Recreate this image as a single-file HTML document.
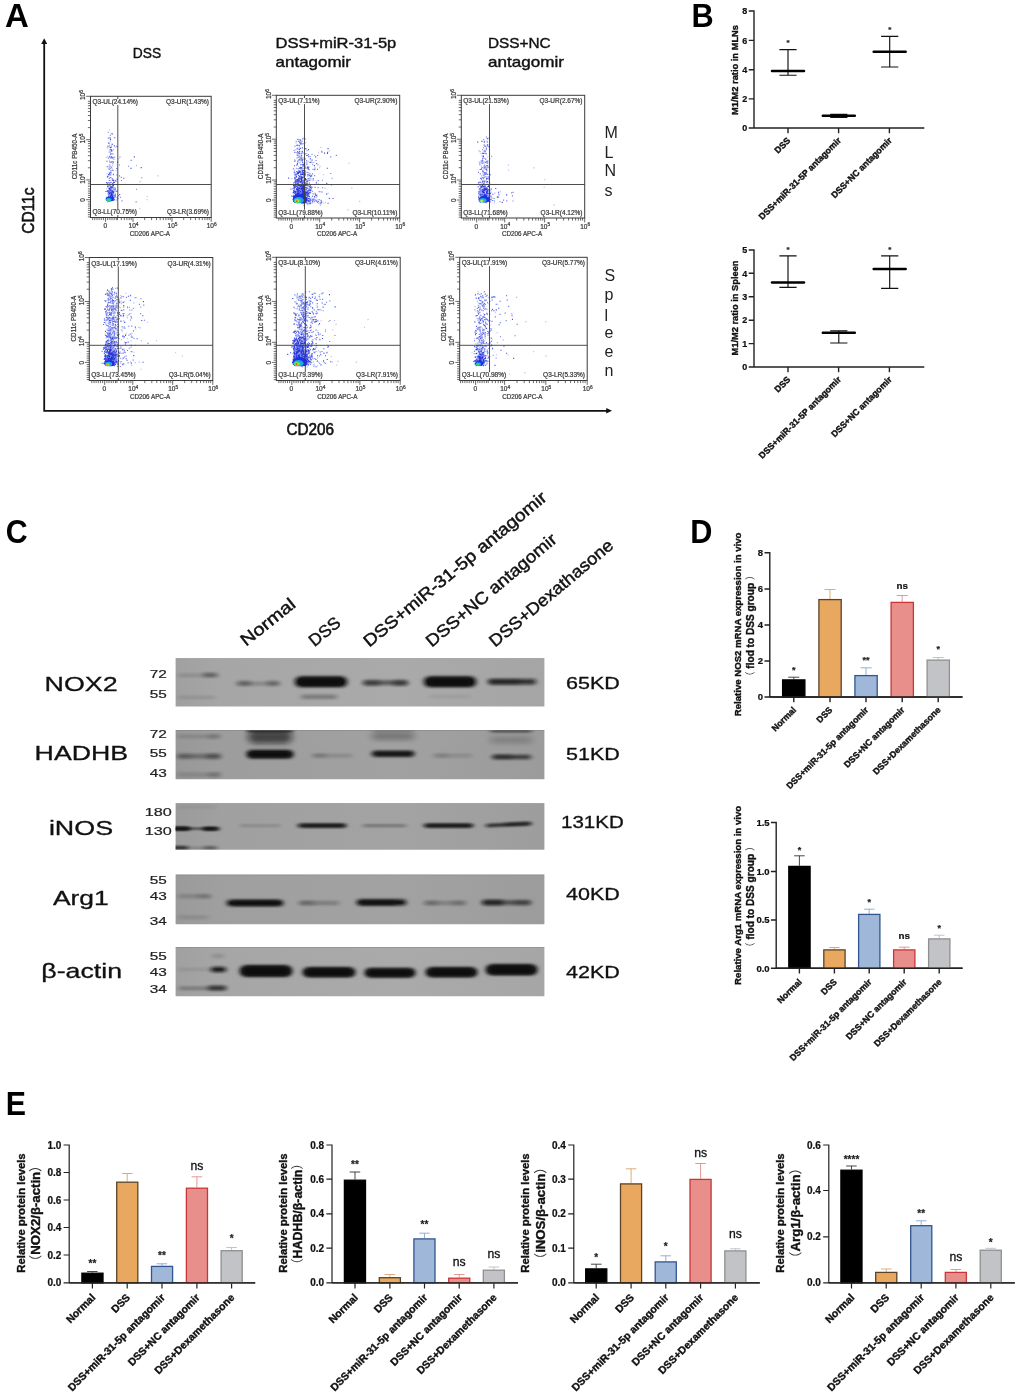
<!DOCTYPE html>
<html lang="en">
<head>
<meta charset="utf-8">
<title>Figure</title>
<style>
html,body{margin:0;padding:0;background:#fff;}
body{width:1020px;height:1399px;overflow:hidden;font-family:'Liberation Sans','Noto Sans CJK SC',sans-serif;}
svg{display:block;font-family:'Liberation Sans','Noto Sans CJK SC',sans-serif;}
</style>
</head>
<body>
<svg width="1020" height="1399" viewBox="0 0 1020 1399">
<g id="panel-letters">
<text transform="translate(4.88,27.00) scale(1.0995,1.1143)" font-size="30" font-weight="bold" fill="#000">A</text>
<text transform="translate(691.44,26.80) scale(1.0235,1.0950)" font-size="30" font-weight="bold" fill="#000">B</text>
<text transform="translate(5.76,542.70) scale(1.0107,1.1080)" font-size="30" font-weight="bold" fill="#000">C</text>
<text transform="translate(690.14,542.80) scale(1.0240,1.0901)" font-size="30" font-weight="bold" fill="#000">D</text>
<text transform="translate(5.77,1115.00) scale(1.0119,1.1047)" font-size="30" font-weight="bold" fill="#000">E</text>
</g>
<defs>
<filter id="soft" x="-5%" y="-5%" width="110%" height="110%"><feGaussianBlur stdDeviation="0.35"/></filter>
<filter id="b1" x="-50%" y="-50%" width="200%" height="200%"><feGaussianBlur stdDeviation="1.1"/></filter>
<filter id="dotb" x="-2%" y="-2%" width="104%" height="104%"><feGaussianBlur stdDeviation="0.45"/></filter>
<filter id="b06" x="-50%" y="-50%" width="200%" height="200%"><feGaussianBlur stdDeviation="0.6"/></filter>
</defs>
<g id="panel-a">
<path d="M44.2 42V410.8H607" fill="none" stroke="#111" stroke-width="1.8"/>
<path d="M44.2 38.3l3 5.6h-6z" fill="#111"/>
<path d="M612 410.8l-5.8 -2.8v5.6z" fill="#111"/>
<text x="132.8" y="57.5" font-size="14.6" fill="#111" stroke="#111" stroke-width="0.4" textLength="28.4" lengthAdjust="spacingAndGlyphs">DSS</text>
<text x="275.6" y="47.5" font-size="14.6" fill="#111" stroke="#111" stroke-width="0.4" textLength="120.7" lengthAdjust="spacingAndGlyphs">DSS+miR-31-5p</text>
<text x="275.6" y="66.7" font-size="14.6" fill="#111" stroke="#111" stroke-width="0.4" textLength="75.3" lengthAdjust="spacingAndGlyphs">antagomir</text>
<text x="488" y="47.7" font-size="14.6" fill="#111" stroke="#111" stroke-width="0.4" textLength="62.7" lengthAdjust="spacingAndGlyphs">DSS+NC</text>
<text x="488" y="66.8" font-size="14.6" fill="#111" stroke="#111" stroke-width="0.4" textLength="75.9" lengthAdjust="spacingAndGlyphs">antagomir</text>
<text transform="translate(34.4,233.8) rotate(-90)" font-size="16.5" fill="#111" stroke="#111" stroke-width="0.6" textLength="46.3" lengthAdjust="spacingAndGlyphs">CD11c</text>
<text x="286.5" y="435" font-size="16.5" fill="#111" stroke="#111" stroke-width="0.6" textLength="47.5" lengthAdjust="spacingAndGlyphs">CD206</text>
<text x="604.5" y="137.7" font-size="16" fill="#222">M</text>
<text x="604.5" y="157.8" font-size="16" fill="#222">L</text>
<text x="604.5" y="176.2" font-size="16" fill="#222">N</text>
<text x="604.5" y="195.6" font-size="16" fill="#222">s</text>
<text x="604.5" y="280.8" font-size="16" fill="#222">S</text>
<text x="604.5" y="299.5" font-size="16" fill="#222">p</text>
<text x="604.5" y="320.5" font-size="16" fill="#222">l</text>
<text x="604.5" y="337.6" font-size="16" fill="#222">e</text>
<text x="604.5" y="356.8" font-size="16" fill="#222">e</text>
<text x="604.5" y="376" font-size="16" fill="#222">n</text>
<g filter="url(#soft)">
<path d="M111.1 167.2h1.1M108.7 194.9h1.1M107.4 176.3h1.1M116.5 146.4h1.1M112.1 198.5h1.1M111.7 133.9h1.1M110.5 153.9h1.1M112.3 170.4h1.1M111.7 144.5h1.1M108.9 194.9h1.1M106.7 166.7h1.1M110.2 189.5h1.1M109 188.3h1.1M112.3 198.5h1.1M109.5 187.7h1.1M109.8 147.6h1.1M107.7 182.8h1.1M107 176.9h1.1M110.5 186.9h1.1M109 173.5h1.1M108.5 194.8h1.1M110.2 194.4h1.1M111 192.2h1.1M111.5 161.6h1.1M106.9 176.2h1.1M110.6 172.7h1.1M110.7 147.1h1.1M111.1 157.3h1.1M108.4 191.8h1.1M110.1 200.1h1.1M113.9 182.5h1.1M109.4 166.3h1.1M109.2 180.5h1.1M110.8 191.1h1.1M111 149.8h1.1M111.6 158.1h1.1M114.2 137.7h1.1M109.2 156.4h1.1M110.7 190.9h1.1M106.5 198.2h1.1M110.5 170.7h1.1M107.9 190.6h1.1M113.8 145.9h1.1M111.2 150.9h1.1M111.5 198.3h1.1M108.2 199.2h1.1M109 184.4h1.1M107.9 192.6h1.1M112.5 157.3h1.1M111.5 197h1.1M110.6 182.5h1.1M112.9 174.8h1.1M109.2 194.5h1.1M109.1 174.7h1.1M108.2 199h1.1M110.2 192.3h1.1M113 182.5h1.1M108.9 189.8h1.1M111 196h1.1M109.9 139.4h1.1M108.7 178.2h1.1M108.2 143h1.1M108 174.6h1.1M110.2 200.1h1.1M109.7 196.1h1.1M107 184.8h1.1M106.4 161.3h1.1M110.5 195.7h1.1M112.5 195.9h1.1M112 198.7h1.1M110.6 192.4h1.1M109.9 190.1h1.1M110.8 192.6h1.1M111.4 195h1.1M111.4 194h1.1M114.3 190h1.1M113.7 199.8h1.1M108.6 195.6h1.1M106.1 182.6h1.1M108.5 197.1h1.1M112.3 186.6h1.1M112.5 197.7h1.1M110.2 187.6h1.1M114.4 195.4h1.1M111.6 199.3h1.1M107.5 194h1.1M114.4 197h1.1M113 198.5h1.1M109.8 194.3h1.1M110.3 198h1.1M109.9 190.4h1.1M107 186.6h1.1M110.7 192.4h1.1M116.4 191.2h1.1M111.4 192.7h1.1M108 196.4h1.1M111.7 191.6h1.1M109.3 201h1.1M109.3 197.1h1.1M109.2 199.9h1.1M111.6 193h1.1M108.7 189.3h1.1M115.5 191.2h1.1M111 196.1h1.1M112.7 184.7h1.1M109.7 195.6h1.1M111.5 186.9h1.1M112.8 197.6h1.1M108.7 195.3h1.1M109.9 172.2h1.1M111.2 190.4h1.1M110.4 195.2h1.1M109.8 189.1h1.1M113.2 198.1h1.1M109.4 192.8h1.1M109.1 192h1.1M106.8 191.4h1.1M108.3 191.5h1.1M105.4 191.5h1.1M113.6 189.4h1.1M112.2 183.5h1.1M108.9 195.2h1.1M114.7 189h1.1M112.6 200.1h1.1M110.9 192.5h1.1M113.4 189.6h1.1M112.9 191.8h1.1M116.7 179h1.1M111.9 199.2h1.1M116.6 197.3h1.1M111.7 178.9h1.1M117.2 198.6h1.1M112.8 162.2h1.1M116.4 168.5h1.1M118.1 195.7h1.1M123.2 178.2h1.1M140.7 167.6h1.1M133.8 156.9h1.1M130.4 168.4h1.1M119.1 194.5h1.1M114.9 194.8h1.1" stroke="#2534e0" stroke-width="1.1" fill="none" opacity="0.85" filter="url(#dotb)"/>
<path d="M107.8 138.1h1.1M110 154.1h1.1M113.8 199.2h1.1M110.7 151h1.1M111.3 198.5h1.1M112.3 193.1h1.1M111.7 180.5h1.1M109.3 185.6h1.1M109.9 149.6h1.1M113.3 181.1h1.1M108.8 169.4h1.1M114.1 157.3h1.1M106.7 199.1h1.1M112.5 179.8h1.1M110.8 150.9h1.1M109.7 177.7h1.1M109.9 190.3h1.1M108.4 143.4h1.1M108.4 146.9h1.1M107.1 146.3h1.1M108.7 145.2h1.1M112.5 192.2h1.1M112.5 183.2h1.1M108.5 198.9h1.1M110.2 174.9h1.1M109.1 194h1.1M111.2 150.6h1.1M114.6 180.2h1.1M110 158h1.1M113.3 159.2h1.1M110 186.7h1.1M108.8 172.9h1.1M110.2 174.8h1.1M114.5 196.6h1.1M109.7 135.2h1.1M110 196.8h1.1M109.2 161.9h1.1M109.5 198.2h1.1M109.1 156.8h1.1M113.4 199.7h1.1M109.5 152.1h1.1M108.2 186.8h1.1M109.4 137.5h1.1M109 184.5h1.1M111.3 199h1.1M110.9 156.7h1.1M106.9 183.6h1.1M107.8 158.1h1.1M112.8 174.3h1.1M112.3 153.8h1.1M111.7 190.3h1.1M108.8 199.2h1.1M112.4 185.3h1.1M110.8 188.7h1.1M110 177.5h1.1M110.7 162.3h1.1M109.5 138.3h1.1M107.7 132.3h1.1M111.9 187.1h1.1M109.3 197.9h1.1M109.3 161.8h1.1M110.3 194.2h1.1M109.8 162.3h1.1M109.9 157.9h1.1M110.2 168.3h1.1M106.4 197.1h1.1M107.6 185.5h1.1M111 191h1.1M110.6 200.1h1.1M109.9 200.4h1.1M110 196.3h1.1M111 194.4h1.1M109.3 197.9h1.1M108.5 194.6h1.1M109.7 194.4h1.1M109.5 189.9h1.1M113.2 197.3h1.1M111.3 184.6h1.1M109.9 198.6h1.1M112.9 200.4h1.1M111.6 192.3h1.1M110.8 194.7h1.1M111.2 197h1.1M106.9 190.6h1.1M111.7 197.1h1.1M110.9 196.2h1.1M107.6 191.6h1.1M112.1 191.3h1.1M110 186.1h1.1M109.8 198.5h1.1M128.1 166.3h1.1M135.9 189.2h1.1M114.5 187.9h1.1M112.1 163.7h1.1M120.7 177.4h1.1M117 162.1h1.1M121.5 200.9h1.1M119.4 157h1.1M135.6 201.9h1.1M141.3 177.7h1.1M119 165h1.1M116.2 175h1.1M115.7 200h1.1M119.9 197.2h1.1M120.9 180.5h1.1M119 175.9h1.1M130.6 160.4h1.1" stroke="#5565e6" stroke-width="1.1" fill="none" opacity="0.85" filter="url(#dotb)"/>
<path d="M113.1 161.5h1.1M110.7 200.1h1.1M110.5 133.4h1.1M110.6 146h1.1M113.2 191.1h1.1M115 193.2h1.1M109.3 195.4h1.1M108.7 197.1h1.1M107.1 202h1.1M108.8 160.2h1.1M108.7 196.4h1.1M110.6 167.5h1.1M108.7 165.3h1.1M113 196.3h1.1M109.4 157.4h1.1M111.1 133.7h1.1M111 193.3h1.1M109.9 173.2h1.1M109.9 198.2h1.1M111.8 143.7h1.1M111.6 188.1h1.1M108.1 168.5h1.1M109.8 141h1.1M108.8 167.9h1.1M109.2 130h1.1M112.9 149.5h1.1M109.1 164.6h1.1M110.1 192.4h1.1M107 156.8h1.1M105.7 157.5h1.1M108.4 152.1h1.1M110.2 191.4h1.1M108.6 194.7h1.1M108.8 149.9h1.1M110.9 145.7h1.1M112.9 149.8h1.1M112.2 165.8h1.1M111.5 143.8h1.1M109.9 140.9h1.1M106.2 188.8h1.1M110.8 172.6h1.1M109.5 199.3h1.1M108.3 198.9h1.1M106.8 147.9h1.1M112.2 185.7h1.1M112.5 158.5h1.1M108.1 187.9h1.1M115.2 147.1h1.1M109.4 199.3h1.1M108.2 166.8h1.1M106.3 173.7h1.1M109.5 193.7h1.1M108.2 180.3h1.1M114.2 189.4h1.1M111.1 177.7h1.1M109.9 194.5h1.1M112.7 190h1.1M110.4 167.4h1.1M109.7 168.9h1.1M108.5 190.5h1.1M110.9 196.6h1.1M118.3 158.8h1.1M125 184.2h1.1M112.5 154.1h1.1M111.7 168.8h1.1M116.4 179.3h1.1M115.5 170.3h1.1M135.9 165.6h1.1M146.4 199.8h1.1M139.4 181.6h1.1M146.8 196.7h1.1M178 184.5h1.1M157.5 175.9h1.1M139.3 208.7h1.1" stroke="#a3acf0" stroke-width="1.1" fill="none" opacity="0.85" filter="url(#dotb)"/>
<path d="M111.6 194.4h1.1M109.7 197.8h1.1M113.2 191.7h1.1M112.9 192.8h1.1M110 192.7h1.1M109.5 190.8h1.1M110.1 196.7h1.1M112.2 197.3h1.1M111.2 196h1.1M110.5 195.3h1.1M111.3 199.9h1.1M112.7 180.4h1.1M111.9 191.2h1.1M108.9 193.4h1.1M112.7 185.4h1.1M108.6 188.5h1.1M111.2 187.6h1.1M110.8 197.9h1.1M112 196.4h1.1M109.1 193.8h1.1M110.6 194h1.1M115.4 181.1h1.1M111.2 193.1h1.1M110.3 198.5h1.1M107.6 201.1h1.1M113.1 192.9h1.1M113.2 195h1.1M111.5 195.8h1.1M109.4 182.9h1.1M112.1 198h1.1M112.7 188h1.1" stroke="#1420d0" stroke-width="1.1" fill="none" opacity="0.85" filter="url(#dotb)"/>
<clipPath id="cc11"><rect x="90.5" y="96.3" width="120.7" height="105.3"/></clipPath>
<g clip-path="url(#cc11)"><g filter="url(#b06)">
<ellipse cx="109.6" cy="199.1" rx="4" ry="2.7" fill="#1a2fe6"/>
<ellipse cx="108.9" cy="199.6" rx="2.7" ry="1.9" fill="#1fa2ee"/>
<ellipse cx="108.2" cy="199.9" rx="1.8" ry="1.2" fill="#30dc6c"/>
</g></g>
</g>
<rect x="90.5" y="96.3" width="120.7" height="121.2" fill="none" stroke="#3a3a3a" stroke-width="1"/>
<path d="M117.8 96.3V217.5M90.5 184.5H211.2" stroke="#3a3a3a" stroke-width="0.9" fill="none"/>
<path d="M105.6 217.5v4.4M133 217.5v4.4M172 217.5v4.4M211.2 217.5v4.4M103.4 217.5v2.6M101.3 217.5v2.6M99.1 217.5v2.6M97 217.5v2.6M94.8 217.5v2.6M92.7 217.5v2.6M107.7 217.5v2.6M109.9 217.5v2.6M112 217.5v2.6M114.2 217.5v2.6M116.3 217.5v2.6M117.5 217.5v2.6M121.3 217.5v2.6M124.3 217.5v2.6M126.9 217.5v2.6M129.2 217.5v2.6M131.2 217.5v2.6M144.7 217.5v2.6M151.6 217.5v2.6M156.5 217.5v2.6M160.2 217.5v2.6M163.3 217.5v2.6M165.9 217.5v2.6M168.2 217.5v2.6M170.2 217.5v2.6M183.7 217.5v2.6M190.6 217.5v2.6M195.4 217.5v2.6M199.2 217.5v2.6M202.3 217.5v2.6M204.9 217.5v2.6M207.2 217.5v2.6M209.2 217.5v2.6M90.5 199.7h-4.4M90.5 179.9h-4.4M90.5 139.7h-4.4M90.5 96.3h-4.4M90.5 201.8h-2.6M90.5 204h-2.6M90.5 206.1h-2.6M90.5 208.3h-2.6M90.5 210.4h-2.6M90.5 212.6h-2.6M90.5 214.7h-2.6M90.5 216.9h-2.6M90.5 197.5h-2.6M90.5 195.4h-2.6M90.5 193.2h-2.6M90.5 191.1h-2.6M90.5 188.9h-2.6M90.5 186.2h-2.6M90.5 183.8h-2.6M90.5 181.8h-2.6M90.5 167.8h-2.6M90.5 160.7h-2.6M90.5 155.7h-2.6M90.5 151.8h-2.6M90.5 148.6h-2.6M90.5 145.9h-2.6M90.5 143.6h-2.6M90.5 141.5h-2.6M90.5 127.6h-2.6M90.5 120.5h-2.6M90.5 115.5h-2.6M90.5 111.6h-2.6M90.5 108.4h-2.6M90.5 105.7h-2.6M90.5 103.4h-2.6M90.5 101.3h-2.6" stroke="#3a3a3a" stroke-width="0.75" fill="none"/>
<rect x="92.2" y="99.1" width="46.1" height="6" fill="#fff"/>
<rect x="165.7" y="99.1" width="43.6" height="6" fill="#fff"/>
<rect x="92.2" y="209.1" width="45" height="6" fill="#fff"/>
<rect x="166.8" y="209.1" width="42.5" height="6" fill="#fff"/>
<g filter="url(#soft)">
<text x="105.2" y="228.2" font-size="6.5" text-anchor="middle" fill="#3a3a3a" stroke="#3a3a3a" stroke-width="0.22">0</text>
<text x="133.5" y="228.2" font-size="6.5" text-anchor="middle" fill="#3a3a3a" stroke="#3a3a3a" stroke-width="0.22">10<tspan dy="-2.3" font-size="4.8">4</tspan></text>
<text x="172.5" y="228.2" font-size="6.5" text-anchor="middle" fill="#3a3a3a" stroke="#3a3a3a" stroke-width="0.22">10<tspan dy="-2.3" font-size="4.8">5</tspan></text>
<text x="211.7" y="228.2" font-size="6.5" text-anchor="middle" fill="#3a3a3a" stroke="#3a3a3a" stroke-width="0.22">10<tspan dy="-2.3" font-size="4.8">6</tspan></text>
<text x="149.9" y="235.9" font-size="6.3" text-anchor="middle" fill="#3a3a3a" stroke="#3a3a3a" stroke-width="0.22">CD206 APC-A</text>
<text transform="translate(85.1,199.9) rotate(-90)" font-size="6.5" text-anchor="middle" fill="#3a3a3a" stroke="#3a3a3a" stroke-width="0.22">0</text>
<text transform="translate(85.1,178.7) rotate(-90)" font-size="6.5" text-anchor="middle" fill="#3a3a3a" stroke="#3a3a3a" stroke-width="0.22">10<tspan dy="-2.3" font-size="4.8">4</tspan></text>
<text transform="translate(85.1,138.5) rotate(-90)" font-size="6.5" text-anchor="middle" fill="#3a3a3a" stroke="#3a3a3a" stroke-width="0.22">10<tspan dy="-2.3" font-size="4.8">5</tspan></text>
<text transform="translate(85.1,95.1) rotate(-90)" font-size="6.5" text-anchor="middle" fill="#3a3a3a" stroke="#3a3a3a" stroke-width="0.22">10<tspan dy="-2.3" font-size="4.8">6</tspan></text>
<text transform="translate(76.9,156.5) rotate(-90)" font-size="6.3" text-anchor="middle" fill="#3a3a3a" stroke="#3a3a3a" stroke-width="0.22">CD11c PB450-A</text>
<text x="92.5" y="104.4" font-size="6.5" fill="#3a3a3a" stroke="#3a3a3a" stroke-width="0.22">Q3-UL(24.14%)</text>
<text x="209" y="104.4" font-size="6.5" text-anchor="end" fill="#3a3a3a" stroke="#3a3a3a" stroke-width="0.22">Q3-UR(1.43%)</text>
<text x="92.5" y="214.4" font-size="6.5" fill="#3a3a3a" stroke="#3a3a3a" stroke-width="0.22">Q3-LL(70.75%)</text>
<text x="209" y="214.4" font-size="6.5" text-anchor="end" fill="#3a3a3a" stroke="#3a3a3a" stroke-width="0.22">Q3-LR(3.69%)</text>
</g>
<g filter="url(#soft)">
<path d="M304.3 194h1.1M302.2 200.1h1.1M302.2 162.7h1.1M304.2 139.2h1.1M294.1 196.4h1.1M305.8 181h1.1M297.1 172.4h1.1M303.9 170.8h1.1M302 160.2h1.1M296.2 191.7h1.1M304.1 191h1.1M303.9 196.3h1.1M301.5 198.9h1.1M300.3 199.9h1.1M296.8 164.1h1.1M297.3 154h1.1M296.1 194h1.1M295.1 198.6h1.1M295.7 174.5h1.1M301 155.6h1.1M298.2 200.6h1.1M298.9 149.4h1.1M296 171.8h1.1M300 140.1h1.1M301.8 151.6h1.1M295.7 174.8h1.1M305.7 188.4h1.1M306.6 172.2h1.1M297.1 197.6h1.1M303.8 172.9h1.1M297.3 139.4h1.1M298.5 197.9h1.1M299.8 148.4h1.1M301.2 195.3h1.1M299 187.8h1.1M297.5 168.7h1.1M293.9 165.7h1.1M299.1 151.6h1.1M299.7 186.9h1.1M297.2 155.5h1.1M301.4 141.2h1.1M297.1 199.4h1.1M301.2 190.5h1.1M306.6 200.4h1.1M293 191.7h1.1M296.7 194.3h1.1M301.5 177h1.1M300.7 179.4h1.1M293.8 172h1.1M301.1 193.9h1.1M304.4 201.2h1.1M299 153.6h1.1M304.1 164.7h1.1M297.8 141.2h1.1M303.2 190.5h1.1M295.4 174.6h1.1M302.4 192.5h1.1M301.6 172.1h1.1M301.8 147.9h1.1M301.7 201h1.1M299.3 170.7h1.1M306.4 200.2h1.1M304.2 197.6h1.1M301.4 190.8h1.1M297.4 200.5h1.1M297.4 161.1h1.1M302.1 184.2h1.1M299.6 158.7h1.1M298.1 187.4h1.1M304.4 192.2h1.1M298.8 201.8h1.1M303.6 185.1h1.1M296.6 148.8h1.1M302.4 201.6h1.1M305.1 148.6h1.1M301.1 155.5h1.1M298.6 159.7h1.1M298.8 197.1h1.1M300.4 143.2h1.1M298.5 197.4h1.1M299.4 191.1h1.1M303.6 190.2h1.1M297.6 157.3h1.1M302.8 181.7h1.1M298.6 179.7h1.1M297.6 152.6h1.1M304.7 193.1h1.1M294.8 198h1.1M302.2 139h1.1M297.2 151.6h1.1M299 142.1h1.1M300.6 159.9h1.1M302.3 199.5h1.1M303.2 193.8h1.1M294.3 178.9h1.1M302.1 198.2h1.1M297.7 191.8h1.1M300.3 200.7h1.1M303.2 180.2h1.1M301.6 168.8h1.1M298.1 173h1.1M299.1 171.6h1.1M301.6 196.4h1.1M294.9 182.1h1.1M296.2 199.3h1.1M297.4 195h1.1M301.8 187.2h1.1M302.7 199.7h1.1M298.1 179.1h1.1M297.4 192.6h1.1M305.3 199.1h1.1M301.5 191h1.1M302.8 193.1h1.1M300.2 182.2h1.1M298.9 194.6h1.1M299.6 189.7h1.1M297.5 180.8h1.1M301.9 190.7h1.1M302.5 192.7h1.1M301 188.1h1.1M299.8 189.2h1.1M296.1 176.9h1.1M296.6 199.3h1.1M303.4 191.4h1.1M304.3 170.6h1.1M299.4 199.4h1.1M298.3 193.7h1.1M298.5 193.6h1.1M305.2 199h1.1M296.4 193h1.1M303 197.4h1.1M297.4 191.9h1.1M297.4 188.2h1.1M301.4 201.5h1.1M288.1 178.1h1.1M297.6 196.3h1.1M295.7 193.8h1.1M296.9 163.4h1.1M301.8 199.3h1.1M301.6 198h1.1M296.8 190.7h1.1M293.4 199.7h1.1M303.1 188.4h1.1M298.9 180.7h1.1M297.1 172h1.1M297.2 194.7h1.1M298.8 171h1.1M300.7 167.6h1.1M300 197.2h1.1M303 189.4h1.1M302 177.7h1.1M307.3 185.5h1.1M302.5 199.1h1.1M305.9 200.2h1.1M303.2 193.4h1.1M300.9 202h1.1M305.1 189.9h1.1M309 192.5h1.1M299.3 196.5h1.1M297.7 191.4h1.1M304.9 200.1h1.1M294.4 174.9h1.1M305.7 198.7h1.1M299 194.5h1.1M299.2 176.5h1.1M299 178.8h1.1M307.6 198.7h1.1M295.2 197.9h1.1M312.1 199.2h1.1M297.2 185h1.1M298.8 187.9h1.1M304 183h1.1M302.6 194.1h1.1M293.3 192.1h1.1M296.5 195.2h1.1M302.1 199.7h1.1M306.3 188.3h1.1M303.1 198.9h1.1M303.5 198.6h1.1M294.3 193.4h1.1M303.4 180h1.1M299.6 199.5h1.1M302.8 195.4h1.1M297.7 185.4h1.1M303.5 184.2h1.1M309.7 185.5h1.1M295.6 182.9h1.1M299.7 190.6h1.1M296.9 197.6h1.1M300.5 200h1.1M295.1 185.4h1.1M292.5 188.6h1.1M296.7 191.8h1.1M305.3 195.1h1.1M296.2 165.3h1.1M296 188.8h1.1M302.2 170.5h1.1M295.2 199.3h1.1M295.1 197.5h1.1M309.6 200.4h1.1M304.3 198.6h1.1M294.3 197.2h1.1M299 168.1h1.1M309.6 176h1.1M303.6 185.3h1.1M296.2 188.9h1.1M299.6 177.6h1.1M310.4 200h1.1M299.5 185.8h1.1M297 182.7h1.1M294.9 175h1.1M301.6 195.5h1.1M294 187h1.1M301.2 188.6h1.1M306.8 188.5h1.1M297 193.8h1.1M296.4 193.5h1.1M296.2 188.5h1.1M303.1 190.8h1.1M295.2 180.3h1.1M304.6 190.1h1.1M307.1 183.9h1.1M298.5 178h1.1M301.6 197.5h1.1M300.5 195.6h1.1M300.6 194.6h1.1M297.5 188.4h1.1M300.4 178.1h1.1M305.4 185.1h1.1M304.9 196.7h1.1M300.3 194.7h1.1M309.6 199.4h1.1M304 198.3h1.1M302.7 195.8h1.1M298.3 185.6h1.1M297.6 173.2h1.1M297.7 184.5h1.1M294.6 182h1.1M300.3 174.7h1.1M301.7 184.1h1.1M308.1 193.9h1.1M299.4 192.3h1.1M305.1 199.8h1.1M298.1 200.4h1.1M298.7 189.5h1.1M301.2 176.3h1.1M300.7 196.6h1.1M301.3 196.3h1.1M298.4 190.5h1.1M297.3 183.1h1.1M301.2 191.7h1.1M305.8 197.5h1.1M307.5 191.8h1.1M303.4 195h1.1M300.4 196h1.1M297.9 183.2h1.1M305.8 189.1h1.1M296.3 194.1h1.1M301.7 189.3h1.1M302.2 178h1.1M296 194.5h1.1M301.1 196.6h1.1M305.6 183.2h1.1M300.9 189h1.1M302 198h1.1M298.2 170.9h1.1M303.2 186.9h1.1M304.3 201.5h1.1M307.2 168.3h1.1M306.9 195.8h1.1M296.3 186.3h1.1M297.4 193.9h1.1M303.5 196.8h1.1M304 180.3h1.1M301.6 195.8h1.1M302.5 191.4h1.1M300.2 194.6h1.1M302.7 181.3h1.1M304 199.7h1.1M308.8 190.6h1.1M298.6 192.2h1.1M299.3 190.3h1.1M297.9 194.8h1.1M294.7 186.5h1.1M294.6 191.6h1.1M297.9 184.6h1.1M303.4 175.8h1.1M300.9 179.9h1.1M297.9 189.8h1.1M295 195.5h1.1M303.9 194.5h1.1M294.3 152.4h1.1M302.2 174.2h1.1M302.7 199.8h1.1M296.1 201.2h1.1M304.5 178.8h1.1M302 182.8h1.1M308.3 178.5h1.1M298.1 185.3h1.1M299.2 177.5h1.1M304.1 180.7h1.1M307.6 196.6h1.1M303.2 194.6h1.1M304.2 184.3h1.1M306.8 191.3h1.1M306.2 192.6h1.1M307 192.6h1.1M295.7 179.7h1.1M299.1 189.9h1.1M300.1 186.4h1.1M306.7 193.6h1.1M307.3 193.5h1.1M299.6 200h1.1M297.2 200.8h1.1M309 192.7h1.1M296.9 196.6h1.1M307.6 201.5h1.1M305.4 179.5h1.1M298.5 194.8h1.1M297.8 199h1.1M297.4 190.1h1.1M298.9 193.1h1.1M296.7 199.5h1.1M297 184.1h1.1M300.6 194h1.1M297.6 197.4h1.1M300.9 180.6h1.1M298.5 184.3h1.1M296.1 196.6h1.1M294.9 185.2h1.1M295.9 189.9h1.1M297.9 195.1h1.1M298.3 192.9h1.1M301.6 181.5h1.1M299.3 181.6h1.1M296.5 197.5h1.1M304.7 198.5h1.1M306.8 185.6h1.1M304.2 174.1h1.1M294.4 161.1h1.1M293.6 185.1h1.1M301.8 183.1h1.1M309.3 198.4h1.1M302.8 193.8h1.1M308.2 167.1h1.1M310.1 190.1h1.1M297.5 191.1h1.1M299.9 181.6h1.1M300.8 185.3h1.1M306.8 194.4h1.1M310.4 176.4h1.1M303.6 193.1h1.1M302.9 197h1.1M307.9 190.7h1.1M300.1 189.4h1.1M299.2 194.6h1.1M300.9 195.7h1.1M303.2 172.5h1.1M299 197h1.1M297.8 197.1h1.1M298.7 194.5h1.1M300.7 195.6h1.1M299.4 182.3h1.1M301.6 192.9h1.1M303.3 191.4h1.1M306.9 190.7h1.1M298.9 186.3h1.1M302.9 195.7h1.1M298.1 175.6h1.1M297.9 198.4h1.1M298.2 194.9h1.1M299.3 197.9h1.1M301.1 197.1h1.1M306.6 187.9h1.1M308.7 189.1h1.1M305.2 191.4h1.1M307.4 174.4h1.1M302.3 159.1h1.1M316 195.5h1.1M301.3 192.9h1.1M302.4 198.4h1.1M326.2 183.4h1.1M304 197.8h1.1M308.9 190.8h1.1M326.9 153.4h1.1M309.3 180.4h1.1M309.7 203.5h1.1M314.5 187.2h1.1M308.2 156.8h1.1M312.7 178.9h1.1M310.1 202.8h1.1M302.3 166.3h1.1M320.7 203h1.1M306.3 164.3h1.1M304.8 185.4h1.1M321.1 202.1h1.1M314.1 175.8h1.1M303.9 168.5h1.1M304.3 170.2h1.1M301.1 185.8h1.1M320.5 200.8h1.1M309.3 199.8h1.1M308 149.6h1.1M313.9 165.6h1.1M301.3 197.7h1.1M314 196.6h1.1M305.5 187.6h1.1M307.8 169.1h1.1M308.5 198.8h1.1M311.3 187.1h1.1M304.6 188.3h1.1M315.1 195h1.1M303.1 164.2h1.1M307 167.1h1.1M316.9 202.1h1.1M305.1 198.4h1.1M328.8 198.4h1.1M301.9 177.5h1.1M304.5 202.5h1.1M303.8 201.9h1.1M301.9 173h1.1M326.8 168.3h1.1M304.6 197.4h1.1M309.9 158.7h1.1M310.6 189h1.1M310.1 192.7h1.1M311.9 196.2h1.1M308.6 175.2h1.1M302.6 191h1.1M301.6 198.1h1.1M303.1 164.7h1.1M305.6 192.4h1.1M304.4 201.5h1.1M301.2 201.4h1.1M301.9 162h1.1M327.1 152.3h1.1M308.9 183h1.1M316.2 163.6h1.1M303.6 176.1h1.1M302 164.8h1.1M308.2 200.6h1.1M306.2 199.9h1.1M302.3 199.7h1.1M313.3 199.6h1.1M302.5 196h1.1M301.2 203.4h1.1M305.4 168.1h1.1M306.1 160.8h1.1M320.6 200.7h1.1M312.4 200.8h1.1M303.4 177.3h1.1M304.1 200.8h1.1M327.5 203.3h1.1M304.5 189.4h1.1M304.4 201.7h1.1M302.7 196.5h1.1M304 163.8h1.1M326.1 194.1h1.1M315.1 156.9h1.1M302.3 159.8h1.1M332.5 198.5h1.1M301.3 164.8h1.1M309.4 162.5h1.1M324 153.1h1.1M306.7 181.6h1.1M301.3 167.8h1.1M301.9 171.6h1.1M312.1 201.9h1.1M327.5 148.6h1.1M307.6 193.6h1.1M311.5 160.1h1.1M301.6 160.5h1.1M305.3 179.5h1.1M314.2 169.6h1.1M306.6 203.8h1.1M316.1 200.9h1.1M301.3 195.9h1.1M318.5 199.8h1.1M304.4 203.2h1.1M308.5 201.5h1.1M304.5 187.4h1.1M321.4 192h1.1M310.3 187.3h1.1" stroke="#2534e0" stroke-width="1.1" fill="none" opacity="0.85" filter="url(#dotb)"/>
<path d="M293.9 172.5h1.1M298.2 172h1.1M298.9 198.4h1.1M304.7 192.3h1.1M301.3 192.6h1.1M306 189.1h1.1M294.4 201h1.1M302.2 193.2h1.1M296.4 158h1.1M297.3 197.6h1.1M298.5 194.7h1.1M294.4 146.1h1.1M297.3 145.6h1.1M302.5 170.1h1.1M296.7 200.7h1.1M299.6 143.4h1.1M299.7 192.3h1.1M300.8 186.8h1.1M299.9 164.8h1.1M295.7 194.6h1.1M299.2 159.7h1.1M293.5 150.5h1.1M300.5 153.9h1.1M295.3 182.6h1.1M296.5 174.1h1.1M298.6 145.2h1.1M302.5 194.5h1.1M296 191.4h1.1M302.5 143.6h1.1M304.1 176.1h1.1M296.9 145.1h1.1M299.2 139.9h1.1M297.8 199h1.1M295.7 141.3h1.1M295.8 168.2h1.1M298.6 171.4h1.1M300.9 153.9h1.1M303 172.5h1.1M296.9 201h1.1M303.6 179.5h1.1M299.3 162.7h1.1M299.6 176h1.1M300.6 198.5h1.1M300.8 186.1h1.1M297 199.9h1.1M300.9 199.7h1.1M300.8 143.9h1.1M298.5 188.9h1.1M298.8 201.3h1.1M300.4 173.4h1.1M298.7 198.8h1.1M304.8 167.1h1.1M299.3 185.1h1.1M300.1 172.5h1.1M301.1 198.7h1.1M302.1 196.7h1.1M301.7 194.3h1.1M299.9 167.2h1.1M303.2 174.2h1.1M293.8 200.4h1.1M305.8 195.2h1.1M294.2 198.9h1.1M298.3 160h1.1M304.3 196.8h1.1M295.4 182.2h1.1M296.9 148.8h1.1M299.2 156.1h1.1M297.3 199.4h1.1M296.3 145.4h1.1M300.8 183.7h1.1M296.7 199h1.1M295.2 192.7h1.1M302.6 173.7h1.1M303.3 166h1.1M295.3 199.9h1.1M300.1 200.3h1.1M306.4 202.7h1.1M294.6 198.2h1.1M294.2 160h1.1M305.1 182.5h1.1M305.2 196.7h1.1M298.6 149.5h1.1M297.4 198.6h1.1M293.3 201.5h1.1M299.1 145.7h1.1M301.5 192.5h1.1M293.6 198.6h1.1M302.2 190.5h1.1M302.9 186.6h1.1M299.6 199.1h1.1M299.9 143.1h1.1M304.2 172.9h1.1M302.6 200.5h1.1M295.3 201.9h1.1M296.2 200h1.1M302.3 196.7h1.1M298.6 200.7h1.1M296.3 152.8h1.1M301 189.8h1.1M302.6 180.5h1.1M296.6 180.7h1.1M302 192.8h1.1M300.3 142.8h1.1M300 182.5h1.1M301.4 187.3h1.1M300.7 157.3h1.1M299.5 157.2h1.1M300.7 185.2h1.1M303.3 193h1.1M300.5 169.2h1.1M292.8 168.9h1.1M308 154.6h1.1M298.8 153.1h1.1M300 187.1h1.1M298.8 181.8h1.1M301.7 196.9h1.1M302 200.5h1.1M300.1 144.1h1.1M299.5 192.3h1.1M298.6 156.2h1.1M303.8 183.7h1.1M300.3 167.8h1.1M300 200.6h1.1M296 198h1.1M303.5 196.5h1.1M294.7 195.6h1.1M300.5 194.3h1.1M295.1 180.5h1.1M305.1 192h1.1M306.3 194.1h1.1M304.9 194.7h1.1M290.4 189.1h1.1M294.5 173.1h1.1M306 197.7h1.1M301.6 192.3h1.1M296.9 193.1h1.1M300.5 182.6h1.1M293.8 191.5h1.1M303.9 194.3h1.1M293.9 188.2h1.1M294.6 202.3h1.1M296.6 185.4h1.1M295.8 186.6h1.1M310.4 188.3h1.1M301.9 193h1.1M302.4 174.5h1.1M301.4 199.4h1.1M297.5 192.7h1.1M299.4 176.7h1.1M298.6 190.3h1.1M294.1 195.9h1.1M301.9 190.6h1.1M307.2 175.9h1.1M299.5 196.8h1.1M301.7 196.8h1.1M303.6 176.6h1.1M300.6 195.2h1.1M299.5 197.9h1.1M304.6 190.4h1.1M308.4 189.1h1.1M302.8 177.5h1.1M300 193.1h1.1M295.7 177h1.1M306.1 188.5h1.1M295.5 199.6h1.1M299.5 196.8h1.1M293.9 193.5h1.1M307.6 195.8h1.1M298.7 188.8h1.1M300.8 183.3h1.1M294.4 195.7h1.1M298.4 197.1h1.1M297.1 187.1h1.1M304.4 195.7h1.1M302.5 181.4h1.1M301.5 186h1.1M299.5 197.5h1.1M302.2 181h1.1M296.8 189.1h1.1M303.8 197.8h1.1M295.1 195.7h1.1M300.8 188.9h1.1M297.3 198.8h1.1M295.5 199.3h1.1M298.4 193.1h1.1M303.4 182.7h1.1M306.4 193.6h1.1M302.6 188.1h1.1M296.3 197.3h1.1M305.2 201.5h1.1M297.1 185.5h1.1M303.1 202h1.1M298.2 182.5h1.1M293.1 195.3h1.1M294.6 182h1.1M296.7 198.2h1.1M296.3 184.7h1.1M299.6 194h1.1M303.5 194.6h1.1M297.6 189.7h1.1M298.9 199.3h1.1M301.5 196.2h1.1M295.1 192.6h1.1M303.8 195h1.1M295.2 192.9h1.1M297.1 188.8h1.1M304 187.1h1.1M305.1 194.1h1.1M297.4 185.1h1.1M294.2 189.2h1.1M296 181.2h1.1M299.2 201.4h1.1M299.5 179.2h1.1M304.4 194.9h1.1M301 199h1.1M305.2 196.2h1.1M303.8 191.5h1.1M300.5 196h1.1M293.8 189.9h1.1M313.3 198.9h1.1M300.5 188.1h1.1M298.2 194.6h1.1M304.4 195.9h1.1M302 196.1h1.1M307 196.6h1.1M302 199.4h1.1M303.4 185.1h1.1M299.1 180.7h1.1M302.8 175h1.1M302.2 191h1.1M305.6 192.1h1.1M298.6 186.2h1.1M295.2 197h1.1M302.3 183.9h1.1M293.8 193.2h1.1M295.6 184.8h1.1M308.3 190.1h1.1M299.2 192.4h1.1M292.8 196.6h1.1M293.1 195.7h1.1M306.8 194.7h1.1M315 195.1h1.1M318.6 191.8h1.1M321.5 152.1h1.1M303.2 200.9h1.1M312.5 193.7h1.1M302.7 195h1.1M301.8 151.3h1.1M302.8 202h1.1M317 155.5h1.1M301.9 179h1.1M321.9 180.3h1.1M308.7 169.8h1.1M302.7 203.6h1.1M300.8 183.5h1.1M312 199.9h1.1M304.7 175.2h1.1M303.4 168.2h1.1M309.7 187.1h1.1M301.2 160h1.1M303.4 198.3h1.1M304.4 180.8h1.1M318.1 201.6h1.1M306.5 155.3h1.1M306.3 162.7h1.1M306.4 195.5h1.1M306 155.5h1.1M321.1 151.2h1.1M317.7 180.6h1.1M301.5 174.5h1.1M309.6 190.6h1.1M314.2 197.4h1.1M309.7 201.2h1.1M314.8 200.7h1.1M316.4 196.3h1.1M301.3 194.3h1.1M304.7 197.7h1.1M306.5 197.8h1.1M330.2 156.9h1.1M318.9 191.7h1.1M314.7 193.7h1.1M322 187.8h1.1M308.6 203h1.1M304.4 194.3h1.1M311.1 176h1.1M302.8 165.1h1.1M303.5 205.6h1.1M302.1 193.5h1.1M302.6 186h1.1M302.3 202.7h1.1M304.8 153.9h1.1M307.8 168.8h1.1M330.2 173.5h1.1M301.2 177.2h1.1M312.6 180.2h1.1M307 155.5h1.1M306.5 183.1h1.1M301.5 199.5h1.1M312 173.9h1.1M317.5 187.6h1.1M302.9 187h1.1M314.5 193.3h1.1M301.5 202.1h1.1M305 171.8h1.1M311 175.2h1.1M301.5 152.3h1.1M304 176.9h1.1M300.9 158.4h1.1M305.2 179.4h1.1M306 185.4h1.1M311.5 154.3h1.1M304.7 158.9h1.1M306.8 195.7h1.1M309.5 178.1h1.1M301.6 184.9h1.1M301.1 157.1h1.1M301.9 178.7h1.1M315.5 160.5h1.1M309.6 203.7h1.1M308.5 194.1h1.1M314.4 168.1h1.1M308.2 186.2h1.1M302 178.8h1.1M316.9 169.4h1.1M309.5 156.5h1.1M335.8 155.4h1.1M303.1 188.2h1.1M301.6 203h1.1M309.4 174h1.1M303.9 159.2h1.1M317.5 165h1.1M319.8 203h1.1M306.6 203h1.1M304.4 173.6h1.1M306.4 192.6h1.1M312 191.2h1.1M305.9 202.5h1.1M310.8 175.2h1.1M319.8 205h1.1M331.6 178.3h1.1M312.1 164.8h1.1M319.6 203.1h1.1M314 201.7h1.1M308.4 204h1.1M309.1 175.5h1.1M312.5 169.4h1.1" stroke="#5565e6" stroke-width="1.1" fill="none" opacity="0.85" filter="url(#dotb)"/>
<path d="M301.7 199.7h1.1M306.9 184.9h1.1M295.8 190.5h1.1M300 186.9h1.1M303.4 194.1h1.1M304.5 190.8h1.1M298.8 199.3h1.1M293.7 195.4h1.1M300 141.2h1.1M304.6 188.5h1.1M302.1 199.8h1.1M305.2 142.6h1.1M299.3 177.5h1.1M301.9 185.8h1.1M299 150.2h1.1M304.3 192.7h1.1M297.6 148.1h1.1M299.9 160h1.1M300 160.8h1.1M303.7 198.3h1.1M299.9 173.7h1.1M296.4 180.6h1.1M297.3 161.1h1.1M300.4 199.6h1.1M297.5 187.5h1.1M306 200.1h1.1M294.5 201.3h1.1M298.9 186.4h1.1M310.8 198h1.1M302.3 196.7h1.1M298.1 166.2h1.1M304.8 138.5h1.1M295.6 175.1h1.1M296.4 198.5h1.1M308.7 199.2h1.1M294 170.1h1.1M302.3 181h1.1M299.5 200.1h1.1M293.6 192.2h1.1M297.3 198.5h1.1M294.5 186.5h1.1M296.2 155.1h1.1M293.7 174.1h1.1M298.8 170.5h1.1M293 192.2h1.1M299 156.9h1.1M295.1 194.5h1.1M296 184.1h1.1M301.5 181.1h1.1M301.4 160.3h1.1M306.1 153.5h1.1M301.2 157.1h1.1M305.7 190.8h1.1M303.3 192.8h1.1M304 172.1h1.1M303 138.1h1.1M301.4 196.4h1.1M297.3 162.5h1.1M297.1 201.1h1.1M295.9 191.8h1.1M298.9 157.3h1.1M299 147h1.1M295.3 198.6h1.1M299.9 195.3h1.1M299.2 195.2h1.1M295.5 200.8h1.1M300.4 172.4h1.1M300.6 157.8h1.1M299.3 198.5h1.1M301.6 144.1h1.1M298.8 189.3h1.1M298 200.9h1.1M297.5 153.6h1.1M302.7 198.2h1.1M299.4 189.6h1.1M294.5 199.7h1.1M300.9 184.1h1.1M295.8 184.4h1.1M304.1 197.4h1.1M299.5 192.8h1.1M299.6 191.5h1.1M301.5 197.8h1.1M295.5 142.9h1.1M295.7 198.2h1.1M298.5 193.2h1.1M295.3 149.6h1.1M304 199.6h1.1M299.2 199.1h1.1M300.2 176.3h1.1M296.7 186.6h1.1M299.8 199.1h1.1M295.2 187.3h1.1M302.5 193.7h1.1M300.5 185h1.1M300.9 194.6h1.1M304 175.2h1.1M298.1 195.4h1.1M302.2 195.3h1.1M291.4 178.6h1.1M297.9 190h1.1M327.5 193.2h1.1M309.4 159.7h1.1M305 166.1h1.1M320 191.8h1.1M313.4 162.4h1.1M306.5 150.6h1.1M311.6 202.9h1.1M312.1 162.8h1.1M313.4 194.9h1.1M310.7 179.1h1.1M307.2 201.9h1.1M315.5 181h1.1M315.9 197.7h1.1M306.8 188h1.1M302.6 193.5h1.1M302.7 157.8h1.1M317.9 152.3h1.1M304.2 200.9h1.1M301 170.5h1.1M305.6 189.1h1.1M317.7 183.7h1.1M302.8 182.8h1.1M318 203.2h1.1M303.1 200.4h1.1M303.7 184.5h1.1M302.2 153.4h1.1M323.1 174.8h1.1M309.3 173.2h1.1M305.9 149.1h1.1M305 180.6h1.1M313.9 197.2h1.1M314.1 155.4h1.1M304.4 173h1.1M308.6 174.5h1.1M300.8 155.9h1.1M319 167.8h1.1M328.6 150.9h1.1M320.6 200h1.1M307.1 150.6h1.1M305.4 183h1.1M307.3 204.8h1.1M301.4 196.5h1.1M301.9 161.8h1.1M308.8 197.8h1.1M306.2 193.3h1.1M301.6 192.7h1.1M312.2 187.7h1.1M319.5 166.3h1.1M303.9 156.1h1.1M304.8 188.6h1.1M324.9 202.3h1.1M302.3 180.9h1.1M320.1 202.3h1.1M312.6 199.4h1.1M314.3 199.9h1.1M307.6 161.5h1.1M311.3 200.6h1.1M302 152.5h1.1M306.9 178.8h1.1M301.1 203.2h1.1M323.2 203.3h1.1M324.5 188.1h1.1M301.4 160.9h1.1M309.5 184.4h1.1M308.6 202h1.1M307.9 200.6h1.1M304 196.3h1.1M301.4 192.4h1.1M306.9 199.6h1.1M303.8 148.8h1.1M315.1 199.6h1.1M316.5 194.6h1.1M304.8 200.8h1.1M301.7 198.2h1.1M301.8 203.5h1.1M301.9 168.2h1.1M308.1 172.6h1.1M304.8 186.8h1.1M302.3 179.6h1.1M303.2 153h1.1M308.7 200.4h1.1M320.3 147.5h1.1M300.9 173h1.1M307.6 179.4h1.1M359.1 201.4h1.1M351.3 188.1h1.1M317.6 199.5h1.1M348.4 163.3h1.1M347.5 209.9h1.1M330.9 185.5h1.1" stroke="#a3acf0" stroke-width="1.1" fill="none" opacity="0.85" filter="url(#dotb)"/>
<path d="M310.4 162.1h1.1M295.1 192.2h1.1M305.5 184h1.1M295 187.3h1.1M307.4 180.6h1.1M298.9 197.1h1.1M302.5 185.5h1.1M293.2 196.3h1.1M301.8 194.4h1.1M294.6 199.6h1.1M293.6 187.7h1.1M297.7 173.8h1.1M295.2 183.8h1.1M294.5 198.2h1.1M294.7 196.8h1.1M296.3 181.1h1.1M297.7 178.3h1.1M297.1 187.8h1.1M294.3 177.4h1.1M296.1 200.6h1.1M307.5 195.1h1.1M299.6 196.1h1.1M295.1 185h1.1M298.3 199.3h1.1M301.3 180.8h1.1M299.9 196.8h1.1M307.9 193.1h1.1M300.4 188.4h1.1M308.5 201.1h1.1M301.1 177.1h1.1M296 197.4h1.1M303.4 189.1h1.1M301.7 187.5h1.1M304.3 194.1h1.1M294.7 181.3h1.1M297.4 180.3h1.1M302.2 194.3h1.1M293.2 198.7h1.1M298.1 172.8h1.1M304.9 193.3h1.1M293.3 182.9h1.1M298.8 199.2h1.1M296.4 186.5h1.1M305.2 193.3h1.1M302.6 185.3h1.1M295.2 191.7h1.1M303.1 193.6h1.1M302.7 173.9h1.1M299.5 192.2h1.1M296.7 173.6h1.1M303.2 192.1h1.1M297.2 181.2h1.1M305.1 184.6h1.1M301.4 199.9h1.1M300.5 181.6h1.1M297.3 179.5h1.1M305.5 192.3h1.1M296.5 189.8h1.1M296.1 198h1.1M304.4 201.8h1.1M301.6 174.5h1.1M296.6 202h1.1M308.8 196.4h1.1M298 181.2h1.1M298.1 196.1h1.1M298.4 199.6h1.1M296.6 179.5h1.1M301.7 189.1h1.1M297.3 179.6h1.1M302.4 188.9h1.1M300.8 178.6h1.1M303.5 194h1.1M297.6 199.5h1.1M301.8 193.8h1.1M301.5 177.5h1.1M300.2 200.3h1.1M300.1 171.9h1.1M302.3 182.8h1.1M302.5 194.4h1.1M294.6 191.4h1.1M296.9 195.1h1.1M295.2 194.4h1.1M296.8 194.8h1.1M300.8 188.6h1.1M303.1 192.6h1.1M299 188.8h1.1M293 185.6h1.1M301.9 191h1.1M295.8 197.1h1.1M294.6 178.2h1.1M309.7 187.2h1.1M301.5 201h1.1M299.9 199.9h1.1M307.5 198.5h1.1M299.9 186.4h1.1M301.5 197.1h1.1M295.7 176.2h1.1M303.2 185.2h1.1M301.8 200.4h1.1M300.3 174.4h1.1M300.6 180h1.1M299.6 196.3h1.1M302.3 191.3h1.1M303.9 198.6h1.1M310.2 190.8h1.1M294.2 199.8h1.1M303.6 172h1.1M293.7 186.8h1.1M305 179.7h1.1M300.1 198.5h1.1M299.7 196.5h1.1M297.4 201.1h1.1M302.5 188.2h1.1M293.5 185.8h1.1M302.3 185.7h1.1M293.3 190.5h1.1M299.9 191.5h1.1M303.1 194.7h1.1M300.8 185.6h1.1M304.7 193h1.1M305.6 198.2h1.1M315.8 182.9h1.1M298.3 196.9h1.1M297.9 193.4h1.1M298.8 172.4h1.1M296.4 197.2h1.1M298.5 194h1.1M299.2 195.6h1.1M301.4 197.1h1.1M297.3 189.7h1.1M300.7 180h1.1M304.3 197.4h1.1M293.6 186.7h1.1M306.4 192.9h1.1M300.1 186.4h1.1M303.8 194.2h1.1M304 189.3h1.1M300.7 181.8h1.1M304.9 194.8h1.1M297.6 191.8h1.1M298.2 190.7h1.1M299.3 185.4h1.1M304.1 173.4h1.1M296.1 198.4h1.1M294.8 194.8h1.1M293.6 192h1.1M297.4 196.1h1.1M302 191.8h1.1M303 186.6h1.1M302.8 191.3h1.1M300.6 178.9h1.1M296.8 189.5h1.1M301.6 189h1.1M304.9 178.5h1.1M297 197.2h1.1M303 187.2h1.1M294.7 195.6h1.1M307.9 200.8h1.1M303.6 196.8h1.1M297.1 198.9h1.1M308.9 186.7h1.1M292.7 192.6h1.1M296.7 194.1h1.1M296.8 194h1.1M303.9 199.3h1.1M295.7 195.9h1.1M297.8 184.6h1.1M302.2 195.6h1.1M302 186.4h1.1M291.4 196.1h1.1M298.7 196.9h1.1M305.2 200.3h1.1M298.4 188.5h1.1M303.5 170.6h1.1M295.6 198.2h1.1M301.8 192.9h1.1M302.3 170.8h1.1M302.1 190.2h1.1M301.3 188.3h1.1M306.4 200.1h1.1M298.5 193.5h1.1M304.1 162.8h1.1M304.4 174.5h1.1M297.7 189.7h1.1M300.6 194.4h1.1M301.8 193.4h1.1M301.1 198h1.1M299.4 176.2h1.1M297.9 197.4h1.1M293 196.6h1.1M303.4 199.9h1.1M304.1 184.5h1.1M300.2 168.1h1.1M301.8 188.5h1.1M298.9 199.5h1.1" stroke="#1420d0" stroke-width="1.1" fill="none" opacity="0.85" filter="url(#dotb)"/>
<clipPath id="cc12"><rect x="276.3" y="95.3" width="123.4" height="108"/></clipPath>
<g clip-path="url(#cc12)"><g filter="url(#b06)">
<ellipse cx="300" cy="199.4" rx="7.4" ry="5.1" fill="#1a2fe6"/>
<ellipse cx="298.6" cy="200.3" rx="5.1" ry="3.4" fill="#1fa2ee"/>
<ellipse cx="297.5" cy="200.8" rx="3.3" ry="2.3" fill="#30dc6c"/>
<ellipse cx="297" cy="201" rx="2.1" ry="1.4" fill="#e8dc30"/>
<ellipse cx="296.8" cy="201.1" rx="1.2" ry="0.9" fill="#f0501e"/>
</g></g>
</g>
<rect x="276.3" y="95.3" width="123.4" height="122.7" fill="none" stroke="#3a3a3a" stroke-width="1"/>
<path d="M304.5 95.3V218M276.3 184.5H399.7" stroke="#3a3a3a" stroke-width="0.9" fill="none"/>
<path d="M291.7 218v4.4M319.7 218v4.4M359.6 218v4.4M399.7 218v4.4M289.6 218v2.6M287.4 218v2.6M285.3 218v2.6M283.1 218v2.6M281 218v2.6M278.8 218v2.6M293.9 218v2.6M296 218v2.6M298.2 218v2.6M300.3 218v2.6M302.5 218v2.6M303.9 218v2.6M307.7 218v2.6M310.9 218v2.6M313.6 218v2.6M315.9 218v2.6M317.9 218v2.6M331.7 218v2.6M338.8 218v2.6M343.7 218v2.6M347.6 218v2.6M350.8 218v2.6M353.4 218v2.6M355.7 218v2.6M357.8 218v2.6M371.6 218v2.6M378.6 218v2.6M383.6 218v2.6M387.5 218v2.6M390.6 218v2.6M393.3 218v2.6M395.6 218v2.6M397.6 218v2.6M276.3 200h-4.4M276.3 180h-4.4M276.3 139.2h-4.4M276.3 95.3h-4.4M276.3 202.1h-2.6M276.3 204.3h-2.6M276.3 206.4h-2.6M276.3 208.6h-2.6M276.3 210.7h-2.6M276.3 212.9h-2.6M276.3 215h-2.6M276.3 217.2h-2.6M276.3 197.8h-2.6M276.3 195.7h-2.6M276.3 193.5h-2.6M276.3 191.4h-2.6M276.3 189h-2.6M276.3 186.3h-2.6M276.3 183.9h-2.6M276.3 181.8h-2.6M276.3 167.7h-2.6M276.3 160.5h-2.6M276.3 155.4h-2.6M276.3 151.5h-2.6M276.3 148.3h-2.6M276.3 145.5h-2.6M276.3 143.2h-2.6M276.3 141.1h-2.6M276.3 127h-2.6M276.3 119.8h-2.6M276.3 114.7h-2.6M276.3 110.8h-2.6M276.3 107.5h-2.6M276.3 104.8h-2.6M276.3 102.4h-2.6M276.3 100.4h-2.6" stroke="#3a3a3a" stroke-width="0.75" fill="none"/>
<rect x="278" y="98.1" width="42.5" height="6" fill="#fff"/>
<rect x="354.2" y="98.1" width="43.6" height="6" fill="#fff"/>
<rect x="278" y="209.6" width="45" height="6" fill="#fff"/>
<rect x="351.7" y="209.6" width="46.1" height="6" fill="#fff"/>
<g filter="url(#soft)">
<text x="291.3" y="228.7" font-size="6.5" text-anchor="middle" fill="#3a3a3a" stroke="#3a3a3a" stroke-width="0.22">0</text>
<text x="320.2" y="228.7" font-size="6.5" text-anchor="middle" fill="#3a3a3a" stroke="#3a3a3a" stroke-width="0.22">10<tspan dy="-2.3" font-size="4.8">4</tspan></text>
<text x="360.1" y="228.7" font-size="6.5" text-anchor="middle" fill="#3a3a3a" stroke="#3a3a3a" stroke-width="0.22">10<tspan dy="-2.3" font-size="4.8">5</tspan></text>
<text x="400.2" y="228.7" font-size="6.5" text-anchor="middle" fill="#3a3a3a" stroke="#3a3a3a" stroke-width="0.22">10<tspan dy="-2.3" font-size="4.8">6</tspan></text>
<text x="337" y="236.4" font-size="6.3" text-anchor="middle" fill="#3a3a3a" stroke="#3a3a3a" stroke-width="0.22">CD206 APC-A</text>
<text transform="translate(270.9,200.2) rotate(-90)" font-size="6.5" text-anchor="middle" fill="#3a3a3a" stroke="#3a3a3a" stroke-width="0.22">0</text>
<text transform="translate(270.9,178.8) rotate(-90)" font-size="6.5" text-anchor="middle" fill="#3a3a3a" stroke="#3a3a3a" stroke-width="0.22">10<tspan dy="-2.3" font-size="4.8">4</tspan></text>
<text transform="translate(270.9,138) rotate(-90)" font-size="6.5" text-anchor="middle" fill="#3a3a3a" stroke="#3a3a3a" stroke-width="0.22">10<tspan dy="-2.3" font-size="4.8">5</tspan></text>
<text transform="translate(270.9,94.1) rotate(-90)" font-size="6.5" text-anchor="middle" fill="#3a3a3a" stroke="#3a3a3a" stroke-width="0.22">10<tspan dy="-2.3" font-size="4.8">6</tspan></text>
<text transform="translate(262.7,156.3) rotate(-90)" font-size="6.3" text-anchor="middle" fill="#3a3a3a" stroke="#3a3a3a" stroke-width="0.22">CD11c PB450-A</text>
<text x="278.3" y="103.4" font-size="6.5" fill="#3a3a3a" stroke="#3a3a3a" stroke-width="0.22">Q3-UL(7.11%)</text>
<text x="397.5" y="103.4" font-size="6.5" text-anchor="end" fill="#3a3a3a" stroke="#3a3a3a" stroke-width="0.22">Q3-UR(2.90%)</text>
<text x="278.3" y="214.9" font-size="6.5" fill="#3a3a3a" stroke="#3a3a3a" stroke-width="0.22">Q3-LL(79.88%)</text>
<text x="397.5" y="214.9" font-size="6.5" text-anchor="end" fill="#3a3a3a" stroke="#3a3a3a" stroke-width="0.22">Q3-LR(10.11%)</text>
</g>
<g filter="url(#soft)">
<path d="M483.6 167.3h1.1M485 162.2h1.1M483.1 153.5h1.1M481.2 187.5h1.1M486.5 162.7h1.1M480.7 187.5h1.1M480.7 199.8h1.1M486.6 188.3h1.1M485.1 172.7h1.1M482.8 184.5h1.1M484.7 190.5h1.1M487.2 191.4h1.1M481.8 193.8h1.1M481.8 182.2h1.1M484.4 150.2h1.1M484 201.8h1.1M485.5 193.8h1.1M485 200.1h1.1M481.6 163.1h1.1M487.4 178.7h1.1M486.7 142h1.1M480.1 195.1h1.1M482.6 200.8h1.1M484.3 187.9h1.1M486.3 161.4h1.1M482.9 156.1h1.1M482.3 171.1h1.1M483.7 177.3h1.1M486.3 170.7h1.1M483.7 142.1h1.1M485.2 159.3h1.1M488 200.3h1.1M487.2 186.7h1.1M482.4 191.8h1.1M481.7 186h1.1M485.2 146.2h1.1M484.7 153.3h1.1M481.1 194.8h1.1M485.1 169h1.1M483.4 193.3h1.1M490.7 189.1h1.1M480.6 186.6h1.1M485.8 148.1h1.1M483.7 145h1.1M484.8 201.7h1.1M488.4 146.6h1.1M484.7 167.2h1.1M486 169.5h1.1M485.7 173.1h1.1M487.1 165.6h1.1M481.3 141.4h1.1M481.8 177.8h1.1M482.7 156.6h1.1M479.7 194.3h1.1M481.8 167.5h1.1M487.4 167.3h1.1M486.2 189.4h1.1M488.1 177h1.1M477.2 142.1h1.1M485.6 188h1.1M481.9 197.3h1.1M486.8 174.4h1.1M483.8 181.9h1.1M482.1 160.7h1.1M484.4 200.1h1.1M483.1 178.8h1.1M483.5 192.8h1.1M484.7 174h1.1M486.9 189h1.1M488.9 200.6h1.1M480.3 187.5h1.1M483.7 172.6h1.1M482.4 156.7h1.1M484.4 146.3h1.1M486.8 138.6h1.1M483.4 189.6h1.1M479.7 169.5h1.1M482.6 197.2h1.1M480.5 187.9h1.1M487.9 197.2h1.1M488.6 198h1.1M482.2 153.4h1.1M486.4 178.1h1.1M482.1 158.9h1.1M484.5 194.3h1.1M477.6 186.9h1.1M481.4 199.2h1.1M485 195.6h1.1M486.8 197.7h1.1M482.1 197.3h1.1M481.3 194.6h1.1M482.7 192.9h1.1M478.9 188.7h1.1M486 192.2h1.1M480.4 196.8h1.1M481.2 190h1.1M490.7 199.5h1.1M487.4 194.1h1.1M482.1 197.5h1.1M478.6 191.8h1.1M482.9 195.5h1.1M485.7 201.3h1.1M484.7 194.9h1.1M490.6 197h1.1M483.8 201h1.1M483.8 195.4h1.1M485 198.7h1.1M482.8 195.7h1.1M479.6 190.2h1.1M481.6 195.3h1.1M480.1 201.7h1.1M482.8 202h1.1M482.2 201.4h1.1M483.4 195.1h1.1M486.7 199.6h1.1M484.6 197.3h1.1M485.7 196.6h1.1M486.3 191.7h1.1M486.5 190.7h1.1M479.6 182.5h1.1M483.1 191h1.1M487.8 189.9h1.1M486.3 197.7h1.1M481.1 197.5h1.1M478.5 192.9h1.1M488.8 191.5h1.1M478.3 196.8h1.1M483.1 196.4h1.1M484.3 199.5h1.1M489.1 199.6h1.1M489.6 193.4h1.1M486.5 197.9h1.1M482 197.8h1.1M485.4 188.4h1.1M481.6 189.8h1.1M481.2 196.5h1.1M486.3 193.9h1.1M486.7 195.8h1.1M481.4 197.3h1.1M484.9 199.5h1.1M485.2 189.3h1.1M486.4 190.9h1.1M485.7 194.7h1.1M479.8 189h1.1M480.3 191.2h1.1M485 195.9h1.1M486.1 198h1.1M484 188.6h1.1M482 195.1h1.1M487.2 197.3h1.1M480.5 196.2h1.1M488.3 198.1h1.1M484.8 198h1.1M485.3 196.7h1.1M487.4 195.7h1.1M487.1 199.5h1.1M482.2 194.2h1.1M480.3 194.8h1.1M482.3 198.8h1.1M497.9 192.6h1.1M489.4 201.1h1.1M487.3 197.9h1.1M496.8 197.1h1.1M488.2 201.5h1.1M485.8 199.4h1.1M485.5 202.6h1.1M498.4 194.8h1.1M489.3 190.3h1.1M495.2 188.5h1.1M501.7 202.4h1.1M506 194.9h1.1M487.2 199.6h1.1" stroke="#2534e0" stroke-width="1.1" fill="none" opacity="0.85" filter="url(#dotb)"/>
<path d="M486.6 184.3h1.1M483.8 173.1h1.1M484.1 196.7h1.1M488.6 174.2h1.1M486 200h1.1M493.4 198.5h1.1M487 145.9h1.1M483.7 158.2h1.1M482 149.7h1.1M485.9 149.7h1.1M485 197.6h1.1M484.4 173.7h1.1M478.8 194.9h1.1M486.9 144.6h1.1M488.7 144.9h1.1M485.8 153.9h1.1M483.1 183.5h1.1M478.3 191.5h1.1M483.5 183.8h1.1M484.8 198.7h1.1M483.7 168.8h1.1M484.3 174.8h1.1M488.6 189.4h1.1M479.7 173.9h1.1M479.5 162.3h1.1M483.6 183.2h1.1M490 174.7h1.1M482.2 171h1.1M483.5 183.5h1.1M485.2 199.3h1.1M482.9 147.7h1.1M480.9 194.8h1.1M480.7 160.8h1.1M485.4 174.2h1.1M482.8 186.6h1.1M483.3 191.2h1.1M482.9 171.7h1.1M484.7 197.3h1.1M487.9 194.7h1.1M481 179.4h1.1M487.1 190h1.1M483.6 151.1h1.1M484.8 151.5h1.1M483.3 199.1h1.1M486.7 192.6h1.1M479.5 151.7h1.1M486.4 168.3h1.1M483.5 181.7h1.1M488.2 179h1.1M481.3 195.3h1.1M483.2 200.5h1.1M483.4 184.8h1.1M480.9 168.4h1.1M484 141.2h1.1M480.2 195.8h1.1M487.8 186.5h1.1M481 192h1.1M485.9 165.9h1.1M483.6 196.7h1.1M491 156.2h1.1M485.2 195.1h1.1M484.7 200.8h1.1M482.6 163.2h1.1M483.8 165.6h1.1M481 169.1h1.1M483.3 187.1h1.1M485.7 182.2h1.1M483.6 197.6h1.1M485.7 193.8h1.1M477.9 172.4h1.1M484.7 185.7h1.1M481.3 161.6h1.1M479.2 164.8h1.1M482.8 175.1h1.1M487.3 161.1h1.1M483.2 195.3h1.1M485.2 195.5h1.1M484.6 166.3h1.1M482 181.6h1.1M486.6 200.4h1.1M481.5 161.4h1.1M486.7 163.2h1.1M480.7 197.3h1.1M481.1 196.9h1.1M485.2 176.8h1.1M487.5 138.4h1.1M483 139.7h1.1M481.9 196.2h1.1M481.9 193.4h1.1M484.8 196.6h1.1M483.4 201.4h1.1M478.2 193.6h1.1M482.3 195.3h1.1M490.3 192.1h1.1M483.3 196.3h1.1M482.2 197.2h1.1M480.8 197.3h1.1M478.7 189.7h1.1M483.7 188.4h1.1M479.9 192.3h1.1M482.3 195.5h1.1M485.1 200.6h1.1M489.1 183.1h1.1M484.8 196.4h1.1M481.6 194.7h1.1M479.5 181.8h1.1M479.4 185.8h1.1M484 192.9h1.1M483.9 197.4h1.1M482.4 191.3h1.1M479.8 202h1.1M483.4 197.5h1.1M482.8 181h1.1M479.5 194.6h1.1M484.4 189.7h1.1M484.7 195.9h1.1M488 197.7h1.1M485.3 196.8h1.1M483.9 198.9h1.1M484 200.7h1.1M511.1 192.9h1.1M512.6 192.4h1.1M498 197.1h1.1M492.3 194.4h1.1M512.5 201h1.1M497 196.8h1.1M503 200.1h1.1M511.9 195.9h1.1M506.2 200.9h1.1M487.6 196.3h1.1M489.6 201.6h1.1M488.6 198.4h1.1M487.9 201.2h1.1M487.7 197.9h1.1M485.9 196h1.1M488.6 193.6h1.1M499.5 201.7h1.1M486.9 198h1.1M492 200.5h1.1" stroke="#5565e6" stroke-width="1.1" fill="none" opacity="0.85" filter="url(#dotb)"/>
<path d="M487.2 156.7h1.1M488.5 192.8h1.1M485.9 136.6h1.1M485.7 167.6h1.1M487.6 194.4h1.1M484.6 201.1h1.1M481.1 196.7h1.1M477.8 183.1h1.1M483.7 162.7h1.1M480.5 153.6h1.1M485.7 137.7h1.1M483.7 200.4h1.1M484 153h1.1M481.7 196.9h1.1M484 164.8h1.1M483.1 171.6h1.1M483.1 169h1.1M486.6 141.1h1.1M482.8 198.6h1.1M485.6 180.1h1.1M485.5 198h1.1M488.1 200.2h1.1M482.2 193.8h1.1M484.3 173.7h1.1M483.3 184.4h1.1M478.3 150.6h1.1M485.2 181.1h1.1M483.8 174.8h1.1M487.6 163.1h1.1M479.2 163.4h1.1M483.9 182.8h1.1M484 166.2h1.1M483.2 162.1h1.1M483.9 180.5h1.1M485.7 188.6h1.1M483.6 161.2h1.1M482.9 201h1.1M484.1 184.8h1.1M478.6 162.3h1.1M489.7 158.7h1.1M486.4 176.5h1.1M481.6 199.2h1.1M481.2 195.2h1.1M484.8 169.3h1.1M483.2 175.6h1.1M482.3 152.3h1.1M481.4 183.4h1.1M482.3 172.9h1.1M490.9 199.9h1.1M483.8 175.8h1.1M482.7 199.7h1.1M483.9 200.1h1.1M489.1 198.2h1.1M485.3 186.8h1.1M478.4 195.4h1.1M481.7 180.4h1.1M485.2 172.6h1.1M485.2 186.2h1.1M479.7 164.3h1.1M485.1 190.4h1.1M481 175.9h1.1M487.8 167.6h1.1M482.6 175.1h1.1M483.4 145.3h1.1M480 196.8h1.1M486.2 174.5h1.1M484.5 186.1h1.1M482 167.6h1.1M484.6 145.8h1.1M482.7 166.8h1.1M480.9 161.7h1.1M485.7 167.9h1.1M480.9 166.1h1.1M489 153.3h1.1M485 158.8h1.1M481.6 155.6h1.1M487.6 166.5h1.1M482.5 157.7h1.1M483.8 183.9h1.1M488.5 194.2h1.1M482.9 177.4h1.1M485.1 198.6h1.1M479 185.8h1.1M482.6 189.2h1.1M493.5 200.5h1.1M494.3 193.1h1.1M485.6 200.6h1.1M493.8 203h1.1M485.4 201.4h1.1M485.9 194.8h1.1M499.9 191.8h1.1M491.1 198.2h1.1M494 201.4h1.1M489.9 201.5h1.1M485.9 192.4h1.1M492.5 198.1h1.1M485.6 201.1h1.1M498.2 191.9h1.1M490.1 202.3h1.1M507.9 165h1.1M508.1 170.3h1.1M544.1 179.8h1.1M543.6 187.3h1.1M533.4 167.9h1.1M553.4 205.1h1.1" stroke="#a3acf0" stroke-width="1.1" fill="none" opacity="0.85" filter="url(#dotb)"/>
<path d="M482.7 189.1h1.1M487.2 181.9h1.1M488.4 185.3h1.1M485.3 196.4h1.1M478.2 182.7h1.1M481.8 189.9h1.1M482.2 191.2h1.1M488.8 190.4h1.1M486.4 193.2h1.1M487.4 193.2h1.1M486.1 189.8h1.1M480.3 178.4h1.1M484.1 200.4h1.1M478 197.7h1.1M480.1 198h1.1M484.8 199.8h1.1M483.2 192h1.1M485.4 191.8h1.1M489.5 199.3h1.1M483.8 198.8h1.1M484.3 189h1.1M480.4 186h1.1M484.7 189.7h1.1M483.2 186.5h1.1M489 199.3h1.1M481.7 198.2h1.1M483.5 190.4h1.1M486.7 190.9h1.1M485.9 195.8h1.1M487.4 193h1.1M484.1 194.5h1.1M483.9 192.3h1.1M480.9 197.1h1.1M485.3 197.3h1.1M481.9 197.4h1.1M490.2 196h1.1M486.3 199.6h1.1M483.3 190.2h1.1M482.1 185.6h1.1M488.1 186.4h1.1M480.4 193.9h1.1M488.4 197.4h1.1M489.8 193.8h1.1M483.4 196.6h1.1M486 178.9h1.1M484.3 186.2h1.1M481.5 187h1.1M486.6 181.6h1.1M487.7 193.3h1.1M483.8 201.2h1.1M483.7 195.4h1.1M484.1 190.3h1.1M488.7 186.9h1.1M484.4 195.5h1.1M482.1 197.4h1.1M484.4 188.6h1.1M484.7 201.1h1.1M486.1 192.6h1.1M482.5 192.5h1.1M485.8 195.2h1.1M481.8 200h1.1M481.9 191.6h1.1M485.2 189.2h1.1M485.8 188h1.1M481.9 197.2h1.1" stroke="#1420d0" stroke-width="1.1" fill="none" opacity="0.85" filter="url(#dotb)"/>
<clipPath id="cc13"><rect x="461.3" y="95.3" width="123.4" height="107.3"/></clipPath>
<g clip-path="url(#cc13)"><g filter="url(#b06)">
<ellipse cx="483.9" cy="199.7" rx="5.4" ry="3.7" fill="#1a2fe6"/>
<ellipse cx="482.9" cy="200.4" rx="3.7" ry="2.5" fill="#1fa2ee"/>
<ellipse cx="482" cy="200.8" rx="2.5" ry="1.7" fill="#30dc6c"/>
<ellipse cx="481.7" cy="201" rx="1.5" ry="1.1" fill="#e8dc30"/>
</g></g>
</g>
<rect x="461.3" y="95.3" width="123.4" height="122.7" fill="none" stroke="#3a3a3a" stroke-width="1"/>
<path d="M489.5 95.3V218M461.3 184.5H584.7" stroke="#3a3a3a" stroke-width="0.9" fill="none"/>
<path d="M476.7 218v4.4M504.7 218v4.4M544.6 218v4.4M584.7 218v4.4M474.6 218v2.6M472.4 218v2.6M470.3 218v2.6M468.1 218v2.6M466 218v2.6M463.8 218v2.6M478.9 218v2.6M481 218v2.6M483.2 218v2.6M485.3 218v2.6M487.5 218v2.6M488.9 218v2.6M492.7 218v2.6M495.9 218v2.6M498.6 218v2.6M500.9 218v2.6M502.9 218v2.6M516.7 218v2.6M523.8 218v2.6M528.7 218v2.6M532.6 218v2.6M535.8 218v2.6M538.4 218v2.6M540.7 218v2.6M542.8 218v2.6M556.6 218v2.6M563.6 218v2.6M568.6 218v2.6M572.5 218v2.6M575.6 218v2.6M578.3 218v2.6M580.6 218v2.6M582.6 218v2.6M461.3 200h-4.4M461.3 180h-4.4M461.3 139.2h-4.4M461.3 95.3h-4.4M461.3 202.1h-2.6M461.3 204.3h-2.6M461.3 206.4h-2.6M461.3 208.6h-2.6M461.3 210.7h-2.6M461.3 212.9h-2.6M461.3 215h-2.6M461.3 217.2h-2.6M461.3 197.8h-2.6M461.3 195.7h-2.6M461.3 193.5h-2.6M461.3 191.4h-2.6M461.3 189h-2.6M461.3 186.3h-2.6M461.3 183.9h-2.6M461.3 181.8h-2.6M461.3 167.7h-2.6M461.3 160.5h-2.6M461.3 155.4h-2.6M461.3 151.5h-2.6M461.3 148.3h-2.6M461.3 145.5h-2.6M461.3 143.2h-2.6M461.3 141.1h-2.6M461.3 127h-2.6M461.3 119.8h-2.6M461.3 114.7h-2.6M461.3 110.8h-2.6M461.3 107.5h-2.6M461.3 104.8h-2.6M461.3 102.4h-2.6M461.3 100.4h-2.6" stroke="#3a3a3a" stroke-width="0.75" fill="none"/>
<rect x="463" y="98.1" width="46.1" height="6" fill="#fff"/>
<rect x="539.2" y="98.1" width="43.6" height="6" fill="#fff"/>
<rect x="463" y="209.6" width="45" height="6" fill="#fff"/>
<rect x="540.3" y="209.6" width="42.5" height="6" fill="#fff"/>
<g filter="url(#soft)">
<text x="476.3" y="228.7" font-size="6.5" text-anchor="middle" fill="#3a3a3a" stroke="#3a3a3a" stroke-width="0.22">0</text>
<text x="505.2" y="228.7" font-size="6.5" text-anchor="middle" fill="#3a3a3a" stroke="#3a3a3a" stroke-width="0.22">10<tspan dy="-2.3" font-size="4.8">4</tspan></text>
<text x="545.1" y="228.7" font-size="6.5" text-anchor="middle" fill="#3a3a3a" stroke="#3a3a3a" stroke-width="0.22">10<tspan dy="-2.3" font-size="4.8">5</tspan></text>
<text x="585.2" y="228.7" font-size="6.5" text-anchor="middle" fill="#3a3a3a" stroke="#3a3a3a" stroke-width="0.22">10<tspan dy="-2.3" font-size="4.8">6</tspan></text>
<text x="522" y="236.4" font-size="6.3" text-anchor="middle" fill="#3a3a3a" stroke="#3a3a3a" stroke-width="0.22">CD206 APC-A</text>
<text transform="translate(455.9,200.2) rotate(-90)" font-size="6.5" text-anchor="middle" fill="#3a3a3a" stroke="#3a3a3a" stroke-width="0.22">0</text>
<text transform="translate(455.9,178.8) rotate(-90)" font-size="6.5" text-anchor="middle" fill="#3a3a3a" stroke="#3a3a3a" stroke-width="0.22">10<tspan dy="-2.3" font-size="4.8">4</tspan></text>
<text transform="translate(455.9,138) rotate(-90)" font-size="6.5" text-anchor="middle" fill="#3a3a3a" stroke="#3a3a3a" stroke-width="0.22">10<tspan dy="-2.3" font-size="4.8">5</tspan></text>
<text transform="translate(455.9,94.1) rotate(-90)" font-size="6.5" text-anchor="middle" fill="#3a3a3a" stroke="#3a3a3a" stroke-width="0.22">10<tspan dy="-2.3" font-size="4.8">6</tspan></text>
<text transform="translate(447.7,156.3) rotate(-90)" font-size="6.3" text-anchor="middle" fill="#3a3a3a" stroke="#3a3a3a" stroke-width="0.22">CD11c PB450-A</text>
<text x="463.3" y="103.4" font-size="6.5" fill="#3a3a3a" stroke="#3a3a3a" stroke-width="0.22">Q3-UL(21.53%)</text>
<text x="582.5" y="103.4" font-size="6.5" text-anchor="end" fill="#3a3a3a" stroke="#3a3a3a" stroke-width="0.22">Q3-UR(2.67%)</text>
<text x="463.3" y="214.9" font-size="6.5" fill="#3a3a3a" stroke="#3a3a3a" stroke-width="0.22">Q3-LL(71.68%)</text>
<text x="582.5" y="214.9" font-size="6.5" text-anchor="end" fill="#3a3a3a" stroke="#3a3a3a" stroke-width="0.22">Q3-LR(4.12%)</text>
</g>
<g filter="url(#soft)">
<path d="M113.3 321.5h1.1M112.9 324.3h1.1M110.8 354.8h1.1M110.2 349.2h1.1M106.5 325.5h1.1M108.3 346.5h1.1M109.8 338.1h1.1M105.9 352.4h1.1M110 314.6h1.1M110.4 357.8h1.1M109.7 322.6h1.1M106.9 360.2h1.1M111.1 360.3h1.1M107.6 319.4h1.1M114 354.5h1.1M114.8 321.9h1.1M113.7 331.9h1.1M103.2 347.8h1.1M114.8 324.6h1.1M107.7 365.3h1.1M110.6 360.8h1.1M109.9 329.8h1.1M112.3 323.8h1.1M109.3 314.1h1.1M107.4 330.7h1.1M112.5 289.2h1.1M107.4 341.9h1.1M114.5 344h1.1M107.9 354.9h1.1M108.2 348.7h1.1M113.4 307h1.1M112.9 307h1.1M114.4 327.1h1.1M106.5 320h1.1M114.7 309h1.1M107.1 304.2h1.1M112.7 363.5h1.1M118.1 351.7h1.1M115.2 354.4h1.1M111.6 355.6h1.1M107 290.1h1.1M104.6 358.7h1.1M112.6 305.9h1.1M109.6 326.5h1.1M105.8 341.9h1.1M112.6 347.6h1.1M107.5 334h1.1M115.4 310.1h1.1M111.9 361.2h1.1M104.2 320.1h1.1M110.6 327.9h1.1M110 350.2h1.1M113.4 332h1.1M108.3 302.8h1.1M112.6 313.2h1.1M108.9 345.5h1.1M110.9 354.5h1.1M106.5 361.8h1.1M112.6 363.8h1.1M103.8 322.5h1.1M106.9 305.4h1.1M112.5 317.6h1.1M104.9 331.4h1.1M105.8 317.4h1.1M117.1 321.9h1.1M109 314.5h1.1M118.2 356.3h1.1M110.6 315.1h1.1M110.5 306.1h1.1M111.8 327.8h1.1M112.3 358.3h1.1M109.1 358.3h1.1M107.9 361.2h1.1M113.3 308.9h1.1M111.6 318.5h1.1M105.8 306.9h1.1M106.5 349.3h1.1M105.3 313h1.1M107.6 299.2h1.1M113.6 362h1.1M113.6 357.3h1.1M114.4 358.3h1.1M109.9 332.9h1.1M110.6 298.5h1.1M109 308.9h1.1M109.2 312.7h1.1M109.9 353.4h1.1M113.6 342.5h1.1M114.3 320.1h1.1M109 320.5h1.1M117.1 288.1h1.1M107.8 310h1.1M114.1 344.1h1.1M106.9 346.5h1.1M109.4 329.7h1.1M110.4 360.6h1.1M110.7 330h1.1M111.1 362h1.1M109.4 360.2h1.1M104.3 309.4h1.1M105.2 301.1h1.1M110.8 312.2h1.1M110 348.9h1.1M111.8 292.7h1.1M106.7 293.4h1.1M113.6 335.1h1.1M111.3 362.3h1.1M109.3 364.7h1.1M106.8 363.8h1.1M113.7 345.6h1.1M115.2 355.8h1.1M113.4 345.3h1.1M110.7 339.3h1.1M111.2 357.8h1.1M111.1 289.3h1.1M103.1 324.5h1.1M109.9 359.7h1.1M109.8 340.3h1.1M111 313.2h1.1M112.7 339h1.1M108.5 337.2h1.1M109.6 334.6h1.1M107.1 317.7h1.1M112.8 305.9h1.1M111.8 341.7h1.1M108.9 317.7h1.1M110.8 359.3h1.1M107.2 306.2h1.1M106.9 362.6h1.1M112 359.9h1.1M104.7 356.4h1.1M113.8 321.7h1.1M103.6 363h1.1M108.1 298.8h1.1M110.7 360.1h1.1M112.3 303.8h1.1M109.1 333.5h1.1M107.1 340.4h1.1M108.2 349.4h1.1M110.2 354.6h1.1M114.6 348.6h1.1M109.8 335.7h1.1M111.8 301h1.1M112.1 321.9h1.1M112.6 328.3h1.1M108 348.1h1.1M107.8 340.1h1.1M111.8 319h1.1M114 341.5h1.1M108 336.7h1.1M114.7 298.1h1.1M109.9 337h1.1M105 294.4h1.1M111.9 287.8h1.1M114.3 312.1h1.1M106.1 345.4h1.1M106.1 362.6h1.1M106.8 350.1h1.1M106.3 332.7h1.1M111.5 294.7h1.1M112.4 355.8h1.1M115.5 307.6h1.1M108.9 352.8h1.1M107.2 312.8h1.1M111.7 306.3h1.1M111.9 299.7h1.1M110.9 310.3h1.1M109.6 363.8h1.1M112.1 348.8h1.1M111.8 343.7h1.1M106.8 344.2h1.1M106.9 358.8h1.1M108.3 318.2h1.1M109.8 345.3h1.1M113.6 302h1.1M107.2 351.6h1.1M115.8 361.8h1.1M110.5 313.3h1.1M108.9 360.7h1.1M107.8 345h1.1M111.1 309.7h1.1M108.1 335.2h1.1M111.4 355.1h1.1M112.2 360.4h1.1M109.5 354.8h1.1M110.3 354.6h1.1M110.1 354h1.1M109.2 359.5h1.1M109.7 314.7h1.1M108.7 310.3h1.1M114 292.3h1.1M108.7 343.7h1.1M110.1 320.7h1.1M106.3 341.1h1.1M112.5 352.5h1.1M118.6 301.1h1.1M111.6 291.5h1.1M109.6 302.5h1.1M115.2 348.9h1.1M112.9 365.2h1.1M104.9 358.7h1.1M108.4 364.1h1.1M109.2 356.2h1.1M114.3 342.8h1.1M106.6 344.3h1.1M111.5 341.6h1.1M108.7 363h1.1M103.9 358.5h1.1M108.7 353.9h1.1M115.8 356.9h1.1M115.5 360.3h1.1M113.8 360.4h1.1M116.2 361.3h1.1M106.2 347.2h1.1M113.2 363.6h1.1M107.5 351.2h1.1M114.8 345h1.1M106.3 363.7h1.1M111.9 358.3h1.1M114.4 356.4h1.1M116.6 362.1h1.1M112.1 362.4h1.1M105.3 358.6h1.1M107.7 360.2h1.1M113.8 352.4h1.1M111.2 360.8h1.1M108.4 358.7h1.1M114.6 341.7h1.1M114.1 358.6h1.1M111.1 361.9h1.1M113.2 356.2h1.1M110.3 355.1h1.1M116.2 361.5h1.1M112.2 362.6h1.1M113.3 341.7h1.1M111.8 358.4h1.1M107.8 359.8h1.1M105.7 359.7h1.1M112.5 347.8h1.1M113.5 351.9h1.1M109.1 352h1.1M112.8 359.7h1.1M107.8 359.4h1.1M113.9 353.3h1.1M114.7 361.9h1.1M106.3 356.9h1.1M106.9 363.6h1.1M111 350.1h1.1M114.1 357.2h1.1M113.5 363.1h1.1M109.9 361.9h1.1M107.9 354h1.1M109.5 357.2h1.1M111.4 360.9h1.1M112.7 355.4h1.1M114.2 351.6h1.1M110.7 358.9h1.1M110.9 343.9h1.1M111.2 357h1.1M111.4 353.4h1.1M111.3 365.3h1.1M107.9 355h1.1M108.5 357h1.1M106.4 361.7h1.1M109.9 364.1h1.1M108.5 362h1.1M111.8 361.7h1.1M107.5 364.7h1.1M108.5 353.1h1.1M107.9 361.5h1.1M105 347.2h1.1M104.7 348.3h1.1M108.1 348h1.1M107 360.6h1.1M106.8 362.5h1.1M110.4 347.1h1.1M112.8 351.2h1.1M104.8 352.3h1.1M107.8 362.4h1.1M110.9 344.5h1.1M113.7 350.4h1.1M111.9 357.9h1.1M108.4 358.5h1.1M107.6 353.6h1.1M101.5 363.2h1.1M111 360.3h1.1M109.4 349.6h1.1M112.9 358h1.1M107.6 362.2h1.1M115.6 358.3h1.1M109.8 345.9h1.1M108.4 362.9h1.1M116.3 346.8h1.1M109.5 352.1h1.1M111.4 347.9h1.1M111.7 351.1h1.1M103.7 348.4h1.1M114.4 357h1.1M115.1 362.4h1.1M115.9 338h1.1M111 360.5h1.1M110.1 359.9h1.1M111.7 346.9h1.1M111.1 356.9h1.1M112.6 352.7h1.1M113.4 364.3h1.1M105.6 360.9h1.1M116 350.8h1.1M108 349.1h1.1M111.1 353h1.1M110.1 355.3h1.1M109.7 349.7h1.1M113.9 352.8h1.1M112.8 360h1.1M112.7 353.7h1.1M109.8 353.6h1.1M114 356h1.1M111.5 355.7h1.1M106.2 360.7h1.1M107.3 363.7h1.1M110.6 350.3h1.1M114.8 352.5h1.1M107.5 357h1.1M110.3 348.9h1.1M112.1 358.9h1.1M114.9 355.5h1.1M104.8 356.7h1.1M112.8 358.5h1.1M105.2 361.4h1.1M109.9 352.8h1.1M111.5 343.2h1.1M105.2 360.2h1.1M118.3 338.5h1.1M110.2 357.5h1.1M111.8 361.7h1.1M110.8 355.8h1.1M112.8 351.4h1.1M108.1 356.2h1.1M108.8 356.5h1.1M113 364.1h1.1M115.6 359.9h1.1M104.9 349.8h1.1M104.4 361.4h1.1M110.1 362.5h1.1M108.9 365.2h1.1M109.4 358.4h1.1M106.1 347.9h1.1M113 361.2h1.1M110.2 353.5h1.1M113.4 362.2h1.1M106 363.6h1.1M106.6 352.5h1.1M105.3 356h1.1M106 359.9h1.1M110.9 358h1.1M111.6 355.8h1.1M109 350.6h1.1M108.8 360.8h1.1M111.2 359.5h1.1M112.2 357.8h1.1M111 362.8h1.1M105.6 364.1h1.1M114 365.6h1.1M115.1 358.3h1.1M109.2 351.2h1.1M112.8 337.3h1.1M102.9 349.2h1.1M103.7 359.4h1.1M118.7 353.1h1.1M111.8 357.9h1.1M114.2 360.6h1.1M108.3 359.2h1.1M103.8 353.4h1.1M106.3 360.7h1.1M110.5 346.4h1.1M114.2 333.5h1.1M108 358.5h1.1M120.4 348.1h1.1M104.9 357.8h1.1M107.7 360.4h1.1M134.8 327.1h1.1M122.7 302.4h1.1M124.2 322.4h1.1M111.8 347.3h1.1M115.3 317.6h1.1M115.9 341.8h1.1M130.6 316.9h1.1M113.1 355.3h1.1M117.4 335.4h1.1M122.6 316.2h1.1M116.3 305.1h1.1M142.9 301.6h1.1M126.5 360.3h1.1M122.2 349.6h1.1M147.4 343.3h1.1M112.9 362.9h1.1M133 331h1.1M117.8 345.7h1.1M124.4 352.4h1.1M111.8 333.1h1.1M113 300.5h1.1M111.8 295.8h1.1M118.1 316.5h1.1M115.9 293.8h1.1M112.1 301.5h1.1M142.5 362.2h1.1M115.9 354.9h1.1M111.4 318.5h1.1M118.3 352.4h1.1M125.6 358.8h1.1M118.8 312.6h1.1M116.3 355.3h1.1M111.2 308.7h1.1M122.4 335.7h1.1M114.6 328.8h1.1M111.3 355.4h1.1M116.5 299.6h1.1M123.3 363.7h1.1M113.1 362.3h1.1M141.2 320.5h1.1M122.6 353.1h1.1M112.1 302.9h1.1M130.8 363.1h1.1M112.2 347.5h1.1M113.3 363.4h1.1M124.9 344h1.1M120.5 361.8h1.1M123.7 327h1.1M116.4 329h1.1M122.4 349.3h1.1M133.2 355.6h1.1M114.5 345.9h1.1M122.4 336.2h1.1M112.1 338.7h1.1M136.6 338.8h1.1M112.9 303h1.1M112.1 300.9h1.1M130.8 337h1.1M142.3 315.8h1.1M113.1 318h1.1M127.9 296.2h1.1M113.1 319.1h1.1M113.4 308.6h1.1M117.1 344.7h1.1M118.2 299.5h1.1M112.1 352.3h1.1M123.2 305.5h1.1M117.5 326.9h1.1M122.7 358.1h1.1M111.9 362.1h1.1M120.1 321.2h1.1M117.2 330.5h1.1M117.4 318.9h1.1M114.3 358.4h1.1M119.1 314.4h1.1M128.5 314.8h1.1M116.2 359.8h1.1M129.8 300.2h1.1M112 339h1.1M112.8 332h1.1M123 315.4h1.1M113.9 333h1.1M125 335.4h1.1M112.6 346.4h1.1M120.8 310.4h1.1M127.6 342.1h1.1M120.3 315.6h1.1M120.4 298h1.1M119.1 302.6h1.1M116.6 296.9h1.1M121.9 364.3h1.1M117.6 319.7h1.1M113.7 327.3h1.1M123.8 336.9h1.1M115.4 325.7h1.1M130.5 345.3h1.1M117.4 324.5h1.1M117 313.7h1.1M115.2 328.4h1.1M113.2 337.8h1.1M115.4 350.1h1.1" stroke="#2534e0" stroke-width="1.1" fill="none" opacity="0.85" filter="url(#dotb)"/>
<path d="M108.5 328.7h1.1M111.6 361.9h1.1M106.1 355.2h1.1M108.4 334.8h1.1M114.3 360.2h1.1M114.3 293.7h1.1M111.8 347.9h1.1M109.6 364.3h1.1M110.4 301h1.1M111.8 310.3h1.1M114.3 332h1.1M113.3 309.3h1.1M111.1 359.8h1.1M107.1 343.4h1.1M116.5 297.5h1.1M112.6 327.4h1.1M112.7 354.7h1.1M109.5 314.6h1.1M106.7 336.4h1.1M108.7 332.7h1.1M108.6 336.2h1.1M112 343.6h1.1M112.3 336.3h1.1M112.4 297.7h1.1M115.6 338.1h1.1M109.2 292.5h1.1M110.4 307.5h1.1M112.3 339.1h1.1M109.8 345.1h1.1M105.9 336.9h1.1M113.8 352.3h1.1M104.6 346.9h1.1M107.1 295.4h1.1M108.4 300.1h1.1M104.9 350.1h1.1M112.2 306.3h1.1M109.2 318.8h1.1M106.4 359.6h1.1M110.5 314.1h1.1M111.1 359.2h1.1M108.9 334.6h1.1M110.7 346.5h1.1M114.2 337.6h1.1M110.2 329h1.1M108.9 358.3h1.1M112.7 347.8h1.1M110.9 288.5h1.1M113 354.3h1.1M110 301.7h1.1M111.3 319.1h1.1M110.8 289.9h1.1M107.2 332.8h1.1M116.7 315.5h1.1M109 312.2h1.1M111.1 288.5h1.1M114.3 354.4h1.1M113.2 336.2h1.1M110.1 342h1.1M111.3 349.8h1.1M101.6 351.4h1.1M106.3 315.6h1.1M108.7 322.9h1.1M115.2 317h1.1M108.8 348.8h1.1M104.4 300.6h1.1M110.8 290.2h1.1M113.1 343.2h1.1M107.9 330.6h1.1M113.1 310.8h1.1M110.2 322.4h1.1M107.9 315.7h1.1M105.1 311.6h1.1M108.4 346.8h1.1M109.7 337.3h1.1M106.2 310.7h1.1M111 293.2h1.1M108.8 351.7h1.1M108.8 332.8h1.1M108.5 320.8h1.1M109.3 356.7h1.1M107.7 364h1.1M105.5 360.8h1.1M113.7 337h1.1M104 355.2h1.1M111.3 356.8h1.1M108.5 335.6h1.1M109.7 297.2h1.1M106.3 356.1h1.1M112.6 323.8h1.1M108.8 321.7h1.1M109.3 313.2h1.1M106.5 294h1.1M109.3 305.5h1.1M108.2 357.2h1.1M109.4 296.6h1.1M105.7 357.3h1.1M106.5 352.1h1.1M105.5 335.5h1.1M110 360.8h1.1M107.7 326.5h1.1M110.6 339.8h1.1M113.2 363.3h1.1M109.8 342.8h1.1M108.5 295.1h1.1M112.6 338.2h1.1M110.5 314.6h1.1M109.6 313.5h1.1M116.4 303.4h1.1M107.1 305.7h1.1M110.1 344h1.1M110.7 343h1.1M110.9 338.6h1.1M113.3 316.9h1.1M109.5 351.5h1.1M107.7 358.1h1.1M107.3 345.4h1.1M106.6 335.8h1.1M109.1 351.5h1.1M111.2 296.3h1.1M109.1 363.3h1.1M111.3 352.4h1.1M107.1 352.5h1.1M109.4 330h1.1M109.3 306.9h1.1M108.4 340.7h1.1M111 343.7h1.1M108.4 343.6h1.1M107 334h1.1M112 357.5h1.1M109.5 293.7h1.1M111.7 342h1.1M107.5 349.1h1.1M112.8 364.8h1.1M107.8 306.4h1.1M116.7 334.4h1.1M109.4 295.8h1.1M111.2 337.4h1.1M107.7 294.6h1.1M108.2 291.4h1.1M112.5 321h1.1M107.2 363.6h1.1M115.2 288.3h1.1M105.6 314.7h1.1M106.1 357.8h1.1M108.2 361.8h1.1M107.8 343.6h1.1M106.5 349.4h1.1M110.8 350.9h1.1M107.8 323.2h1.1M107.5 333.6h1.1M105.6 311.4h1.1M106.2 313.3h1.1M109.4 358.5h1.1M112.4 337.1h1.1M106.9 336.6h1.1M110 352.5h1.1M105 346.7h1.1M114.9 357.3h1.1M108.6 330.7h1.1M106.9 290.3h1.1M106.7 318.9h1.1M108.6 317.2h1.1M110 298.1h1.1M106.4 314.2h1.1M106 361h1.1M109.7 330.2h1.1M115.2 301h1.1M111.9 309.4h1.1M103.8 318.6h1.1M103.5 363.6h1.1M113.3 342.9h1.1M105.6 320.3h1.1M104.5 308.5h1.1M108.8 313h1.1M111.1 294.1h1.1M107.5 364.2h1.1M105.1 309.5h1.1M109.3 354.4h1.1M115.4 322.6h1.1M107.1 346.6h1.1M118.1 358.3h1.1M108.4 340.9h1.1M107.8 295.7h1.1M109.3 361h1.1M109.9 333.3h1.1M110.3 346.2h1.1M113.4 317.6h1.1M107.7 302.4h1.1M111.3 320.5h1.1M112.8 363.1h1.1M111.2 334.4h1.1M104.9 335.4h1.1M105 361h1.1M109.8 318.1h1.1M110 356.8h1.1M109.1 356.2h1.1M115.2 296.5h1.1M109.4 299.5h1.1M110.9 357.5h1.1M110.3 293.6h1.1M111.5 356.5h1.1M113.3 355.5h1.1M110.2 331.2h1.1M109 293.7h1.1M111.5 364.3h1.1M106.9 363.1h1.1M107 309.2h1.1M103.6 347.2h1.1M113.1 349.9h1.1M107.8 325.2h1.1M107 307.8h1.1M113.2 340.2h1.1M112.5 359.6h1.1M114.3 356.9h1.1M110.6 298.5h1.1M114.7 309.3h1.1M114.1 334.6h1.1M111.8 306.4h1.1M110.8 334.9h1.1M107.3 345.8h1.1M108.7 355.3h1.1M109.6 357.9h1.1M110 362h1.1M118.5 348.5h1.1M115.4 359.2h1.1M109.3 356.2h1.1M115.3 337.3h1.1M105.4 357h1.1M106 349.7h1.1M106 346.8h1.1M108.4 357.9h1.1M113.9 363.7h1.1M114.1 362.9h1.1M111.5 337.8h1.1M115.2 355.9h1.1M110.2 346.6h1.1M108.8 363h1.1M108.9 361.5h1.1M107.8 353.2h1.1M112.8 359.7h1.1M113.3 346.2h1.1M105.2 357.3h1.1M109.6 358.5h1.1M109.3 357.9h1.1M106.9 344.7h1.1M110.3 354.2h1.1M106.4 343.3h1.1M112.2 361.2h1.1M110.3 348.8h1.1M114.3 364.2h1.1M111.1 346.3h1.1M109.6 347.9h1.1M116.7 356.4h1.1M106.1 353h1.1M112.4 357.2h1.1M111.9 363.3h1.1M104.2 362.8h1.1M113.9 338.7h1.1M107.2 345.9h1.1M113.4 363.7h1.1M113.8 364.1h1.1M114.4 356.5h1.1M107.3 361.5h1.1M109.4 336.4h1.1M112.8 360.5h1.1M107.3 336.9h1.1M105.9 361.4h1.1M112.1 358.8h1.1M116.9 354.8h1.1M116.9 366.4h1.1M109.1 352h1.1M105.9 362.6h1.1M106.6 360.7h1.1M103.8 363.3h1.1M109.7 344.5h1.1M110.3 346.1h1.1M108.1 348h1.1M106.5 348.8h1.1M110.1 350.8h1.1M108.6 347.6h1.1M112.3 362.7h1.1M114.7 360.6h1.1M109.3 358h1.1M108.7 356.5h1.1M113.5 362.8h1.1M115.8 352.3h1.1M110.7 362.5h1.1M108.2 364.5h1.1M111.3 355.5h1.1M104.6 345.4h1.1M111.4 362.5h1.1M110.9 350.6h1.1M112.5 363.9h1.1M110.6 354h1.1M121.5 326.8h1.1M121.4 296.5h1.1M123.1 306.9h1.1M140.1 313.6h1.1M128.8 307.3h1.1M111.4 340.9h1.1M131.1 318.2h1.1M127 350.5h1.1M111.8 307.7h1.1M130.1 295.3h1.1M116.3 306.7h1.1M129.2 310h1.1M122.5 364.7h1.1M138.9 304.4h1.1M114.7 300.7h1.1M125.8 342.6h1.1M113.9 363.1h1.1M129.9 295.7h1.1M119.8 366.5h1.1M117.7 301.7h1.1M118.8 318.8h1.1M132.1 337.1h1.1M123.5 313.8h1.1M113.3 330.9h1.1M113.6 346.1h1.1M116 360.7h1.1M132.6 360.1h1.1M112.1 311.7h1.1M129.9 320h1.1M115.5 306.7h1.1M117.3 337.6h1.1M130.7 351.6h1.1M116.5 319h1.1M135.3 297.6h1.1M118.5 334.2h1.1M122.2 336.7h1.1M111.4 328.6h1.1M118.9 356.3h1.1M143.9 320.2h1.1M112.1 318.7h1.1M128.7 348.3h1.1M117.5 326.4h1.1M131.4 310h1.1M123.7 350.9h1.1M118 334.5h1.1M143.2 305.1h1.1M111.2 359.2h1.1M123.9 357h1.1M117.2 346.7h1.1M140.3 298.7h1.1M127.6 362.9h1.1M125.1 335h1.1M125.5 356.1h1.1M120.1 315.7h1.1M126 297.4h1.1M116.9 312.5h1.1M124.3 328.3h1.1M118 360.5h1.1M114.8 338.8h1.1M117.8 306.1h1.1M140.2 307h1.1M111.2 306.3h1.1M120.5 353.2h1.1M116.8 335.3h1.1M114.4 313.2h1.1M115 353.4h1.1M128.2 326.2h1.1M117.2 332.4h1.1M112.2 337.9h1.1M116 295.7h1.1M133.5 338.5h1.1M112.3 325.4h1.1M123.3 321h1.1M111.3 341.1h1.1M132.9 308.3h1.1M123 296.8h1.1M131.2 326.1h1.1M123.2 309.9h1.1M113.6 355.1h1.1M129.7 334.1h1.1M122.5 313.6h1.1M111.8 317.1h1.1M115.9 341.9h1.1M116 320h1.1M113.6 315h1.1M116 303.4h1.1M126.9 307.8h1.1M116.4 342.9h1.1M128.3 335.3h1.1M124.7 342.6h1.1M120.1 358.3h1.1M114.6 305.3h1.1" stroke="#5565e6" stroke-width="1.1" fill="none" opacity="0.85" filter="url(#dotb)"/>
<path d="M109.2 346.7h1.1M111.2 298.1h1.1M112.6 350.9h1.1M113.8 295h1.1M104.7 334.2h1.1M105.7 365.4h1.1M107.6 328.9h1.1M110.9 355.5h1.1M105.5 343.5h1.1M113.2 362.2h1.1M112.2 298h1.1M110.2 308.9h1.1M110.6 325.1h1.1M107.1 359.7h1.1M114 361.7h1.1M112.3 352.4h1.1M106.6 330.1h1.1M110.3 352.2h1.1M108.3 297.1h1.1M105.2 321.9h1.1M109 331.7h1.1M114.4 349.2h1.1M109.7 308.2h1.1M108.8 318.7h1.1M110.7 361.7h1.1M111 341.6h1.1M108.8 324.1h1.1M112.5 311.5h1.1M107.2 319.9h1.1M112.9 359.2h1.1M108.7 358.6h1.1M109.6 350.3h1.1M110.1 324.1h1.1M113.3 312.5h1.1M110.6 312.9h1.1M107.9 355.2h1.1M106.3 341.9h1.1M107.9 365h1.1M114 347.2h1.1M110.5 300.4h1.1M106 352.2h1.1M113.5 354.2h1.1M105.1 358.1h1.1M106.5 332.5h1.1M111.7 331.1h1.1M104 319h1.1M110.5 363.2h1.1M106.6 362.8h1.1M105.2 342.8h1.1M109.6 332.3h1.1M110.7 296.6h1.1M110.1 309h1.1M110.2 334.4h1.1M105.4 362.1h1.1M108.8 321.9h1.1M107.4 341.9h1.1M114.3 360.7h1.1M113 357.9h1.1M105.4 323.3h1.1M109.7 296.9h1.1M115.7 341.2h1.1M113.2 338.5h1.1M107.5 356.6h1.1M107.2 304h1.1M110.2 319.4h1.1M106.7 352.9h1.1M111.5 303.2h1.1M107 358.4h1.1M112.8 315.9h1.1M109 313h1.1M113.6 349.7h1.1M106.5 363.7h1.1M113 346.3h1.1M112.1 346.4h1.1M111.9 336.5h1.1M117.5 363.3h1.1M107.2 348.7h1.1M105.1 306.5h1.1M107.7 348h1.1M109.9 358h1.1M106.4 300.7h1.1M114.5 341.2h1.1M108 327.1h1.1M117.6 321.5h1.1M108.1 361.6h1.1M107.5 345.1h1.1M107.3 306.5h1.1M116.3 311h1.1M110.8 356.1h1.1M114 357.4h1.1M105.9 357h1.1M109.5 355.9h1.1M112.1 351.2h1.1M113.5 333.1h1.1M105.4 338.2h1.1M107.6 355.1h1.1M110.1 324.6h1.1M115.7 355.9h1.1M111.7 303.1h1.1M112 292.2h1.1M107.5 361.7h1.1M109 324.8h1.1M107.4 298.5h1.1M110.6 351h1.1M107.9 300.9h1.1M112.3 343.3h1.1M108 354.9h1.1M112.1 359.9h1.1M111.5 329.5h1.1M108.2 360.3h1.1M105.8 324.6h1.1M112.6 348.9h1.1M108.9 291.2h1.1M109.4 329.1h1.1M110.8 345h1.1M113.5 344h1.1M105.4 324.1h1.1M111.2 330.6h1.1M107 356.7h1.1M108 293.3h1.1M114.7 342.6h1.1M107.2 359.4h1.1M117.3 359.2h1.1M107.7 336.8h1.1M110.4 336.3h1.1M106.6 349.2h1.1M109.6 334.7h1.1M111 344h1.1M110.7 318.2h1.1M115.4 359.7h1.1M115.2 364.1h1.1M114.8 329.1h1.1M111.5 353.1h1.1M108.9 346.8h1.1M108.1 338.9h1.1M110.4 301.7h1.1M106.1 346.7h1.1M111.7 346.8h1.1M109.9 292.5h1.1M105.2 358.2h1.1M109.1 327.6h1.1M112.6 340.6h1.1M113.1 297.2h1.1M110.5 303.4h1.1M112.3 329.5h1.1M106.1 293.1h1.1M110.7 303.3h1.1M115.6 292.2h1.1M109.7 360.8h1.1M109.6 292.1h1.1M113 356.6h1.1M110.5 356.2h1.1M106 357.8h1.1M114.3 355.9h1.1M112.3 306.5h1.1M112 347.8h1.1M110 313.2h1.1M112.4 333.1h1.1M115.8 330.2h1.1M115.1 336.7h1.1M107.4 335.8h1.1M108.8 347.9h1.1M110.7 328.5h1.1M106.4 329.3h1.1M110.3 351.5h1.1M110.8 348.1h1.1M109.9 335.9h1.1M107.9 357.7h1.1M111.3 329.5h1.1M112 302.8h1.1M111.5 307.4h1.1M113.7 315.6h1.1M134.1 297.7h1.1M114.4 357.3h1.1M121.7 330h1.1M121.3 303h1.1M134.5 345.4h1.1M120 346.9h1.1M135.2 329.1h1.1M124.3 328h1.1M119.8 352.1h1.1M112.9 302.6h1.1M113.2 364.2h1.1M111.9 351.8h1.1M120.8 339.6h1.1M112.4 330h1.1M126.9 306.6h1.1M113 336.5h1.1M130.6 340.9h1.1M113.5 318.3h1.1M126.6 315.9h1.1M133.5 352.2h1.1M126.8 317.9h1.1M117.6 342.8h1.1M120.1 363.1h1.1M113.2 294.5h1.1M129.1 313.9h1.1M114.8 359.4h1.1M131 347h1.1M112.4 340.5h1.1M116 332.9h1.1M114.7 351.1h1.1M120.7 303.8h1.1M115.7 344.6h1.1M111.6 301.4h1.1M138.7 362.1h1.1M114.8 329.8h1.1M121.7 331.3h1.1M114.7 363.5h1.1M121.8 310.6h1.1M121.3 321.2h1.1M116.8 327.8h1.1M116 321.6h1.1M120.3 295.5h1.1M119.7 307.6h1.1M112.4 358.2h1.1M134.6 362.6h1.1M126.9 338.8h1.1M113.8 332.7h1.1M125.5 293.2h1.1M120.4 301.4h1.1M112 353.6h1.1M116.9 307.9h1.1M121.4 346h1.1M113.8 349.4h1.1M115.1 306.8h1.1M130 361.9h1.1M112.6 327.9h1.1M123.9 342h1.1M122.1 327h1.1M112.1 338.5h1.1M133.4 302.9h1.1M131 335.2h1.1M130.4 313.5h1.1M131.1 365.4h1.1M113.8 360.1h1.1M116.6 353.9h1.1M114.5 305.9h1.1M138.3 327.4h1.1M117 330.1h1.1M123.2 338h1.1M124 301.9h1.1M113 305h1.1M140.8 340.6h1.1M113.1 337.7h1.1M123.7 349.1h1.1M131.9 351.7h1.1M113.2 325.7h1.1M131.3 333.4h1.1M120.1 297.5h1.1M120.8 321.1h1.1M121.7 359.2h1.1M118.3 298.1h1.1M112.6 348.7h1.1M125.6 333.3h1.1M120.8 329.9h1.1M139.6 327.9h1.1M118.4 306.9h1.1M129.8 347.3h1.1M122.5 328.2h1.1M156 340.8h1.1M140.4 369.2h1.1M175.1 352.8h1.1M147.3 322.2h1.1M135 374.3h1.1M181.9 356h1.1" stroke="#a3acf0" stroke-width="1.1" fill="none" opacity="0.85" filter="url(#dotb)"/>
<path d="M109.5 356.3h1.1M111.1 356.8h1.1M110 354h1.1M112.1 338.4h1.1M113.5 362.7h1.1M105.2 360.3h1.1M108.7 356.8h1.1M111.6 364.2h1.1M111.6 353.2h1.1M110.1 358.5h1.1M113.6 358.2h1.1M111.6 354.8h1.1M112.2 362.7h1.1M109.6 359.6h1.1M111.4 357.9h1.1M108 359.5h1.1M111.2 341.5h1.1M110.7 342.8h1.1M112 365.1h1.1M107 355.9h1.1M110.8 359.7h1.1M107.3 358.3h1.1M108.6 354.9h1.1M105.2 355.9h1.1M108.2 361.9h1.1M112.9 357.2h1.1M111.8 359.2h1.1M107.2 351.7h1.1M112.4 355.9h1.1M108.1 362.6h1.1M109.1 352.6h1.1M106.4 349.5h1.1M108.2 363.6h1.1M109.9 347.7h1.1M108.1 356h1.1M115.6 354.1h1.1M110.9 354h1.1M108.1 356h1.1M116.4 363h1.1M109.9 363.9h1.1M106.8 350.5h1.1M112.9 354.4h1.1M108.2 358.8h1.1M110.2 363.3h1.1M114.2 359.3h1.1M113 361.8h1.1M115.1 355.4h1.1M108.5 343.5h1.1M106.6 358h1.1M113.7 355.1h1.1M113.6 351h1.1M115.7 351.6h1.1M111.8 353.6h1.1M110.5 361.6h1.1M107.1 359.8h1.1M108.9 360.6h1.1M111.4 362h1.1M111.6 364h1.1M112 358.2h1.1M112.7 363.8h1.1M104.4 358.8h1.1M111.7 352.8h1.1M109.3 361h1.1M108.8 345.7h1.1M113 357.1h1.1M117.9 336.1h1.1M104.9 354.8h1.1M114.7 364.4h1.1M109.5 354.1h1.1M118.5 355.6h1.1M112 363.2h1.1M112.6 356.1h1.1M104.1 351.2h1.1M115.9 361.6h1.1M112.4 351.7h1.1M113.7 360h1.1M110.6 353.1h1.1M109.3 358.5h1.1M107.7 355.4h1.1M112 363.1h1.1M109.8 351h1.1M109 352.3h1.1M105.3 362.1h1.1M108 352.9h1.1M104.3 351.6h1.1M111.9 355.5h1.1M118.1 361.3h1.1M105.6 359.1h1.1M112.8 359.3h1.1M108 358.3h1.1M111.9 358.1h1.1M114.6 357.2h1.1M106.1 352h1.1M110.1 361.9h1.1M117.4 364.4h1.1M110.4 353.8h1.1M106 361.6h1.1M109.5 351.2h1.1M109.6 363.7h1.1M110.2 349.9h1.1M105.7 342h1.1M109.3 350.4h1.1M106.7 336.8h1.1M110.9 358h1.1M105.1 344.4h1.1M110.2 361.5h1.1M117.2 348.5h1.1M111.4 355.3h1.1M106.9 357.2h1.1M104.1 364h1.1M104.5 356.6h1.1" stroke="#1420d0" stroke-width="1.1" fill="none" opacity="0.85" filter="url(#dotb)"/>
<clipPath id="cc14"><rect x="89.3" y="257.5" width="123.5" height="108.7"/></clipPath>
<g clip-path="url(#cc14)"><g filter="url(#b06)">
<ellipse cx="109.5" cy="363.5" rx="5.1" ry="3.5" fill="#1a2fe6"/>
<ellipse cx="108.6" cy="364.1" rx="3.5" ry="2.4" fill="#1fa2ee"/>
<ellipse cx="107.8" cy="364.5" rx="2.3" ry="1.6" fill="#30dc6c"/>
<ellipse cx="107.5" cy="364.7" rx="1.4" ry="1" fill="#e8dc30"/>
<ellipse cx="107.3" cy="364.8" rx="0.8" ry="0.6" fill="#f0501e"/>
</g></g>
</g>
<rect x="89.3" y="257.5" width="123.5" height="123" fill="none" stroke="#3a3a3a" stroke-width="1"/>
<path d="M118.3 257.5V380.5M89.3 345.3H212.8" stroke="#3a3a3a" stroke-width="0.9" fill="none"/>
<path d="M104.7 380.5v4.4M132.8 380.5v4.4M172.7 380.5v4.4M212.8 380.5v4.4M102.6 380.5v2.6M100.4 380.5v2.6M98.3 380.5v2.6M96.1 380.5v2.6M94 380.5v2.6M91.8 380.5v2.6M106.9 380.5v2.6M109 380.5v2.6M111.2 380.5v2.6M113.3 380.5v2.6M115.5 380.5v2.6M116.9 380.5v2.6M120.8 380.5v2.6M123.9 380.5v2.6M126.6 380.5v2.6M128.9 380.5v2.6M130.9 380.5v2.6M144.8 380.5v2.6M151.8 380.5v2.6M156.8 380.5v2.6M160.7 380.5v2.6M163.8 380.5v2.6M166.5 380.5v2.6M168.8 380.5v2.6M170.8 380.5v2.6M184.7 380.5v2.6M191.7 380.5v2.6M196.7 380.5v2.6M200.5 380.5v2.6M203.7 380.5v2.6M206.4 380.5v2.6M208.7 380.5v2.6M210.7 380.5v2.6M89.3 362.4h-4.4M89.3 342.4h-4.4M89.3 301.5h-4.4M89.3 257.5h-4.4M89.3 364.6h-2.6M89.3 366.7h-2.6M89.3 368.9h-2.6M89.3 371h-2.6M89.3 373.2h-2.6M89.3 375.3h-2.6M89.3 377.5h-2.6M89.3 379.6h-2.6M89.3 360.3h-2.6M89.3 358.1h-2.6M89.3 356h-2.6M89.3 353.8h-2.6M89.3 351.4h-2.6M89.3 348.7h-2.6M89.3 346.3h-2.6M89.3 344.2h-2.6M89.3 330.1h-2.6M89.3 322.9h-2.6M89.3 317.8h-2.6M89.3 313.8h-2.6M89.3 310.6h-2.6M89.3 307.9h-2.6M89.3 305.5h-2.6M89.3 303.4h-2.6M89.3 289.2h-2.6M89.3 282.1h-2.6M89.3 276.9h-2.6M89.3 273h-2.6M89.3 269.8h-2.6M89.3 267h-2.6M89.3 264.7h-2.6M89.3 262.6h-2.6" stroke="#3a3a3a" stroke-width="0.75" fill="none"/>
<rect x="91" y="260.3" width="46.1" height="6" fill="#fff"/>
<rect x="167.3" y="260.3" width="43.6" height="6" fill="#fff"/>
<rect x="91" y="372.1" width="45" height="6" fill="#fff"/>
<rect x="168.4" y="372.1" width="42.5" height="6" fill="#fff"/>
<g filter="url(#soft)">
<text x="104.3" y="391.2" font-size="6.5" text-anchor="middle" fill="#3a3a3a" stroke="#3a3a3a" stroke-width="0.22">0</text>
<text x="133.3" y="391.2" font-size="6.5" text-anchor="middle" fill="#3a3a3a" stroke="#3a3a3a" stroke-width="0.22">10<tspan dy="-2.3" font-size="4.8">4</tspan></text>
<text x="173.2" y="391.2" font-size="6.5" text-anchor="middle" fill="#3a3a3a" stroke="#3a3a3a" stroke-width="0.22">10<tspan dy="-2.3" font-size="4.8">5</tspan></text>
<text x="213.3" y="391.2" font-size="6.5" text-anchor="middle" fill="#3a3a3a" stroke="#3a3a3a" stroke-width="0.22">10<tspan dy="-2.3" font-size="4.8">6</tspan></text>
<text x="150.1" y="398.9" font-size="6.3" text-anchor="middle" fill="#3a3a3a" stroke="#3a3a3a" stroke-width="0.22">CD206 APC-A</text>
<text transform="translate(83.9,362.6) rotate(-90)" font-size="6.5" text-anchor="middle" fill="#3a3a3a" stroke="#3a3a3a" stroke-width="0.22">0</text>
<text transform="translate(83.9,341.2) rotate(-90)" font-size="6.5" text-anchor="middle" fill="#3a3a3a" stroke="#3a3a3a" stroke-width="0.22">10<tspan dy="-2.3" font-size="4.8">4</tspan></text>
<text transform="translate(83.9,300.3) rotate(-90)" font-size="6.5" text-anchor="middle" fill="#3a3a3a" stroke="#3a3a3a" stroke-width="0.22">10<tspan dy="-2.3" font-size="4.8">5</tspan></text>
<text transform="translate(83.9,256.3) rotate(-90)" font-size="6.5" text-anchor="middle" fill="#3a3a3a" stroke="#3a3a3a" stroke-width="0.22">10<tspan dy="-2.3" font-size="4.8">6</tspan></text>
<text transform="translate(75.7,318.6) rotate(-90)" font-size="6.3" text-anchor="middle" fill="#3a3a3a" stroke="#3a3a3a" stroke-width="0.22">CD11c PB450-A</text>
<text x="91.3" y="265.6" font-size="6.5" fill="#3a3a3a" stroke="#3a3a3a" stroke-width="0.22">Q3-UL(17.19%)</text>
<text x="210.6" y="265.6" font-size="6.5" text-anchor="end" fill="#3a3a3a" stroke="#3a3a3a" stroke-width="0.22">Q3-UR(4.31%)</text>
<text x="91.3" y="377.4" font-size="6.5" fill="#3a3a3a" stroke="#3a3a3a" stroke-width="0.22">Q3-LL(73.45%)</text>
<text x="210.6" y="377.4" font-size="6.5" text-anchor="end" fill="#3a3a3a" stroke="#3a3a3a" stroke-width="0.22">Q3-LR(5.04%)</text>
</g>
<g filter="url(#soft)">
<path d="M299.5 319.1h1.1M303.1 306.7h1.1M298 306h1.1M302.3 355.2h1.1M298.8 362.1h1.1M295.2 314.9h1.1M299.4 350.1h1.1M297.7 350.1h1.1M296 303.7h1.1M300.6 334.5h1.1M293.8 346.5h1.1M298.1 359.8h1.1M298.2 322.8h1.1M299.9 319.5h1.1M306.6 344.2h1.1M295.1 313.9h1.1M293.3 324.2h1.1M297.3 319.5h1.1M298.4 357.2h1.1M297.4 360.6h1.1M306.6 347.4h1.1M304.5 362.3h1.1M294.1 331.4h1.1M295.7 339.7h1.1M302 337.7h1.1M293.3 307.3h1.1M304 303.9h1.1M303.1 342.8h1.1M297.9 360.5h1.1M294.8 331.5h1.1M299.8 343.9h1.1M304.2 362.2h1.1M293.4 312.9h1.1M306.9 302.1h1.1M298.8 345.3h1.1M299.5 353.5h1.1M305.1 345.1h1.1M297 341.5h1.1M294.6 363.6h1.1M301.1 314.4h1.1M295 315.3h1.1M298.8 354.2h1.1M296.1 321h1.1M298.8 327.6h1.1M298.2 357.9h1.1M299.1 350.3h1.1M298.1 323.7h1.1M307.5 356.8h1.1M299.2 355.4h1.1M304.7 318.6h1.1M301.1 351.8h1.1M302.3 341.6h1.1M298.2 348.5h1.1M307.5 361.3h1.1M293.9 346.9h1.1M298.5 319.9h1.1M303 317.8h1.1M298.1 335.8h1.1M301.8 350.7h1.1M296.1 355.8h1.1M301.3 357.6h1.1M298.9 350.1h1.1M297.3 297.3h1.1M302.4 331h1.1M295 362.7h1.1M297.7 342.4h1.1M300.8 345.6h1.1M297.1 358.7h1.1M298.4 300.2h1.1M304.4 361.9h1.1M303.3 340.2h1.1M295.7 362.9h1.1M306.4 361.1h1.1M295.7 350.5h1.1M297.3 342.7h1.1M292.2 298.5h1.1M302.8 317h1.1M305.1 309.7h1.1M296 338.1h1.1M300.9 361.8h1.1M298.4 315.6h1.1M301.4 307.2h1.1M305.1 316.8h1.1M294.7 317.6h1.1M301.5 340.7h1.1M298.1 323.9h1.1M299.8 296.3h1.1M305.7 299.3h1.1M297.9 327.8h1.1M298.7 363.2h1.1M299.5 324.3h1.1M303.9 307h1.1M302.1 308.2h1.1M295.7 336h1.1M298.8 296.3h1.1M297.1 353.1h1.1M298.3 332.4h1.1M292.8 332.5h1.1M300 352.1h1.1M304.1 339.5h1.1M299.2 355.8h1.1M295.8 349.6h1.1M300.5 302h1.1M297.5 344.5h1.1M296 339.9h1.1M295.9 332.2h1.1M307.1 343.7h1.1M301.4 349.9h1.1M300.4 338.1h1.1M296.3 347.8h1.1M298.7 362.3h1.1M298.7 309.9h1.1M300 362.3h1.1M302.8 316.3h1.1M303.4 338.2h1.1M298.6 333.2h1.1M296.9 342h1.1M294.6 320.6h1.1M302.3 321.5h1.1M294.1 313.8h1.1M305.7 356.2h1.1M300 326.1h1.1M303.9 323.6h1.1M296.9 357.7h1.1M294 332.8h1.1M295.5 344.4h1.1M304 318.2h1.1M295.4 315.2h1.1M299.7 320.3h1.1M297.6 360.3h1.1M300.6 305.5h1.1M294.1 340.6h1.1M297.1 331.3h1.1M294.4 319.2h1.1M298.9 326.2h1.1M305.8 306.7h1.1M297.4 325.7h1.1M298.4 315h1.1M298.1 299.7h1.1M299.5 340.2h1.1M301.2 348.1h1.1M297 350.1h1.1M297.2 355.6h1.1M309.8 362.3h1.1M298.7 349.2h1.1M294 362.9h1.1M305.9 361.7h1.1M302.7 357.8h1.1M293.7 341.9h1.1M294.6 341.6h1.1M300.6 360.5h1.1M290 352.7h1.1M296.4 354.9h1.1M293.1 343h1.1M304.7 354.8h1.1M298.2 361.1h1.1M299.7 350.5h1.1M305.6 356.5h1.1M303.4 354.2h1.1M304.7 363.1h1.1M294.5 362.6h1.1M305.1 359.7h1.1M301.1 362.5h1.1M297.7 331.4h1.1M298.4 357.5h1.1M307.1 360.7h1.1M292.9 349h1.1M298.8 356h1.1M305.4 348.5h1.1M303.8 359.8h1.1M301.9 362.5h1.1M304.5 361.1h1.1M295.8 356.4h1.1M304.1 356.9h1.1M296.1 359.2h1.1M302.6 347.7h1.1M293.2 341.4h1.1M299.2 354.4h1.1M299.4 359.2h1.1M305.8 364.2h1.1M302.1 363.9h1.1M304.1 343.4h1.1M297.6 355.3h1.1M299.8 361.5h1.1M302.6 345.2h1.1M305.1 330.2h1.1M303.4 352h1.1M295.5 349.4h1.1M302.4 364.4h1.1M299.3 325.3h1.1M295.7 361.7h1.1M303.5 344.2h1.1M299.3 338.3h1.1M305.3 360h1.1M293.2 359.6h1.1M302.1 359.4h1.1M305.5 360.9h1.1M298.1 358.5h1.1M297 361.5h1.1M302.2 362.7h1.1M293.4 362.2h1.1M303.9 363.1h1.1M306 351.6h1.1M303.1 355.8h1.1M302 363.2h1.1M305.1 359.9h1.1M302.5 352.4h1.1M299.3 353.8h1.1M294.3 357.7h1.1M301.8 363.3h1.1M297.5 352.9h1.1M293.5 340.6h1.1M297.3 348.1h1.1M295.4 356.2h1.1M299.8 359.7h1.1M306.2 365h1.1M301.4 346.4h1.1M297 351.9h1.1M302.3 356.9h1.1M298.3 351.5h1.1M296.5 344.1h1.1M305.4 351.5h1.1M300.1 351.2h1.1M311.6 356.6h1.1M302.9 346.7h1.1M297 361.7h1.1M296.1 342.2h1.1M303.7 361.8h1.1M303.9 320.3h1.1M295.2 335.7h1.1M295.4 358.8h1.1M293.3 360.1h1.1M303.6 345.7h1.1M303.5 318.9h1.1M297.5 347.2h1.1M299.5 339h1.1M299.3 353.3h1.1M294.5 356.6h1.1M296.9 354.9h1.1M300.4 361.4h1.1M304.9 349.7h1.1M302.5 349.5h1.1M308.9 361.6h1.1M295.4 349.5h1.1M305.8 356.1h1.1M294.5 359.2h1.1M297.3 361.3h1.1M296.1 356.1h1.1M303.8 356.1h1.1M297.9 343.2h1.1M297 348.8h1.1M307.8 353h1.1M293.7 348.5h1.1M299.2 355.3h1.1M298.4 349.4h1.1M298.7 354.6h1.1M298.2 339.4h1.1M293.7 339.1h1.1M305.7 350.1h1.1M297.5 347.8h1.1M301.6 349.2h1.1M299.3 347.4h1.1M310.7 356.1h1.1M297.5 346.8h1.1M297 343.7h1.1M293.4 350h1.1M299.7 345.9h1.1M298.7 364.3h1.1M302.6 356.4h1.1M300.4 357.8h1.1M293.1 360.3h1.1M302.2 350.1h1.1M298.9 353.3h1.1M297.6 360.3h1.1M293.4 356.6h1.1M292.3 340.6h1.1M302.6 361h1.1M303.9 338.9h1.1M303.8 346.3h1.1M304.2 342.2h1.1M304.8 342.2h1.1M301.1 363.4h1.1M297.3 359.5h1.1M297.3 349.9h1.1M299.9 345.1h1.1M295 348.9h1.1M303.5 352.2h1.1M301 356.2h1.1M299.3 349h1.1M299.3 356.6h1.1M300.5 343.3h1.1M302.7 345.2h1.1M296.6 345.8h1.1M299 358.2h1.1M296.3 356.4h1.1M303.2 353.4h1.1M300.1 359.7h1.1M307.2 344.2h1.1M309 343.6h1.1M297 347.2h1.1M303 358h1.1M301.5 352.6h1.1M297.3 355.7h1.1M294 338h1.1M303.6 356h1.1M293.5 342.7h1.1M305.9 357.6h1.1M297.5 341.9h1.1M302.5 333.6h1.1M295 351.1h1.1M297.1 350.6h1.1M295.2 359.7h1.1M292.8 348.5h1.1M296.2 357.4h1.1M302.6 334.1h1.1M302.1 351.4h1.1M310.2 359.2h1.1M296.4 340.2h1.1M292.3 362.3h1.1M299.9 345.8h1.1M299.8 355.3h1.1M299.8 360.6h1.1M301.7 351.4h1.1M295.9 354.6h1.1M305.1 361.2h1.1M296.2 360.9h1.1M300.2 362.5h1.1M296.1 351.6h1.1M298.1 360.9h1.1M298.6 348.9h1.1M296.5 343.5h1.1M306 358.7h1.1M303.6 357.7h1.1M299.9 354.3h1.1M293.4 352.3h1.1M304.1 356.8h1.1M296.8 344.3h1.1M298.6 341.8h1.1M302.8 356.4h1.1M298.3 351.6h1.1M300.8 357h1.1M303 353.9h1.1M301.8 363.6h1.1M292.9 359.1h1.1M303.2 360.2h1.1M299.6 357.7h1.1M298.6 357.6h1.1M301.6 349h1.1M296.3 359.1h1.1M299.9 360.2h1.1M299 340.9h1.1M307.1 356.6h1.1M296.6 355.8h1.1M300.9 352.7h1.1M293.8 350.9h1.1M294.9 355.7h1.1M298.4 345.7h1.1M296.2 350.4h1.1M300 362.9h1.1M303.6 355.1h1.1M296.7 349.4h1.1M301.9 364.5h1.1M300.5 345.8h1.1M294 352.4h1.1M299.2 362.2h1.1M300.6 342.2h1.1M296.9 359.7h1.1M307 346.6h1.1M295.7 351.2h1.1M296.3 352.7h1.1M304.1 342.6h1.1M296.6 361.1h1.1M297 348.5h1.1M298.6 345h1.1M299.2 336.3h1.1M299.6 349.9h1.1M304.8 327.7h1.1M300.6 353.4h1.1M299.1 361.7h1.1M309.2 357.7h1.1M297.3 349.1h1.1M302.9 358.9h1.1M301.8 362.8h1.1M300.4 339.4h1.1M295.4 339.9h1.1M295.9 354.2h1.1M301.4 349.8h1.1M300.9 338.6h1.1M305.3 351.1h1.1M299.7 356.9h1.1M300.2 360.7h1.1M296.3 358h1.1M298.5 356h1.1M296.3 352.4h1.1M298.2 360.9h1.1M302 358h1.1M296.6 350.1h1.1M311.1 359.8h1.1M294.1 353.4h1.1M309.9 364.3h1.1M295.3 345.7h1.1M299.4 356.6h1.1M300.4 360.4h1.1M297 327.8h1.1M302 334.2h1.1M296.9 354.5h1.1M302.7 350.9h1.1M306 356.1h1.1M302.8 322.4h1.1M303.5 365.2h1.1M301.1 341.7h1.1M302.9 304h1.1M314.5 319.5h1.1M315.8 319.7h1.1M314.7 321.2h1.1M302.1 365.3h1.1M334.6 306.9h1.1M314.8 349h1.1M314.7 316.8h1.1M303.4 338.2h1.1M322.1 299.2h1.1M309.5 357.4h1.1M317.5 309.6h1.1M307.4 361.4h1.1M319 323.6h1.1M328.9 294.6h1.1M318.6 296.3h1.1M310 335.8h1.1M308.6 317.5h1.1M302.9 314.1h1.1M304 357.9h1.1M301.9 296.6h1.1M303 302.6h1.1M304 323.6h1.1M310 298.2h1.1M315.5 321.2h1.1M308.2 346.3h1.1M305.3 302.7h1.1M310.1 327.2h1.1M304.7 365.7h1.1M304.2 340.2h1.1M314.6 293.2h1.1M316.1 321.5h1.1M302.6 312.7h1.1M303.9 341.9h1.1M305.7 311.5h1.1M303.7 340.1h1.1M301.2 338.1h1.1M305.4 317.3h1.1M301.4 343.4h1.1M308.9 351h1.1M322.6 307.1h1.1M321.3 293.7h1.1M315.5 366.7h1.1M300.6 310.4h1.1M306 325.5h1.1M305.1 353.4h1.1M304.5 314.7h1.1M304.7 355.9h1.1M305.9 354h1.1M301.2 364.2h1.1M315.6 343.5h1.1M301.5 329.1h1.1M304.8 305.1h1.1M300.8 344.7h1.1M316.3 337.6h1.1M309.4 327.9h1.1M321.9 338.5h1.1M304.2 361.2h1.1M304.2 355.7h1.1M317.6 332.7h1.1M304 357h1.1M304.3 338.4h1.1M307.2 336.8h1.1M312.9 319.9h1.1M309.5 301.9h1.1M311.9 297.1h1.1M308 364.9h1.1M315.5 330h1.1M312.2 294.2h1.1M301.2 312.8h1.1M317.3 320.7h1.1M303.9 323.8h1.1M305.8 297.4h1.1M323.4 353.1h1.1M311.1 362.7h1.1M316.7 303.7h1.1M304.5 327.4h1.1M302.8 308.8h1.1M304 327.8h1.1M308.9 337.1h1.1M300.5 361.7h1.1M302.7 338.5h1.1M323.1 360.8h1.1M304.9 324.2h1.1M311.5 332.5h1.1M304.6 350.7h1.1M301.9 353.7h1.1M312.1 342.5h1.1M307.3 335.5h1.1M311.2 355.7h1.1M308.9 304.9h1.1M314.3 298.5h1.1M320.4 364.9h1.1M305.9 331.3h1.1M312.9 313.9h1.1M303.1 364.5h1.1M301.8 360.5h1.1M312.1 308.1h1.1M319.5 299.2h1.1M309.9 313.4h1.1M322.2 335.5h1.1M316.5 313.1h1.1M306.5 320.3h1.1M314.5 352h1.1M301.6 319.2h1.1M303.5 308.6h1.1M304.4 320.6h1.1M303.8 320.1h1.1M307.3 339.1h1.1M311.5 317.4h1.1M312.5 319.3h1.1M319.3 339.6h1.1M306.3 313.4h1.1M303.5 312.3h1.1M316.9 361.1h1.1M309.8 349.7h1.1M311.7 323.3h1.1M302.2 310.6h1.1M302.6 314.2h1.1M305.5 338h1.1M324.5 304.4h1.1M307.4 351.3h1.1M301.5 349.2h1.1M305.9 362.8h1.1M300.9 365.9h1.1M327.7 346.5h1.1M323.3 348.8h1.1M305.9 302.6h1.1M315.4 313.7h1.1M301.1 346.7h1.1M300.6 345.6h1.1M315.3 359.5h1.1M319.4 309.7h1.1M325 355.7h1.1M310.5 336.6h1.1M302.5 308h1.1M302.4 343.4h1.1M308.2 350.7h1.1M300.9 324h1.1M321.7 303h1.1M308.6 332.5h1.1M308.4 345.3h1.1M308 357.8h1.1M302.7 349.9h1.1M314.5 321.8h1.1M308.7 313.4h1.1M304.3 305.5h1.1M326.7 359.5h1.1M307.5 357.9h1.1M319.6 352h1.1M300.9 361.4h1.1M307.9 347.4h1.1M301.3 354.4h1.1M302.3 293.8h1.1M307.5 315.7h1.1M301.6 349.4h1.1M306.7 359.3h1.1M310.2 325.2h1.1M301.7 349.7h1.1M301.1 323.4h1.1M302.3 294h1.1" stroke="#2534e0" stroke-width="1.1" fill="none" opacity="0.85" filter="url(#dotb)"/>
<path d="M299.8 300.4h1.1M305.1 362.1h1.1M305.5 359.2h1.1M294.8 317.2h1.1M299.6 306.1h1.1M296.9 359.6h1.1M299.8 344.3h1.1M295 339.7h1.1M302.9 339.9h1.1M299.6 317.6h1.1M300.5 304.7h1.1M304.4 313.9h1.1M303.3 349.4h1.1M301.4 327h1.1M299.3 348h1.1M296.2 347.8h1.1M306.3 304.9h1.1M297 293.8h1.1M303.9 357h1.1M296.3 357.6h1.1M299.3 348.8h1.1M304.7 296.7h1.1M297.9 334.3h1.1M301.5 347.5h1.1M305.2 318.4h1.1M303.6 308.7h1.1M295.3 331h1.1M302 355.3h1.1M299.9 312.2h1.1M306.1 358.8h1.1M304.9 361.7h1.1M300 362.7h1.1M296.7 356h1.1M302.4 361.4h1.1M298.7 329.3h1.1M294 323.9h1.1M302.8 315.8h1.1M301.4 332.6h1.1M304.7 344.7h1.1M294.8 357.9h1.1M297.7 338.8h1.1M294.2 294.8h1.1M299.6 339.8h1.1M292.4 353.8h1.1M296.2 356.3h1.1M300.6 324.9h1.1M299.4 342.8h1.1M301 358.6h1.1M300.9 350.2h1.1M301.2 362.8h1.1M296.8 303.6h1.1M295.1 362.2h1.1M293.5 352h1.1M299.5 327.8h1.1M299 322.1h1.1M299.1 306.6h1.1M295.6 349.2h1.1M300.8 349.7h1.1M299.3 324.9h1.1M296.2 353.3h1.1M298.5 346.7h1.1M302.4 361.4h1.1M295.8 356.3h1.1M302.9 330.6h1.1M306.8 359.6h1.1M297.4 356.6h1.1M303.9 360.2h1.1M300.9 313.8h1.1M305.9 346.2h1.1M292.8 343.6h1.1M295.5 339.8h1.1M296 315h1.1M299.1 308.2h1.1M302.5 346.1h1.1M299.5 336.7h1.1M301.8 362.3h1.1M301.6 301.8h1.1M300.1 341.1h1.1M295.6 340h1.1M300.3 329.2h1.1M297.5 361.7h1.1M304.9 344.6h1.1M300.5 298.4h1.1M296.4 308.8h1.1M300.9 324h1.1M299.2 360.3h1.1M309 305.3h1.1M300.1 326.3h1.1M302 321.5h1.1M298.8 341.1h1.1M299.6 340.5h1.1M306.5 363.2h1.1M301.2 295.9h1.1M300.2 339.6h1.1M303.3 349.4h1.1M293.7 357.9h1.1M292.7 357.7h1.1M305.1 324.7h1.1M302.5 345.8h1.1M301.3 303.3h1.1M299.8 341h1.1M299.4 297.5h1.1M298.1 353.7h1.1M300.8 341.4h1.1M296.5 334.7h1.1M302.3 303.4h1.1M294 354.5h1.1M309.7 330.6h1.1M297.6 343.2h1.1M301.8 299.7h1.1M301.8 356.5h1.1M302.9 343.8h1.1M295.2 340.5h1.1M306.8 349.8h1.1M296.3 324.6h1.1M299.2 363.5h1.1M295.8 338.2h1.1M298.5 361.7h1.1M302.4 315.7h1.1M303.4 363h1.1M298.3 349.1h1.1M302.9 347.4h1.1M306.6 345.7h1.1M299.2 337.2h1.1M294.7 360.6h1.1M301.2 354.4h1.1M301.8 354.1h1.1M297.8 355.3h1.1M299.8 352.7h1.1M298.2 349.5h1.1M296 352.3h1.1M303.8 357.2h1.1M296.5 343.5h1.1M298.9 324.8h1.1M301.4 354h1.1M301.8 359.4h1.1M310 358.8h1.1M305.5 361.1h1.1M300.7 361.9h1.1M310.9 356.5h1.1M300.6 360.1h1.1M303.3 350.2h1.1M294.2 362h1.1M293.4 343.9h1.1M299.9 339.5h1.1M297.3 353.8h1.1M304 354.5h1.1M297.1 358.7h1.1M295.1 354.8h1.1M298.6 345.9h1.1M302.8 354.9h1.1M294.7 359.6h1.1M305.4 354.5h1.1M296.8 359.6h1.1M302.3 361.1h1.1M293.5 355.6h1.1M304.9 362.9h1.1M296.6 355.3h1.1M306 346.9h1.1M299.6 357.1h1.1M306.1 358.7h1.1M298.8 338.3h1.1M300.5 341.9h1.1M301.8 350h1.1M299.4 357.7h1.1M294.9 357.7h1.1M299.9 361.4h1.1M299.6 362.9h1.1M299.8 355.3h1.1M299.3 359.1h1.1M299.6 360.7h1.1M295.6 359.9h1.1M293.7 359.1h1.1M300.8 336.7h1.1M296.4 358.2h1.1M298.2 358.3h1.1M301.1 337.1h1.1M298.8 356.9h1.1M304.2 347.2h1.1M296.2 353.3h1.1M297.3 336.2h1.1M303.6 345.5h1.1M298.4 356.9h1.1M303.2 349.6h1.1M302.1 344.3h1.1M299.1 354.8h1.1M308 342.8h1.1M295.3 354.1h1.1M311.1 354.1h1.1M303.7 356.8h1.1M297.5 346.3h1.1M297.7 348.7h1.1M301 359.8h1.1M296.3 349.2h1.1M304.5 362.1h1.1M312.3 339.7h1.1M298.9 346h1.1M300.8 347.7h1.1M301.3 340.8h1.1M297.3 352.4h1.1M294.5 351.2h1.1M303.9 363.4h1.1M294 359.4h1.1M302.2 362.1h1.1M296.8 353.1h1.1M298.3 335.7h1.1M300.4 331.9h1.1M306.6 351.3h1.1M295.6 346.7h1.1M303.1 363.2h1.1M305.9 362.9h1.1M292.4 362.7h1.1M300.8 354.6h1.1M299.8 349h1.1M300.7 355.6h1.1M299.6 343h1.1M299.2 350.4h1.1M300.5 348.7h1.1M304.4 349.6h1.1M297.7 358.6h1.1M295.7 344.5h1.1M305.8 362.8h1.1M305.8 362h1.1M308.3 359.2h1.1M299.8 359h1.1M299.3 359.8h1.1M300.4 355.4h1.1M309 352.2h1.1M300.5 358.2h1.1M303 335.5h1.1M313.9 352.6h1.1M310 357.9h1.1M306.3 315.6h1.1M306.2 320.7h1.1M302.9 339.1h1.1M308.4 312.8h1.1M308.8 297.4h1.1M309.2 348.8h1.1M311.3 357.1h1.1M322.9 361.2h1.1M305.9 324.8h1.1M306.5 301.7h1.1M312.3 343.5h1.1M300.7 330.3h1.1M313.4 349.2h1.1M326.6 352.3h1.1M307.1 334h1.1M320.2 354.3h1.1M310.2 306.8h1.1M304.7 313.6h1.1M301.4 340.2h1.1M326 302.2h1.1M318.2 324.8h1.1M309.2 355.3h1.1M315.6 335.5h1.1M301.4 357.7h1.1M304.7 341.5h1.1M301.4 304.3h1.1M312 341.7h1.1M302.6 299.7h1.1M302.1 316.5h1.1M307 336.5h1.1M304.8 296.9h1.1M312 302.9h1.1M305.7 303.9h1.1M302.5 295h1.1M313.6 293.3h1.1M310.4 318.3h1.1M305.4 328.1h1.1M316.9 300.4h1.1M302.4 334.3h1.1M310 359.1h1.1M302.9 314.6h1.1M309.6 303.6h1.1M326.2 352.9h1.1M319.1 363.2h1.1M302.3 358h1.1M311.6 294.4h1.1M319.7 334h1.1M307.4 362.5h1.1M303.3 318.2h1.1M311.1 322.2h1.1M310.3 330.8h1.1M300.8 333.4h1.1M318.9 356h1.1M301.5 310.4h1.1M304.1 331.9h1.1M301.7 354.7h1.1M312.9 331.5h1.1M315.7 311.3h1.1M301.5 357.5h1.1M309.4 303.8h1.1M321.5 351.5h1.1M325 330h1.1M310.6 301.2h1.1M301 350.7h1.1M311.2 341.2h1.1M302.1 321.8h1.1M310 301h1.1M329.1 341.5h1.1M311.4 355h1.1M331.5 362h1.1M302.1 357.2h1.1M329.3 300.9h1.1M303.8 336.2h1.1M305.5 314.1h1.1M314.3 322.5h1.1M313.4 364.9h1.1M305 303.1h1.1M311.4 336.5h1.1M308.3 361h1.1M315.8 339.8h1.1M309.5 356.3h1.1M308.4 305.1h1.1M305.5 319.3h1.1M316.8 307.1h1.1M308.3 363.1h1.1M320.3 355h1.1M307.4 307.2h1.1M323.7 362.8h1.1M305.4 339.1h1.1M300.6 319.6h1.1M304.3 363.3h1.1M301.1 332.9h1.1M307.5 350.7h1.1M312.2 349.7h1.1M306.1 333.4h1.1M302.4 345.2h1.1M304.7 321h1.1M302.5 307.7h1.1M307.1 321.2h1.1M309.3 304.6h1.1M302.7 356.1h1.1M308.6 300.3h1.1M301 300.5h1.1M306.9 363.9h1.1M303.9 316.4h1.1M322.4 292.9h1.1M310.7 327h1.1M311.6 321.3h1.1M314.6 338.8h1.1M324.9 363.2h1.1M315.8 345.4h1.1M304.9 315.7h1.1M301.1 335h1.1M307.9 344.6h1.1M306.4 360.1h1.1M305.1 352.7h1.1M311.5 319.7h1.1M312.3 312.6h1.1M300.7 318.1h1.1M301.6 362.6h1.1M302.3 342.2h1.1M305.2 291.9h1.1M301 301.2h1.1M303.2 355h1.1M306.5 331.2h1.1M303.1 327.5h1.1M315.6 347.1h1.1M301.5 300.1h1.1M306.7 327.4h1.1M302.6 320.2h1.1M316.1 299.9h1.1M302.9 347h1.1M311.6 311.5h1.1M306.6 312.1h1.1M307.4 309.3h1.1M310.6 344.7h1.1M317 355.6h1.1M304.2 310.1h1.1M307.2 304.3h1.1M308.9 353.1h1.1M312.1 350h1.1M329.4 320.6h1.1M302.1 359.1h1.1M301.6 315.3h1.1M327.3 347.5h1.1M308.8 291.8h1.1M330 361.7h1.1M312 307.8h1.1M311.1 343.6h1.1M313.6 316.9h1.1M306.5 302.5h1.1M302.1 349.8h1.1M317.9 334.7h1.1M314.8 297.1h1.1M300.7 325h1.1M314.3 358.5h1.1M302.8 360.1h1.1M334.4 335.5h1.1M313.7 309.9h1.1" stroke="#5565e6" stroke-width="1.1" fill="none" opacity="0.85" filter="url(#dotb)"/>
<path d="M298.2 353.2h1.1M297.7 333.9h1.1M296.7 306.3h1.1M301 358.5h1.1M301.8 342.4h1.1M297.2 339.3h1.1M294.7 295.7h1.1M294.7 330.2h1.1M296.9 354.7h1.1M301.1 307.6h1.1M298.6 338.6h1.1M297.1 336.3h1.1M298.7 354h1.1M295.4 301.5h1.1M302.3 303.8h1.1M295.8 362.4h1.1M297.6 306.4h1.1M300.9 325.6h1.1M301.2 339.5h1.1M298.9 359.1h1.1M299.7 359.5h1.1M300.1 338.5h1.1M297.1 313.4h1.1M295.5 346h1.1M293.3 360.2h1.1M301.1 333.3h1.1M297.6 357.4h1.1M293.7 364.1h1.1M297.1 362.8h1.1M304 303.9h1.1M304.7 293.3h1.1M299.3 354.1h1.1M297.1 356.7h1.1M301.4 302.6h1.1M305.8 345h1.1M296.2 361h1.1M300.8 345.4h1.1M296.8 306.3h1.1M302.9 363.1h1.1M299.5 357.6h1.1M302.2 308.8h1.1M299.6 355.9h1.1M300.8 336.1h1.1M299.5 298.4h1.1M294.5 347.7h1.1M295.7 331h1.1M301.4 307.9h1.1M295.3 302.2h1.1M296.4 318h1.1M297.9 316.5h1.1M300.7 294.1h1.1M298.3 300.5h1.1M300.8 296h1.1M294.4 308.4h1.1M296.3 296.8h1.1M303.7 318.5h1.1M297.6 346.8h1.1M298.5 298.3h1.1M300.3 355.9h1.1M295.8 350.1h1.1M297.1 335.6h1.1M300.7 355.2h1.1M302.2 302.3h1.1M300.7 322.5h1.1M298.2 359.2h1.1M300.1 304.9h1.1M296.5 322.1h1.1M296.9 304h1.1M301.7 341h1.1M300.7 319.9h1.1M298.1 321.9h1.1M296.6 345h1.1M300.8 347.8h1.1M299.2 357.8h1.1M301.8 296.9h1.1M294.2 301.9h1.1M299.8 331.5h1.1M296.4 298.1h1.1M300.3 332.6h1.1M299.4 351.3h1.1M299.9 319.9h1.1M297.9 357.2h1.1M293.7 332h1.1M300 332.8h1.1M297.8 321.8h1.1M300 360.6h1.1M302.6 311.3h1.1M301.4 362.1h1.1M299.5 341.9h1.1M299.3 361.6h1.1M297.3 351.1h1.1M296.4 294.7h1.1M296.7 318.2h1.1M299.2 352.1h1.1M301.2 342.2h1.1M297.6 299.4h1.1M296.2 361h1.1M298.6 304.2h1.1M298.3 323.8h1.1M295.3 356.5h1.1M298.9 338.2h1.1M297.4 334.8h1.1M304.7 297.5h1.1M295.6 303h1.1M297.1 308h1.1M295.3 313.7h1.1M298.3 359.1h1.1M300.5 345h1.1M296.5 321.8h1.1M295.6 362.9h1.1M299.1 363.4h1.1M300.3 310.8h1.1M301.8 319.1h1.1M303.2 355.1h1.1M306.8 304h1.1M299.7 329.2h1.1M300.6 324h1.1M297.5 349.5h1.1M296.6 295.6h1.1M299.2 340.6h1.1M298.3 351h1.1M297.3 342.4h1.1M300.9 345.4h1.1M302.9 343.1h1.1M319.1 334.8h1.1M301 346.3h1.1M307 362.2h1.1M303.9 302.3h1.1M306.8 357.1h1.1M317.2 331h1.1M306.8 327h1.1M310.3 322.4h1.1M302.1 367.1h1.1M318.1 362.3h1.1M323.5 304.5h1.1M300.5 347h1.1M300.9 308.5h1.1M303.3 327.8h1.1M303.5 331.3h1.1M334 320.5h1.1M304.1 334.1h1.1M304 349.9h1.1M306.2 336.3h1.1M303.9 310.1h1.1M301.9 352.7h1.1M302.4 351.9h1.1M306.8 316.7h1.1M335.5 324.4h1.1M305.2 364.2h1.1M303.7 333.9h1.1M307.4 308.6h1.1M318.1 333.4h1.1M304.3 345.3h1.1M319.1 294.5h1.1M308.1 347.4h1.1M301.6 330.3h1.1M300.9 324.9h1.1M303.2 357.5h1.1M322.7 310.6h1.1M306.9 327.7h1.1M317.7 310.1h1.1M332.2 329.7h1.1M309 305h1.1M303.8 349.9h1.1M312.5 321.5h1.1M301 356.2h1.1M305.8 360.2h1.1M303.5 359.6h1.1M316.1 351.4h1.1M306.3 347.8h1.1M309.3 362.6h1.1M300.6 365.7h1.1M305.2 334.1h1.1M305.4 357.2h1.1M305.2 316.6h1.1M308.7 301.8h1.1M305.1 349.7h1.1M311.7 340.2h1.1M302.2 311.2h1.1M312.7 358.9h1.1M314.2 316.8h1.1M307.8 330.8h1.1M308.7 338h1.1M303.7 347.2h1.1M310 318.8h1.1M330.8 356.5h1.1M301.6 320h1.1M315.1 334.4h1.1M304 360.4h1.1M312 358.4h1.1M320.6 320.7h1.1M316.4 305.7h1.1M311 329.8h1.1M316.9 366h1.1M303.5 295.8h1.1M302.5 340.6h1.1M306.6 330.6h1.1M321.2 310.3h1.1M306 328.9h1.1M301.7 336.9h1.1M311.9 311.2h1.1M300.6 313.8h1.1M306.7 320.9h1.1M304.3 344.7h1.1M319.1 297.1h1.1M302.2 333.6h1.1M312.7 366.3h1.1M301.5 296.5h1.1M301.6 313h1.1M300.8 307.5h1.1M302.4 308.6h1.1M300.5 310.5h1.1M311.2 346.5h1.1M317.1 358.1h1.1M301.1 306.3h1.1M305.4 305h1.1M309.8 345.7h1.1M301.1 324.3h1.1M305.3 343.8h1.1M309.6 319.3h1.1M305.5 330.7h1.1M304.6 344.8h1.1M319.1 339.1h1.1M316.5 361.5h1.1M337.4 361.4h1.1M307.6 309.7h1.1M324.9 331.6h1.1M302.1 314h1.1M306.8 366.9h1.1M312.4 332.3h1.1M303 297.7h1.1M302.9 342.7h1.1M301.1 298.6h1.1M302.7 295.3h1.1M301.6 337.4h1.1M307.9 298h1.1M311.3 335.8h1.1M328 321.5h1.1M314.4 349.3h1.1M315.7 300.5h1.1M310 304.3h1.1M313.1 352.1h1.1M312.9 361.9h1.1M305.9 334.3h1.1M304 329.7h1.1M305.7 307.9h1.1M318.1 350.8h1.1M310.6 360.5h1.1M301 349h1.1M363.9 327.2h1.1M327.1 345.2h1.1M336.1 365h1.1M355.8 362.1h1.1M367.5 319.6h1.1M313.8 366.8h1.1" stroke="#a3acf0" stroke-width="1.1" fill="none" opacity="0.85" filter="url(#dotb)"/>
<path d="M305.5 352.3h1.1M303.7 330.1h1.1M295.6 352.6h1.1M303.2 359.7h1.1M299.4 345.8h1.1M300.3 342.3h1.1M299.1 337.6h1.1M299.1 350.2h1.1M303.2 353.8h1.1M302.2 350.3h1.1M310.5 346.5h1.1M295.5 357.2h1.1M301.3 351.5h1.1M304.8 351.5h1.1M307.9 350.1h1.1M298.6 356.1h1.1M298 356.4h1.1M304.2 343.2h1.1M300 345.9h1.1M301.1 360.4h1.1M305.7 340.2h1.1M304 354.1h1.1M292.5 346.8h1.1M298.9 364.4h1.1M303.2 363.3h1.1M313 348.5h1.1M293.8 361.5h1.1M297.3 351.9h1.1M297.3 341.1h1.1M303.1 361h1.1M298.4 354.8h1.1M296.7 352.2h1.1M296.2 356.1h1.1M300.5 360.3h1.1M296.1 364.5h1.1M298.6 356.5h1.1M297.8 343.8h1.1M294 359h1.1M298.6 360h1.1M295 343.5h1.1M300.5 337.6h1.1M303.8 361.3h1.1M298.4 351.8h1.1M302.7 354.5h1.1M296.9 340h1.1M301.9 348.3h1.1M300.5 360.1h1.1M306.5 355.9h1.1M301.1 362.6h1.1M304.8 352.5h1.1M301.4 345.8h1.1M296.2 349.4h1.1M295.2 344h1.1M306.7 354.8h1.1M294.2 347.9h1.1M297.1 357.9h1.1M304.4 343h1.1M297.6 357.9h1.1M304.9 347h1.1M294.8 364.9h1.1M299 360.3h1.1M295.2 339.1h1.1M302.2 332h1.1M292.2 343.1h1.1M304.2 358.1h1.1M300.3 358.1h1.1M292.6 359.8h1.1M297 361.1h1.1M296 345.9h1.1M306.1 361.7h1.1M303.5 336.8h1.1M303.8 356.6h1.1M307.4 353.9h1.1M293.7 331.5h1.1M300.5 343.7h1.1M293.8 360.9h1.1M305.9 354.7h1.1M301.8 347.2h1.1M296.7 345.6h1.1M306.3 364.2h1.1M295.1 333.7h1.1M303.3 359.1h1.1M298.1 338.4h1.1M302.6 362.9h1.1M301.8 361.1h1.1M301.6 356h1.1M296.1 352.2h1.1M305.6 360.9h1.1M301.6 346.4h1.1M311.6 345h1.1M297.9 358.2h1.1M295.9 357h1.1M305.1 362.4h1.1M294.9 361.9h1.1M301.6 341.1h1.1M298.9 357.2h1.1M300.1 347.3h1.1M300.8 334.2h1.1M303 351.3h1.1M301.5 346.5h1.1M298.8 361.7h1.1M303.8 359.6h1.1M298.1 342.7h1.1M308.1 360.5h1.1M293.7 346.9h1.1M293.6 355.3h1.1M298.8 358.6h1.1M311.7 353.8h1.1M300.7 359.4h1.1M297 361h1.1M308.1 350.9h1.1M299.1 337.7h1.1M296.4 342.3h1.1M301 352.5h1.1M305.9 360.3h1.1M302.8 352.2h1.1M306.9 359.4h1.1M301 355.7h1.1M297.2 360.1h1.1M304.5 360.8h1.1M313.4 349.5h1.1M301.6 349.7h1.1M293.1 363.1h1.1M295.1 353.7h1.1M294.2 344.7h1.1M297.1 348h1.1M293.4 356.9h1.1M295.5 343.6h1.1M307.7 353h1.1M298.9 358.9h1.1M294.3 340.3h1.1M301.7 343.5h1.1M300.6 351.6h1.1M300.6 360.1h1.1M300.5 361.9h1.1M305.3 350.9h1.1M298.9 355.9h1.1M307.7 361.7h1.1M301.8 348h1.1M302.7 343.3h1.1M300.3 362.1h1.1M300.6 358.3h1.1M296.1 352.2h1.1M287.2 354.4h1.1M297.5 349h1.1M294.4 360.4h1.1M297.8 355.9h1.1M302.1 337.5h1.1M297.7 350.6h1.1M306.8 358h1.1M302.7 337.1h1.1M296.2 362.1h1.1M296.2 358.9h1.1M298.3 346.7h1.1M293.8 349.8h1.1M297.5 360.8h1.1M298.2 362.7h1.1M299 362.4h1.1M301.6 354.1h1.1M297.1 352.1h1.1M301.5 350.3h1.1M303.1 358.3h1.1M299.5 359.5h1.1M293.6 353.7h1.1M306.7 333.9h1.1M300.9 358.1h1.1M300.4 325.7h1.1M301.8 350.2h1.1M305.1 355.3h1.1M293.6 352.9h1.1M299.6 357.9h1.1M298.7 351h1.1M298 361.9h1.1M305.7 356.2h1.1M299.7 362.7h1.1M299 357.6h1.1M309.7 361.4h1.1M298.9 340.4h1.1M294.3 361.7h1.1M293.7 347.6h1.1M291.2 347h1.1M296.3 353.6h1.1M298.7 350.4h1.1M307.1 347.5h1.1M294.8 353.8h1.1M301.1 362.2h1.1M298.8 351.3h1.1M303 348.1h1.1" stroke="#1420d0" stroke-width="1.1" fill="none" opacity="0.85" filter="url(#dotb)"/>
<clipPath id="cc15"><rect x="276.3" y="257.3" width="123.9" height="109"/></clipPath>
<g clip-path="url(#cc15)"><g filter="url(#b06)">
<ellipse cx="299.7" cy="362.3" rx="7.4" ry="5.1" fill="#1a2fe6"/>
<ellipse cx="298.4" cy="363.3" rx="5.1" ry="3.4" fill="#1fa2ee"/>
<ellipse cx="297.2" cy="363.7" rx="3.3" ry="2.3" fill="#30dc6c"/>
<ellipse cx="296.7" cy="363.9" rx="2.1" ry="1.4" fill="#e8dc30"/>
<ellipse cx="296.5" cy="364" rx="1.2" ry="0.9" fill="#f0501e"/>
</g></g>
</g>
<rect x="276.3" y="257.3" width="123.9" height="123.2" fill="none" stroke="#3a3a3a" stroke-width="1"/>
<path d="M305.3 257.3V380.5M276.3 345.3H400.2" stroke="#3a3a3a" stroke-width="0.9" fill="none"/>
<path d="M291.8 380.5v4.4M319.9 380.5v4.4M359.9 380.5v4.4M400.2 380.5v4.4M289.6 380.5v2.6M287.5 380.5v2.6M285.3 380.5v2.6M283.2 380.5v2.6M281 380.5v2.6M278.9 380.5v2.6M293.9 380.5v2.6M296.1 380.5v2.6M298.2 380.5v2.6M300.4 380.5v2.6M302.5 380.5v2.6M304 380.5v2.6M307.9 380.5v2.6M311 380.5v2.6M313.7 380.5v2.6M316 380.5v2.6M318.1 380.5v2.6M332 380.5v2.6M339 380.5v2.6M344 380.5v2.6M347.9 380.5v2.6M351.1 380.5v2.6M353.7 380.5v2.6M356.1 380.5v2.6M358.1 380.5v2.6M372 380.5v2.6M379 380.5v2.6M384 380.5v2.6M387.9 380.5v2.6M391.1 380.5v2.6M393.8 380.5v2.6M396.1 380.5v2.6M398.1 380.5v2.6M276.3 362.4h-4.4M276.3 342.3h-4.4M276.3 301.4h-4.4M276.3 257.3h-4.4M276.3 364.5h-2.6M276.3 366.7h-2.6M276.3 368.8h-2.6M276.3 371h-2.6M276.3 373.1h-2.6M276.3 375.3h-2.6M276.3 377.4h-2.6M276.3 379.6h-2.6M276.3 360.2h-2.6M276.3 358.1h-2.6M276.3 355.9h-2.6M276.3 353.8h-2.6M276.3 351.4h-2.6M276.3 348.6h-2.6M276.3 346.3h-2.6M276.3 344.2h-2.6M276.3 330h-2.6M276.3 322.8h-2.6M276.3 317.7h-2.6M276.3 313.7h-2.6M276.3 310.5h-2.6M276.3 307.7h-2.6M276.3 305.4h-2.6M276.3 303.3h-2.6M276.3 289.1h-2.6M276.3 281.9h-2.6M276.3 276.8h-2.6M276.3 272.8h-2.6M276.3 269.6h-2.6M276.3 266.8h-2.6M276.3 264.5h-2.6M276.3 262.4h-2.6" stroke="#3a3a3a" stroke-width="0.75" fill="none"/>
<rect x="278" y="260.1" width="42.5" height="6" fill="#fff"/>
<rect x="354.7" y="260.1" width="43.6" height="6" fill="#fff"/>
<rect x="278" y="372.1" width="45" height="6" fill="#fff"/>
<rect x="355.8" y="372.1" width="42.5" height="6" fill="#fff"/>
<g filter="url(#soft)">
<text x="291.4" y="391.2" font-size="6.5" text-anchor="middle" fill="#3a3a3a" stroke="#3a3a3a" stroke-width="0.22">0</text>
<text x="320.4" y="391.2" font-size="6.5" text-anchor="middle" fill="#3a3a3a" stroke="#3a3a3a" stroke-width="0.22">10<tspan dy="-2.3" font-size="4.8">4</tspan></text>
<text x="360.4" y="391.2" font-size="6.5" text-anchor="middle" fill="#3a3a3a" stroke="#3a3a3a" stroke-width="0.22">10<tspan dy="-2.3" font-size="4.8">5</tspan></text>
<text x="400.7" y="391.2" font-size="6.5" text-anchor="middle" fill="#3a3a3a" stroke="#3a3a3a" stroke-width="0.22">10<tspan dy="-2.3" font-size="4.8">6</tspan></text>
<text x="337.3" y="398.9" font-size="6.3" text-anchor="middle" fill="#3a3a3a" stroke="#3a3a3a" stroke-width="0.22">CD206 APC-A</text>
<text transform="translate(270.9,362.6) rotate(-90)" font-size="6.5" text-anchor="middle" fill="#3a3a3a" stroke="#3a3a3a" stroke-width="0.22">0</text>
<text transform="translate(270.9,341.1) rotate(-90)" font-size="6.5" text-anchor="middle" fill="#3a3a3a" stroke="#3a3a3a" stroke-width="0.22">10<tspan dy="-2.3" font-size="4.8">4</tspan></text>
<text transform="translate(270.9,300.2) rotate(-90)" font-size="6.5" text-anchor="middle" fill="#3a3a3a" stroke="#3a3a3a" stroke-width="0.22">10<tspan dy="-2.3" font-size="4.8">5</tspan></text>
<text transform="translate(270.9,256.1) rotate(-90)" font-size="6.5" text-anchor="middle" fill="#3a3a3a" stroke="#3a3a3a" stroke-width="0.22">10<tspan dy="-2.3" font-size="4.8">6</tspan></text>
<text transform="translate(262.7,318.5) rotate(-90)" font-size="6.3" text-anchor="middle" fill="#3a3a3a" stroke="#3a3a3a" stroke-width="0.22">CD11c PB450-A</text>
<text x="278.3" y="265.4" font-size="6.5" fill="#3a3a3a" stroke="#3a3a3a" stroke-width="0.22">Q3-UL(8.10%)</text>
<text x="398" y="265.4" font-size="6.5" text-anchor="end" fill="#3a3a3a" stroke="#3a3a3a" stroke-width="0.22">Q3-UR(4.61%)</text>
<text x="278.3" y="377.4" font-size="6.5" fill="#3a3a3a" stroke="#3a3a3a" stroke-width="0.22">Q3-LL(79.39%)</text>
<text x="398" y="377.4" font-size="6.5" text-anchor="end" fill="#3a3a3a" stroke="#3a3a3a" stroke-width="0.22">Q3-LR(7.91%)</text>
</g>
<g filter="url(#soft)">
<path d="M479.6 365.2h1.1M481.5 361.5h1.1M476.7 348.7h1.1M480 320.1h1.1M475 334.1h1.1M481.2 335.7h1.1M479.1 300.2h1.1M477.3 338.1h1.1M482.8 304.9h1.1M481.8 347.3h1.1M475.2 360.7h1.1M478.3 297.8h1.1M482.2 295.8h1.1M483.8 303.5h1.1M479.7 331.5h1.1M476.7 315.5h1.1M479.3 300.3h1.1M480.8 361.8h1.1M474.9 294.9h1.1M482.2 320.5h1.1M480.2 358h1.1M480.3 335.7h1.1M480.2 323.5h1.1M480.1 346h1.1M478.4 297.7h1.1M483.1 341.2h1.1M481.9 347.6h1.1M477.4 293.9h1.1M480.9 318.9h1.1M476.1 338.3h1.1M479 340.9h1.1M479.3 312.2h1.1M478.6 327.7h1.1M478.6 358.5h1.1M478.7 323.7h1.1M479.9 345.3h1.1M484 314.5h1.1M475.9 326.4h1.1M481.1 359.3h1.1M484.4 309.1h1.1M479.8 303.6h1.1M483.7 319.8h1.1M485.4 323.7h1.1M476.8 345.9h1.1M484.3 300.7h1.1M475.7 298.1h1.1M477.7 355.3h1.1M474.6 332.1h1.1M474.8 363.8h1.1M477.2 359.9h1.1M484.7 294.1h1.1M485.1 358.7h1.1M481.9 302.3h1.1M484.3 325.4h1.1M480.3 362.1h1.1M475.3 349.7h1.1M478 313.4h1.1M482.2 302.1h1.1M475 334.6h1.1M477.3 349.3h1.1M480.4 300.7h1.1M475.6 315.9h1.1M484 314.5h1.1M478.8 334.2h1.1M482.2 330.1h1.1M478.1 307.5h1.1M484.9 326.9h1.1M480.7 343.7h1.1M485.5 300.1h1.1M479 336.5h1.1M478.8 329.9h1.1M487.4 358.2h1.1M478.7 322.4h1.1M482.8 321.9h1.1M479.2 356.1h1.1M483.8 291.8h1.1M478.1 298.6h1.1M483.2 324.7h1.1M483.2 359.5h1.1M479.8 320.7h1.1M482.8 317.1h1.1M480.8 337.9h1.1M481.3 340.6h1.1M481 349h1.1M474.1 351.2h1.1M483.2 332.2h1.1M480.9 359.4h1.1M479.2 318.9h1.1M482 306h1.1M479.7 338.4h1.1M475.3 330.5h1.1M483.5 329.8h1.1M474.3 321.9h1.1M481.7 342.3h1.1M483.5 360.4h1.1M482.4 357.4h1.1M484.8 357.5h1.1M477.2 358h1.1M478.4 360.3h1.1M481.7 359h1.1M475.3 357h1.1M479 352.9h1.1M476.6 362.3h1.1M480.5 361.8h1.1M480.5 355.7h1.1M482.2 356h1.1M479.5 357h1.1M480 359.8h1.1M480.2 360.9h1.1M484 358.6h1.1M484.9 357.7h1.1M478.4 358.3h1.1M480 359.2h1.1M479.6 360.4h1.1M479.6 351.6h1.1M483.5 361.4h1.1M479.5 362.1h1.1M482.6 354.8h1.1M480.9 363.7h1.1M476.6 358.9h1.1M487.4 361.2h1.1M482.2 354.7h1.1M482.9 365.5h1.1M481.1 350.3h1.1M479.6 353.4h1.1M475.7 359.4h1.1M478.8 349.3h1.1M480.6 360.7h1.1M476.9 361.7h1.1M482.4 363.7h1.1M485.1 360.9h1.1M478.6 361.1h1.1M480 364h1.1M475.6 353.5h1.1M478.1 361.2h1.1M476.4 360.5h1.1M480 357.3h1.1M481.9 361.3h1.1M483 359.3h1.1M473.2 361.5h1.1M480.6 365.1h1.1M478.1 364.5h1.1M480.3 357.2h1.1M480.7 354.2h1.1M482.5 354.2h1.1M477.9 352h1.1M480.6 360.4h1.1M480.8 364.2h1.1M482 361.9h1.1M479.8 362.2h1.1M479.3 359.7h1.1M481 361h1.1M479.9 359.6h1.1M485.4 346.4h1.1M474.1 346.6h1.1M479.6 362h1.1M476.4 348.1h1.1M483 362.1h1.1M477.4 362.4h1.1M481.4 357.6h1.1M475.3 363.9h1.1M481.6 357.8h1.1M479.3 359.8h1.1M479.1 356.4h1.1M476.8 356.5h1.1M482.1 362.1h1.1M476.7 361.2h1.1M480.8 359.5h1.1M477.2 361h1.1M481.6 360.9h1.1M478.8 359.9h1.1M479.1 359.3h1.1M479.4 360.2h1.1M481.4 362.7h1.1M483 365.6h1.1M491.3 297.8h1.1M487.3 331.5h1.1M499.6 314.3h1.1M486.7 314.1h1.1M486 328.4h1.1M490.4 328.7h1.1M491.4 297.3h1.1M490.8 341.3h1.1M481.9 334.4h1.1M484.8 332.9h1.1M513.1 358.4h1.1M498.2 308.3h1.1M484 314.8h1.1M488.9 344.3h1.1M486.7 324.3h1.1M494.4 365.4h1.1M491.6 300h1.1M506 353.2h1.1M495.7 309.9h1.1M492.1 348.2h1.1M485.9 342.9h1.1M489.1 314.1h1.1M506.7 300h1.1M488.4 320.9h1.1M481.9 318.3h1.1M487.5 333.5h1.1M486.6 351.9h1.1M493.4 310.7h1.1M492.8 296.9h1.1M483.4 343.5h1.1M490.7 338.1h1.1M488.2 332.2h1.1M499.5 301.3h1.1M488.1 357.1h1.1M511.9 319.4h1.1M516.6 324.2h1.1M482.6 310.7h1.1M491.9 309.4h1.1M489.5 342.7h1.1M484.1 325.4h1.1M506 295.8h1.1M486.2 319.4h1.1M482.7 355.8h1.1M495.7 304.3h1.1M503.4 346.2h1.1M483.6 325.2h1.1M484.5 334.9h1.1M483.2 333.6h1.1M481.9 345.7h1.1M487.1 320h1.1M500.4 350.3h1.1M482.7 321.5h1.1M484.3 317.5h1.1M487.1 353.8h1.1M504.7 313h1.1" stroke="#2534e0" stroke-width="1.1" fill="none" opacity="0.85" filter="url(#dotb)"/>
<path d="M477.6 337.8h1.1M480.3 349h1.1M480.8 348.5h1.1M484.2 314.5h1.1M482.9 308.1h1.1M481.5 350h1.1M476.4 328.7h1.1M480.7 293.6h1.1M475.8 331h1.1M482.5 354.3h1.1M480.4 315.7h1.1M477.6 311.5h1.1M485.5 296.4h1.1M479.9 296.3h1.1M480.4 360.3h1.1M478.5 339.6h1.1M481.7 301.7h1.1M482.9 304.9h1.1M483.2 363.8h1.1M477.1 310.7h1.1M479.3 363.1h1.1M478.6 322h1.1M487 302.6h1.1M478.2 351.4h1.1M480.4 351.4h1.1M478.5 337.2h1.1M480.1 315.5h1.1M478.2 349.1h1.1M480.1 350.9h1.1M482.3 343h1.1M481.4 348.2h1.1M477.7 305.7h1.1M476.2 345.5h1.1M481.3 343.1h1.1M486.2 364.3h1.1M479.3 328h1.1M482.3 355.4h1.1M477.3 349.3h1.1M481.6 297.1h1.1M482.6 357.8h1.1M481.2 340.3h1.1M475.9 333.4h1.1M477.4 327.4h1.1M478.4 322.2h1.1M478.6 344.8h1.1M483.4 306.3h1.1M479.9 330.8h1.1M478 345.9h1.1M479.8 319.9h1.1M482.3 297.2h1.1M482.8 347.5h1.1M478.6 303.6h1.1M482.3 363h1.1M478.7 357.4h1.1M480.6 334.5h1.1M484.1 355.1h1.1M479.8 336.9h1.1M486.6 295.4h1.1M481.1 310h1.1M480 350.8h1.1M479 358.8h1.1M483.3 364.1h1.1M477.2 329.5h1.1M473.9 340.7h1.1M475.5 362.2h1.1M479 310.1h1.1M482.6 348.3h1.1M476.8 308.4h1.1M478.1 298.2h1.1M479.6 327.5h1.1M480.3 296.7h1.1M481.9 332.2h1.1M479.6 307h1.1M476.7 349.7h1.1M481.8 297.2h1.1M478 318.7h1.1M481.5 305.7h1.1M484.7 319.6h1.1M479.5 326.7h1.1M483.1 342.4h1.1M479 317.1h1.1M479.6 309.2h1.1M480.3 361.6h1.1M474.3 309.7h1.1M480.2 361.1h1.1M479.8 360.7h1.1M478.6 322.4h1.1M474.5 364.1h1.1M482.1 337.3h1.1M481.8 355.3h1.1M482.8 339.9h1.1M479.1 363.1h1.1M480.5 333.4h1.1M473.7 353.7h1.1M481.4 338.7h1.1M478.2 314.1h1.1M477.7 328.3h1.1M483.9 325.8h1.1M477.2 363.6h1.1M479.7 342.3h1.1M477.4 357.9h1.1M482.1 355.3h1.1M481.4 357.4h1.1M483.7 356.5h1.1M476.2 361.1h1.1M479.7 349.3h1.1M479.8 361.1h1.1M481 362.2h1.1M483.6 355.4h1.1M484.4 361.8h1.1M482.5 361.6h1.1M483.1 353.4h1.1M477.7 356.6h1.1M474.1 361.7h1.1M483.7 350.7h1.1M482.2 352.9h1.1M479.4 362.7h1.1M479.7 355.5h1.1M480.8 360.8h1.1M488.5 352.3h1.1M482.8 357.1h1.1M479.2 363.8h1.1M495.6 358h1.1M483.4 316.1h1.1M486.2 313.4h1.1M481.4 303.1h1.1M481.6 353h1.1M487 352h1.1M481.5 354.3h1.1M487.5 343.9h1.1M487.5 335.1h1.1M494.2 296.6h1.1M484.5 304.6h1.1M492.6 355.2h1.1M489.8 331h1.1M481.8 337h1.1M488.3 348.5h1.1M483 297.7h1.1M481.5 349.9h1.1M484.4 351.7h1.1M483.4 346.5h1.1M484.7 304.4h1.1M505.6 320.6h1.1M494.2 297.4h1.1M491.1 344.7h1.1M482.8 360.7h1.1M483.3 330.1h1.1M485.7 318.7h1.1M508.2 306.4h1.1M486.7 350.1h1.1M511.3 313.8h1.1M491.9 348.9h1.1M486.6 363h1.1M491 345.8h1.1M500 336.8h1.1M485 322.4h1.1M494.8 316.9h1.1M484.7 336.4h1.1M498.6 324.6h1.1M491.4 321.4h1.1M483.7 360.8h1.1M491 310.7h1.1M484.5 360.6h1.1M491.1 330h1.1M511.5 315.6h1.1M486.4 309.2h1.1M514.5 335.7h1.1M499.7 322.6h1.1M489.2 320.8h1.1" stroke="#5565e6" stroke-width="1.1" fill="none" opacity="0.85" filter="url(#dotb)"/>
<path d="M479.7 308.3h1.1M475.2 343.8h1.1M478.2 343h1.1M484.1 299.2h1.1M481 336h1.1M482.2 349.6h1.1M477.4 342.9h1.1M484.4 350.1h1.1M480.9 349.7h1.1M479.8 355.8h1.1M480.8 335.2h1.1M481.8 359.9h1.1M477.2 313h1.1M477.3 320.1h1.1M487.7 297.7h1.1M477.6 312.4h1.1M481.1 364.3h1.1M479.8 358.5h1.1M477.8 350h1.1M481.5 320h1.1M479 347.4h1.1M479.6 294.8h1.1M482.5 302.1h1.1M479.9 329.4h1.1M477.1 343.8h1.1M484.9 328.8h1.1M480.8 347h1.1M480.6 304.5h1.1M478.5 329.6h1.1M476.4 344.3h1.1M479.9 315.1h1.1M479 294.3h1.1M479.3 342.7h1.1M484.9 343.8h1.1M478.6 341.6h1.1M478.4 350.5h1.1M480 318h1.1M485 318.9h1.1M481.6 320.1h1.1M475.3 311h1.1M476.8 301.4h1.1M481 303.5h1.1M480.9 310.3h1.1M481.5 342.3h1.1M478.8 345.8h1.1M479.9 331.1h1.1M480.6 326.9h1.1M479.9 332.4h1.1M474.3 338.8h1.1M478.5 306.1h1.1M481.8 328.6h1.1M478.1 337.1h1.1M477 358.7h1.1M481.2 362.4h1.1M485.4 322.1h1.1M482.7 360.6h1.1M481.2 341.9h1.1M481.4 322.4h1.1M478.2 328.1h1.1M481.6 363h1.1M475.8 354.2h1.1M481.8 365.1h1.1M483.7 345.8h1.1M489.7 330.6h1.1M484.2 340.7h1.1M477.6 359.2h1.1M483.3 306.7h1.1M484.2 346.2h1.1M476.8 346.7h1.1M481.2 344.7h1.1M476.7 318.4h1.1M480.4 358.3h1.1M478.3 302.8h1.1M483.8 329.8h1.1M478.5 361.7h1.1M482 334h1.1M482.4 306.8h1.1M484.9 308.5h1.1M480.5 354.3h1.1M481.1 360.2h1.1M479.9 339.8h1.1M480.7 333.5h1.1M489.5 320.5h1.1M474.4 306.6h1.1M483.1 332.2h1.1M478 339.5h1.1M480.4 358.8h1.1M481.5 355.8h1.1M479.3 308.6h1.1M471.5 352.3h1.1M483 313.7h1.1M478.7 342.5h1.1M480.8 342.6h1.1M482.6 360.9h1.1M477.8 291.8h1.1M484.2 360.7h1.1M477.8 320.7h1.1M484.2 350.6h1.1M482.6 361.9h1.1M479.5 303.9h1.1M483.2 307.4h1.1M486.4 355.6h1.1M485.5 319.8h1.1M489.5 301.4h1.1M496.6 332.7h1.1M502.6 339.9h1.1M484 306.6h1.1M484 346h1.1M490.3 325.1h1.1M485.2 333.8h1.1M482 316.9h1.1M489.4 343.6h1.1M482.6 305.9h1.1M489.2 328.2h1.1M494.9 312.3h1.1M492.9 310.7h1.1M483.1 297.2h1.1M485.4 308.2h1.1M482.7 322.9h1.1M484.4 337.7h1.1M491.6 340h1.1M496.8 342.6h1.1M483 306.3h1.1M497.2 304.2h1.1M489.6 346.4h1.1M481.4 298.4h1.1M482.1 328h1.1M488.5 337.8h1.1M489.5 356.5h1.1M481.6 342.9h1.1M496.1 354.7h1.1M488.7 356.5h1.1M507.6 355h1.1M516.1 297.4h1.1M488.4 303.8h1.1M483.5 305.4h1.1M484.6 338.7h1.1M481.6 337.7h1.1M487.7 297.3h1.1M491.6 296.6h1.1M545.4 355.9h1.1M545.3 321.9h1.1M533 351.7h1.1M508.9 374h1.1M525.3 321.6h1.1M524.4 372.6h1.1" stroke="#a3acf0" stroke-width="1.1" fill="none" opacity="0.85" filter="url(#dotb)"/>
<path d="M480.4 356.3h1.1M478.8 354.1h1.1M476.2 353.4h1.1M478.7 361.5h1.1M482.5 361.7h1.1M477.8 364.4h1.1M478.4 351.2h1.1M478.5 356.3h1.1M479 356.6h1.1M480.7 361.2h1.1M478.6 357.6h1.1M479 358h1.1M482.6 362.9h1.1M476.8 345.8h1.1M483.1 359.6h1.1M474.7 357.1h1.1M484.8 365.2h1.1M479.9 354.5h1.1M485.2 355.9h1.1M475.7 365.7h1.1M481.7 353.8h1.1M479.7 360.3h1.1M482 357h1.1M484.2 348.9h1.1M484 362.8h1.1M483.2 361h1.1M474.3 360.6h1.1M480.2 360.4h1.1M475.7 347.3h1.1M475.1 361.1h1.1M479.7 358.4h1.1M479.6 363.5h1.1M480.9 355h1.1M478.3 356.7h1.1M481 351.9h1.1M482.7 360.3h1.1M476.3 362.6h1.1M481.2 363.1h1.1M481.7 358.6h1.1M479.7 362.5h1.1M483.2 352.3h1.1M479 364.5h1.1M486.3 361h1.1M482 362.7h1.1M480.5 358.7h1.1M483.2 361.2h1.1M481.3 363.2h1.1M480.4 357h1.1M476.1 349.6h1.1M478.7 360.4h1.1M481.8 358.1h1.1M485.8 360.8h1.1M477 362.6h1.1M482.5 352.5h1.1" stroke="#1420d0" stroke-width="1.1" fill="none" opacity="0.85" filter="url(#dotb)"/>
<clipPath id="cc16"><rect x="459.7" y="257.3" width="127.5" height="108.9"/></clipPath>
<g clip-path="url(#cc16)"><g filter="url(#b06)">
<ellipse cx="479.2" cy="363.6" rx="4" ry="2.7" fill="#1a2fe6"/>
<ellipse cx="478.4" cy="364.1" rx="2.7" ry="1.9" fill="#1fa2ee"/>
<ellipse cx="477.8" cy="364.4" rx="1.8" ry="1.2" fill="#30dc6c"/>
</g></g>
</g>
<rect x="459.7" y="257.3" width="127.5" height="123.2" fill="none" stroke="#3a3a3a" stroke-width="1"/>
<path d="M489.5 257.3V380.5M459.7 345.3H587.2" stroke="#3a3a3a" stroke-width="0.9" fill="none"/>
<path d="M475.6 380.5v4.4M504.6 380.5v4.4M545.8 380.5v4.4M587.2 380.5v4.4M473.5 380.5v2.6M471.3 380.5v2.6M469.2 380.5v2.6M467 380.5v2.6M464.9 380.5v2.6M462.7 380.5v2.6M460.6 380.5v2.6M477.8 380.5v2.6M479.9 380.5v2.6M482.1 380.5v2.6M484.2 380.5v2.6M486.4 380.5v2.6M488.2 380.5v2.6M492.2 380.5v2.6M495.4 380.5v2.6M498.2 380.5v2.6M500.6 380.5v2.6M502.7 380.5v2.6M517 380.5v2.6M524.2 380.5v2.6M529.4 380.5v2.6M533.4 380.5v2.6M536.6 380.5v2.6M539.4 380.5v2.6M541.8 380.5v2.6M543.9 380.5v2.6M558.2 380.5v2.6M565.4 380.5v2.6M570.6 380.5v2.6M574.5 380.5v2.6M577.8 380.5v2.6M580.6 380.5v2.6M583 380.5v2.6M585.1 380.5v2.6M459.7 362.4h-4.4M459.7 342.3h-4.4M459.7 301.4h-4.4M459.7 257.3h-4.4M459.7 364.5h-2.6M459.7 366.7h-2.6M459.7 368.8h-2.6M459.7 371h-2.6M459.7 373.1h-2.6M459.7 375.3h-2.6M459.7 377.4h-2.6M459.7 379.6h-2.6M459.7 360.2h-2.6M459.7 358.1h-2.6M459.7 355.9h-2.6M459.7 353.8h-2.6M459.7 351.4h-2.6M459.7 348.6h-2.6M459.7 346.3h-2.6M459.7 344.2h-2.6M459.7 330h-2.6M459.7 322.8h-2.6M459.7 317.7h-2.6M459.7 313.7h-2.6M459.7 310.5h-2.6M459.7 307.7h-2.6M459.7 305.4h-2.6M459.7 303.3h-2.6M459.7 289.1h-2.6M459.7 281.9h-2.6M459.7 276.8h-2.6M459.7 272.8h-2.6M459.7 269.6h-2.6M459.7 266.8h-2.6M459.7 264.5h-2.6M459.7 262.4h-2.6" stroke="#3a3a3a" stroke-width="0.75" fill="none"/>
<rect x="461.4" y="260.1" width="46.1" height="6" fill="#fff"/>
<rect x="541.7" y="260.1" width="43.6" height="6" fill="#fff"/>
<rect x="461.4" y="372.1" width="45" height="6" fill="#fff"/>
<rect x="542.8" y="372.1" width="42.5" height="6" fill="#fff"/>
<g filter="url(#soft)">
<text x="475.2" y="391.2" font-size="6.5" text-anchor="middle" fill="#3a3a3a" stroke="#3a3a3a" stroke-width="0.22">0</text>
<text x="505.1" y="391.2" font-size="6.5" text-anchor="middle" fill="#3a3a3a" stroke="#3a3a3a" stroke-width="0.22">10<tspan dy="-2.3" font-size="4.8">4</tspan></text>
<text x="546.3" y="391.2" font-size="6.5" text-anchor="middle" fill="#3a3a3a" stroke="#3a3a3a" stroke-width="0.22">10<tspan dy="-2.3" font-size="4.8">5</tspan></text>
<text x="587.7" y="391.2" font-size="6.5" text-anchor="middle" fill="#3a3a3a" stroke="#3a3a3a" stroke-width="0.22">10<tspan dy="-2.3" font-size="4.8">6</tspan></text>
<text x="522.4" y="398.9" font-size="6.3" text-anchor="middle" fill="#3a3a3a" stroke="#3a3a3a" stroke-width="0.22">CD206 APC-A</text>
<text transform="translate(454.3,362.6) rotate(-90)" font-size="6.5" text-anchor="middle" fill="#3a3a3a" stroke="#3a3a3a" stroke-width="0.22">0</text>
<text transform="translate(454.3,341.1) rotate(-90)" font-size="6.5" text-anchor="middle" fill="#3a3a3a" stroke="#3a3a3a" stroke-width="0.22">10<tspan dy="-2.3" font-size="4.8">4</tspan></text>
<text transform="translate(454.3,300.2) rotate(-90)" font-size="6.5" text-anchor="middle" fill="#3a3a3a" stroke="#3a3a3a" stroke-width="0.22">10<tspan dy="-2.3" font-size="4.8">5</tspan></text>
<text transform="translate(454.3,256.1) rotate(-90)" font-size="6.5" text-anchor="middle" fill="#3a3a3a" stroke="#3a3a3a" stroke-width="0.22">10<tspan dy="-2.3" font-size="4.8">6</tspan></text>
<text transform="translate(446.1,318.5) rotate(-90)" font-size="6.3" text-anchor="middle" fill="#3a3a3a" stroke="#3a3a3a" stroke-width="0.22">CD11c PB450-A</text>
<text x="461.7" y="265.4" font-size="6.5" fill="#3a3a3a" stroke="#3a3a3a" stroke-width="0.22">Q3-UL(17.91%)</text>
<text x="585" y="265.4" font-size="6.5" text-anchor="end" fill="#3a3a3a" stroke="#3a3a3a" stroke-width="0.22">Q3-UR(5.77%)</text>
<text x="461.7" y="377.4" font-size="6.5" fill="#3a3a3a" stroke="#3a3a3a" stroke-width="0.22">Q3-LL(70.98%)</text>
<text x="585" y="377.4" font-size="6.5" text-anchor="end" fill="#3a3a3a" stroke="#3a3a3a" stroke-width="0.22">Q3-LR(5.33%)</text>
</g>
</g>
<g id="panel-b">
<path d="M754 10.3V128H924.3M754 11h-5.3M754 40.4h-5.3M754 69.7h-5.3M754 98.9h-5.3M754 128h-5.3M788 128v5.3M838.6 128v5.3M889.4 128v5.3" fill="none" stroke="#222" stroke-width="1.4"/>
<text x="747.3" y="14.2" font-size="9" font-weight="bold" stroke="#111" stroke-width="0.22" text-anchor="end" fill="#111">8</text>
<text x="747.3" y="43.6" font-size="9" font-weight="bold" stroke="#111" stroke-width="0.22" text-anchor="end" fill="#111">6</text>
<text x="747.3" y="72.9" font-size="9" font-weight="bold" stroke="#111" stroke-width="0.22" text-anchor="end" fill="#111">4</text>
<text x="747.3" y="102.1" font-size="9" font-weight="bold" stroke="#111" stroke-width="0.22" text-anchor="end" fill="#111">2</text>
<text x="747.3" y="131.2" font-size="9" font-weight="bold" stroke="#111" stroke-width="0.22" text-anchor="end" fill="#111">0</text>
<text transform="translate(738.2,70) rotate(-90)" font-size="9.3" font-weight="bold" stroke="#111" stroke-width="0.38" text-anchor="middle" fill="#111">M1/M2 ratio in MLNs</text>
<path d="M788 49.6V75.2M779.4 49.6h17.2M779.4 75.2h17.2" fill="none" stroke="#111" stroke-width="1.15"/>
<path d="M772 71h32" fill="none" stroke="#000" stroke-width="2.5" stroke-linecap="round"/>
<text x="788" y="45.2" font-size="8" font-weight="bold" stroke="#222" stroke-width="0.22" text-anchor="middle" fill="#222">*</text>
<path d="M838.8 114.4V117.4M830.2 114.4h17.2M830.2 117.4h17.2" fill="none" stroke="#111" stroke-width="1.15"/>
<path d="M822.8 115.8h32" fill="none" stroke="#000" stroke-width="2.5" stroke-linecap="round"/>
<path d="M889.7 36.4V67M881.1 36.4h17.2M881.1 67h17.2" fill="none" stroke="#111" stroke-width="1.15"/>
<path d="M873.7 51.8h32" fill="none" stroke="#000" stroke-width="2.5" stroke-linecap="round"/>
<text x="889.7" y="32.2" font-size="8" font-weight="bold" stroke="#222" stroke-width="0.22" text-anchor="middle" fill="#222">*</text>
<text transform="translate(791,141.1) rotate(-45)" font-size="8.9" font-weight="bold" stroke="#111" stroke-width="0.38" text-anchor="end" fill="#111">DSS</text>
<text transform="translate(841.6,141.1) rotate(-45)" font-size="8.9" font-weight="bold" stroke="#111" stroke-width="0.38" text-anchor="end" fill="#111">DSS+miR-31-5P antagomir</text>
<text transform="translate(892.4,141.1) rotate(-45)" font-size="8.9" font-weight="bold" stroke="#111" stroke-width="0.38" text-anchor="end" fill="#111">DSS+NC antagomir</text>
<path d="M754 249.3V367H924.3M754 250h-5.3M754 273.3h-5.3M754 296.8h-5.3M754 320.2h-5.3M754 343.6h-5.3M754 367h-5.3M788 367v5.3M838.6 367v5.3M889.4 367v5.3" fill="none" stroke="#222" stroke-width="1.4"/>
<text x="747.3" y="253.2" font-size="9" font-weight="bold" stroke="#111" stroke-width="0.22" text-anchor="end" fill="#111">5</text>
<text x="747.3" y="276.5" font-size="9" font-weight="bold" stroke="#111" stroke-width="0.22" text-anchor="end" fill="#111">4</text>
<text x="747.3" y="300" font-size="9" font-weight="bold" stroke="#111" stroke-width="0.22" text-anchor="end" fill="#111">3</text>
<text x="747.3" y="323.4" font-size="9" font-weight="bold" stroke="#111" stroke-width="0.22" text-anchor="end" fill="#111">2</text>
<text x="747.3" y="346.8" font-size="9" font-weight="bold" stroke="#111" stroke-width="0.22" text-anchor="end" fill="#111">1</text>
<text x="747.3" y="370.2" font-size="9" font-weight="bold" stroke="#111" stroke-width="0.22" text-anchor="end" fill="#111">0</text>
<text transform="translate(738.2,308) rotate(-90)" font-size="9.3" font-weight="bold" stroke="#111" stroke-width="0.38" text-anchor="middle" fill="#111">M1/M2 ratio in Spleen</text>
<path d="M788 255.8V287.4M779.4 255.8h17.2M779.4 287.4h17.2" fill="none" stroke="#111" stroke-width="1.15"/>
<path d="M772 282.6h32" fill="none" stroke="#000" stroke-width="2.5" stroke-linecap="round"/>
<text x="788" y="251.8" font-size="8" font-weight="bold" stroke="#222" stroke-width="0.22" text-anchor="middle" fill="#222">*</text>
<path d="M838.8 330.8V343M830.2 330.8h17.2M830.2 343h17.2" fill="none" stroke="#111" stroke-width="1.15"/>
<path d="M822.8 332.8h32" fill="none" stroke="#000" stroke-width="2.5" stroke-linecap="round"/>
<path d="M889.7 255.8V288.4M881.1 255.8h17.2M881.1 288.4h17.2" fill="none" stroke="#111" stroke-width="1.15"/>
<path d="M873.7 269h32" fill="none" stroke="#000" stroke-width="2.5" stroke-linecap="round"/>
<text x="889.7" y="251.8" font-size="8" font-weight="bold" stroke="#222" stroke-width="0.22" text-anchor="middle" fill="#222">*</text>
<text transform="translate(791,380.1) rotate(-45)" font-size="8.9" font-weight="bold" stroke="#111" stroke-width="0.38" text-anchor="end" fill="#111">DSS</text>
<text transform="translate(841.6,380.1) rotate(-45)" font-size="8.9" font-weight="bold" stroke="#111" stroke-width="0.38" text-anchor="end" fill="#111">DSS+miR-31-5P antagomir</text>
<text transform="translate(892.4,380.1) rotate(-45)" font-size="8.9" font-weight="bold" stroke="#111" stroke-width="0.38" text-anchor="end" fill="#111">DSS+NC antagomir</text>
</g>
<defs>
<filter id="wb" x="-30%" y="-100%" width="160%" height="300%"><feGaussianBlur stdDeviation="2.6 1.8"/></filter>
<filter id="wb2" x="-30%" y="-100%" width="160%" height="300%"><feGaussianBlur stdDeviation="2.8 1.3"/></filter>
<filter id="wb3" x="-30%" y="-100%" width="160%" height="300%"><feGaussianBlur stdDeviation="3.6 2.8"/></filter>
<linearGradient id="wbg1" x1="0" x2="1" y1="0" y2="0"><stop offset="0" stop-color="#a0a0a0"/><stop offset="0.12" stop-color="#a6a6a6"/><stop offset="0.6" stop-color="#aaaaaa"/><stop offset="1" stop-color="#a5a5a5"/></linearGradient>
<linearGradient id="wbg2" x1="0" x2="1" y1="0" y2="0"><stop offset="0" stop-color="#989898"/><stop offset="0.12" stop-color="#9d9d9d"/><stop offset="0.6" stop-color="#a1a1a1"/><stop offset="1" stop-color="#9b9b9b"/></linearGradient>
<linearGradient id="wbg3" x1="0" x2="1" y1="0" y2="0"><stop offset="0" stop-color="#9b9b9b"/><stop offset="0.12" stop-color="#a0a0a0"/><stop offset="0.6" stop-color="#a3a3a3"/><stop offset="1" stop-color="#9d9d9d"/></linearGradient>
<linearGradient id="wbg4" x1="0" x2="1" y1="0" y2="0"><stop offset="0" stop-color="#9a9a9a"/><stop offset="0.12" stop-color="#9f9f9f"/><stop offset="0.6" stop-color="#a2a2a2"/><stop offset="1" stop-color="#9c9c9c"/></linearGradient>
<linearGradient id="wbg5" x1="0" x2="1" y1="0" y2="0"><stop offset="0" stop-color="#a0a0a0"/><stop offset="0.12" stop-color="#a6a6a6"/><stop offset="0.6" stop-color="#aaaaaa"/><stop offset="1" stop-color="#a6a6a6"/></linearGradient>
</defs>
<g id="panel-c">
<text transform="translate(246.1,646.8) rotate(-38.8)" font-size="17" fill="#111" stroke="#111" stroke-width="0.45" textLength="65" lengthAdjust="spacingAndGlyphs">Normal</text>
<text transform="translate(314.6,647.2) rotate(-39.5)" font-size="17" fill="#111" stroke="#111" stroke-width="0.45" textLength="35.4" lengthAdjust="spacingAndGlyphs">DSS</text>
<text transform="translate(369.3,647.8) rotate(-39.7)" font-size="17" fill="#111" stroke="#111" stroke-width="0.45" textLength="232.2" lengthAdjust="spacingAndGlyphs">DSS+miR-31-5p antagomir</text>
<text transform="translate(431.8,647.8) rotate(-40.2)" font-size="17" fill="#111" stroke="#111" stroke-width="0.45" textLength="165.1" lengthAdjust="spacingAndGlyphs">DSS+NC antagomir</text>
<text transform="translate(495.1,647.8) rotate(-40.1)" font-size="17" fill="#111" stroke="#111" stroke-width="0.45" textLength="156.2" lengthAdjust="spacingAndGlyphs">DSS+Dexathasone</text>
<text x="44.6" y="691.3" font-size="20.6" fill="#111" stroke="#111" stroke-width="0.3" textLength="73.1" lengthAdjust="spacingAndGlyphs">NOX2</text>
<text x="34.6" y="760" font-size="20.6" fill="#111" stroke="#111" stroke-width="0.3" textLength="93.5" lengthAdjust="spacingAndGlyphs">HADHB</text>
<text x="48.9" y="834.6" font-size="20.6" fill="#111" stroke="#111" stroke-width="0.3" textLength="64.2" lengthAdjust="spacingAndGlyphs">iNOS</text>
<text x="52.9" y="904.7" font-size="20.6" fill="#111" stroke="#111" stroke-width="0.3" textLength="55.8" lengthAdjust="spacingAndGlyphs">Arg1</text>
<text x="41.3" y="978.3" font-size="20.6" fill="#111" stroke="#111" stroke-width="0.3" textLength="80.8" lengthAdjust="spacingAndGlyphs">β-actin</text>
<text x="566" y="688.6" font-size="16.5" fill="#111" stroke="#111" stroke-width="0.3" textLength="53.8" lengthAdjust="spacingAndGlyphs">65KD</text>
<text x="566" y="760" font-size="16.5" fill="#111" stroke="#111" stroke-width="0.3" textLength="53.8" lengthAdjust="spacingAndGlyphs">51KD</text>
<text x="561" y="828" font-size="16.5" fill="#111" stroke="#111" stroke-width="0.3" textLength="62.7" lengthAdjust="spacingAndGlyphs">131KD</text>
<text x="566" y="899.7" font-size="16.5" fill="#111" stroke="#111" stroke-width="0.3" textLength="53.8" lengthAdjust="spacingAndGlyphs">40KD</text>
<text x="566" y="978.4" font-size="16.5" fill="#111" stroke="#111" stroke-width="0.3" textLength="53.8" lengthAdjust="spacingAndGlyphs">42KD</text>
<text x="149.8" y="678.2" font-size="10.8" fill="#222" stroke="#222" stroke-width="0.2" textLength="17.1" lengthAdjust="spacingAndGlyphs">72</text>
<text x="149.8" y="697.9" font-size="10.8" fill="#222" stroke="#222" stroke-width="0.2" textLength="17.1" lengthAdjust="spacingAndGlyphs">55</text>
<text x="149.8" y="737.9" font-size="10.8" fill="#222" stroke="#222" stroke-width="0.2" textLength="17.1" lengthAdjust="spacingAndGlyphs">72</text>
<text x="149.8" y="757.2" font-size="10.8" fill="#222" stroke="#222" stroke-width="0.2" textLength="17.1" lengthAdjust="spacingAndGlyphs">55</text>
<text x="149.8" y="777.2" font-size="10.8" fill="#222" stroke="#222" stroke-width="0.2" textLength="17.1" lengthAdjust="spacingAndGlyphs">43</text>
<text x="149.8" y="883.9" font-size="10.8" fill="#222" stroke="#222" stroke-width="0.2" textLength="17.1" lengthAdjust="spacingAndGlyphs">55</text>
<text x="149.8" y="899.9" font-size="10.8" fill="#222" stroke="#222" stroke-width="0.2" textLength="17.1" lengthAdjust="spacingAndGlyphs">43</text>
<text x="149.8" y="924.6" font-size="10.8" fill="#222" stroke="#222" stroke-width="0.2" textLength="17.1" lengthAdjust="spacingAndGlyphs">34</text>
<text x="149.8" y="959.9" font-size="10.8" fill="#222" stroke="#222" stroke-width="0.2" textLength="17.1" lengthAdjust="spacingAndGlyphs">55</text>
<text x="149.8" y="975.6" font-size="10.8" fill="#222" stroke="#222" stroke-width="0.2" textLength="17.1" lengthAdjust="spacingAndGlyphs">43</text>
<text x="149.8" y="992.9" font-size="10.8" fill="#222" stroke="#222" stroke-width="0.2" textLength="17.1" lengthAdjust="spacingAndGlyphs">34</text>
<text x="144.8" y="815.6" font-size="10.8" fill="#222" stroke="#222" stroke-width="0.2" textLength="27.1" lengthAdjust="spacingAndGlyphs">180</text>
<text x="144.8" y="834.9" font-size="10.8" fill="#222" stroke="#222" stroke-width="0.2" textLength="27.1" lengthAdjust="spacingAndGlyphs">130</text>
<clipPath id="cb1"><rect x="175.6" y="658.2" width="368.8" height="48.4"/></clipPath>
<g clip-path="url(#cb1)">
<rect x="174.6" y="657.2" width="370.8" height="50.4" fill="url(#wbg1)"/>
<rect x="178" y="674" width="40" height="2.5" rx="1.2" fill="#0a0a0a" opacity="0.2" filter="url(#wb)"/>
<rect x="203" y="673" width="14" height="4" rx="2" fill="#0a0a0a" opacity="0.4" filter="url(#wb)"/>
<rect x="178" y="696.2" width="37" height="2.2" rx="1.1" fill="#0a0a0a" opacity="0.16" filter="url(#wb)"/>
<rect x="236" y="681.9" width="44" height="3.4" rx="1.7" fill="#0a0a0a" opacity="0.26" filter="url(#wb)"/>
<rect x="238" y="681" width="13" height="4.5" rx="2.2" fill="#0a0a0a" opacity="0.34" filter="url(#wb)"/>
<rect x="267" y="681" width="12" height="4.5" rx="2.2" fill="#0a0a0a" opacity="0.3" filter="url(#wb)"/>
<rect x="295" y="676.5" width="52" height="10.5" rx="5.2" fill="#0a0a0a" opacity="1" filter="url(#wb)"/>
<rect x="300" y="678.2" width="42" height="7" rx="3.5" fill="#0a0a0a" opacity="1" filter="url(#wb)"/>
<rect x="301" y="695.1" width="36" height="3.4" rx="1.7" fill="#0a0a0a" opacity="0.36" filter="url(#wb)"/>
<rect x="363" y="680.6" width="45" height="4.5" rx="2.2" fill="#0a0a0a" opacity="0.55" filter="url(#wb)"/>
<rect x="364" y="680.4" width="16" height="5" rx="2.5" fill="#0a0a0a" opacity="0.4" filter="url(#wb)"/>
<rect x="393" y="680.4" width="14" height="5" rx="2.5" fill="#0a0a0a" opacity="0.45" filter="url(#wb)"/>
<rect x="424" y="676.5" width="52" height="10.5" rx="5.2" fill="#0a0a0a" opacity="1" filter="url(#wb)"/>
<rect x="429" y="678.2" width="42" height="7" rx="3.5" fill="#0a0a0a" opacity="1" filter="url(#wb)"/>
<rect x="430" y="695.2" width="40" height="2.5" rx="1.2" fill="#0a0a0a" opacity="0.1" filter="url(#wb)"/>
<rect x="488" y="679" width="48" height="5.5" rx="2.8" fill="#0a0a0a" opacity="0.78" filter="url(#wb)"/>
<rect x="490" y="679.7" width="30" height="4" rx="2" fill="#0a0a0a" opacity="0.4" filter="url(#wb)"/>
<path d="M175.6 658.6H544.4" stroke="#808080" stroke-width="0.7" opacity="0.7"/>
</g>
<clipPath id="cb2"><rect x="175.6" y="730.1" width="368.8" height="49.2"/></clipPath>
<g clip-path="url(#cb2)">
<rect x="174.6" y="729.1" width="370.8" height="51.2" fill="url(#wbg2)"/>
<rect x="177" y="734.7" width="43" height="3.4" rx="1.7" fill="#0a0a0a" opacity="0.16" filter="url(#wb)"/>
<rect x="208" y="734.4" width="12" height="4" rx="2" fill="#0a0a0a" opacity="0.16" filter="url(#wb)"/>
<rect x="177" y="754" width="43" height="4.5" rx="2.2" fill="#0a0a0a" opacity="0.36" filter="url(#wb)"/>
<rect x="206" y="753.7" width="15" height="5" rx="2.5" fill="#0a0a0a" opacity="0.3" filter="url(#wb)"/>
<rect x="178" y="753.7" width="14" height="5" rx="2.5" fill="#0a0a0a" opacity="0.15" filter="url(#wb)"/>
<rect x="177" y="772.8" width="43" height="4" rx="2" fill="#0a0a0a" opacity="0.17" filter="url(#wb)"/>
<rect x="208" y="772.4" width="13" height="4.5" rx="2.2" fill="#0a0a0a" opacity="0.16" filter="url(#wb)"/>
<rect x="247" y="750.3" width="46" height="8" rx="4" fill="#0a0a0a" opacity="1" filter="url(#wb)"/>
<rect x="250" y="751.5" width="40" height="5.5" rx="2.8" fill="#0a0a0a" opacity="1" filter="url(#wb)"/>
<rect x="247" y="725" width="46" height="7" rx="3.5" fill="#0a0a0a" opacity="0.95" filter="url(#wb)"/>
<rect x="248" y="730.5" width="44" height="13" rx="6.5" fill="#0a0a0a" opacity="0.62" filter="url(#wb3)"/>
<rect x="312" y="754.4" width="40" height="2.5" rx="1.2" fill="#0a0a0a" opacity="0.22" filter="url(#wb)"/>
<rect x="314" y="754.1" width="12" height="3" rx="1.5" fill="#0a0a0a" opacity="0.2" filter="url(#wb)"/>
<rect x="372" y="751" width="42" height="5.5" rx="2.8" fill="#0a0a0a" opacity="0.95" filter="url(#wb)"/>
<rect x="375" y="752" width="37" height="3.5" rx="1.8" fill="#0a0a0a" opacity="0.6" filter="url(#wb)"/>
<rect x="372" y="732.5" width="42" height="7" rx="3.5" fill="#0a0a0a" opacity="0.32" filter="url(#wb3)"/>
<rect x="372" y="727" width="42" height="4" rx="2" fill="#0a0a0a" opacity="0.25" filter="url(#wb)"/>
<rect x="433" y="754.4" width="39" height="2.5" rx="1.2" fill="#0a0a0a" opacity="0.2" filter="url(#wb)"/>
<rect x="436" y="754.1" width="12" height="3" rx="1.5" fill="#0a0a0a" opacity="0.15" filter="url(#wb)"/>
<rect x="492" y="755" width="39" height="4" rx="2" fill="#0a0a0a" opacity="0.75" filter="url(#wb)"/>
<rect x="494" y="755" width="18" height="3.5" rx="1.8" fill="#0a0a0a" opacity="0.4" filter="url(#wb)"/>
<rect x="490" y="727" width="42" height="5" rx="2.5" fill="#0a0a0a" opacity="0.7" filter="url(#wb)"/>
<rect x="490" y="737" width="42" height="6" rx="3" fill="#0a0a0a" opacity="0.22" filter="url(#wb3)"/>
<path d="M175.6 730.5H544.4" stroke="#808080" stroke-width="0.7" opacity="0.7"/>
</g>
<clipPath id="cb3"><rect x="175.6" y="803.2" width="368.8" height="46.6"/></clipPath>
<g clip-path="url(#cb3)">
<rect x="174.6" y="802.2" width="370.8" height="48.6" fill="url(#wbg3)"/>
<rect x="170" y="826.8" width="20" height="3.6" rx="1.8" fill="#0a0a0a" opacity="1" filter="url(#wb2)"/>
<rect x="172" y="827.3" width="15" height="2.6" rx="1.3" fill="#0a0a0a" opacity="0.8" filter="url(#wb2)"/>
<rect x="203" y="827" width="16" height="3.6" rx="1.8" fill="#0a0a0a" opacity="1" filter="url(#wb2)"/>
<rect x="205" y="827.6" width="12" height="2.4" rx="1.2" fill="#0a0a0a" opacity="0.7" filter="url(#wb2)"/>
<rect x="185" y="827.8" width="23" height="1.8" rx="0.9" fill="#0a0a0a" opacity="0.75" filter="url(#wb2)"/>
<rect x="170" y="846" width="18" height="3.6" rx="1.8" fill="#0a0a0a" opacity="0.8" filter="url(#wb2)"/>
<rect x="204" y="846.2" width="13" height="3.2" rx="1.6" fill="#0a0a0a" opacity="0.5" filter="url(#wb2)"/>
<rect x="186" y="847.2" width="20" height="1.6" rx="0.8" fill="#0a0a0a" opacity="0.3" filter="url(#wb2)"/>
<rect x="178" y="806" width="38" height="2" rx="1" fill="#0a0a0a" opacity="0.1" filter="url(#wb)"/>
<rect x="240" y="824.8" width="40" height="2" rx="1" fill="#0a0a0a" opacity="0.22" filter="url(#wb2)"/>
<rect x="298" y="823.5" width="48" height="4.2" rx="2.1" fill="#0a0a0a" opacity="0.9" filter="url(#wb2)"/>
<rect x="304" y="824.4" width="40" height="2.5" rx="1.2" fill="#0a0a0a" opacity="0.45" filter="url(#wb2)"/>
<rect x="363" y="824.6" width="43" height="2.4" rx="1.2" fill="#0a0a0a" opacity="0.36" filter="url(#wb2)"/>
<rect x="424" y="823.5" width="49" height="4.2" rx="2.1" fill="#0a0a0a" opacity="0.9" filter="url(#wb2)"/>
<rect x="428" y="824.4" width="42" height="2.5" rx="1.2" fill="#0a0a0a" opacity="0.45" filter="url(#wb2)"/>
<rect x="486" y="823" width="45" height="3.3" rx="1.6" fill="#0a0a0a" opacity="0.85" filter="url(#wb2)" transform="rotate(-2.4 508.5 824.6)"/>
<rect x="505" y="822.3" width="25" height="3" rx="1.5" fill="#0a0a0a" opacity="0.5" filter="url(#wb2)" transform="rotate(-2.4 517.5 823.8)"/>
<path d="M175.6 803.6H544.4" stroke="#808080" stroke-width="0.7" opacity="0.7"/>
</g>
<clipPath id="cb4"><rect x="175.6" y="874.4" width="368.8" height="49.9"/></clipPath>
<g clip-path="url(#cb4)">
<rect x="174.6" y="873.4" width="370.8" height="51.9" fill="url(#wbg4)"/>
<rect x="178" y="894.8" width="33" height="3" rx="1.5" fill="#0a0a0a" opacity="0.24" filter="url(#wb)"/>
<rect x="198" y="894.8" width="12" height="3" rx="1.5" fill="#0a0a0a" opacity="0.2" filter="url(#wb)"/>
<rect x="178" y="916.1" width="30" height="2.2" rx="1.1" fill="#0a0a0a" opacity="0.2" filter="url(#wb)"/>
<rect x="227" y="900" width="56" height="6" rx="3" fill="#0a0a0a" opacity="1" filter="url(#wb)"/>
<rect x="232" y="901" width="47" height="4" rx="2" fill="#0a0a0a" opacity="0.9" filter="url(#wb)"/>
<rect x="299" y="901.5" width="40" height="3" rx="1.5" fill="#0a0a0a" opacity="0.34" filter="url(#wb)"/>
<rect x="300" y="901.2" width="14" height="3.5" rx="1.8" fill="#0a0a0a" opacity="0.25" filter="url(#wb)"/>
<rect x="357" y="899.6" width="49" height="5.6" rx="2.8" fill="#0a0a0a" opacity="1" filter="url(#wb)"/>
<rect x="360" y="901" width="36" height="3.6" rx="1.8" fill="#0a0a0a" opacity="0.8" filter="url(#wb)"/>
<rect x="424" y="901.5" width="42" height="3" rx="1.5" fill="#0a0a0a" opacity="0.3" filter="url(#wb)"/>
<rect x="425" y="901.2" width="13" height="3.5" rx="1.8" fill="#0a0a0a" opacity="0.25" filter="url(#wb)"/>
<rect x="452" y="901.2" width="13" height="3.5" rx="1.8" fill="#0a0a0a" opacity="0.2" filter="url(#wb)"/>
<rect x="482" y="900.5" width="49" height="4.2" rx="2.1" fill="#0a0a0a" opacity="0.6" filter="url(#wb)"/>
<rect x="483" y="899.9" width="20" height="5" rx="2.5" fill="#0a0a0a" opacity="0.7" filter="url(#wb)"/>
<rect x="514" y="900.8" width="16" height="4" rx="2" fill="#0a0a0a" opacity="0.3" filter="url(#wb)"/>
<path d="M175.6 874.8H544.4" stroke="#808080" stroke-width="0.7" opacity="0.7"/>
</g>
<clipPath id="cb5"><rect x="175.6" y="947" width="368.8" height="49.2"/></clipPath>
<g clip-path="url(#cb5)">
<rect x="174.6" y="946" width="370.8" height="51.2" fill="url(#wbg5)"/>
<rect x="212" y="954.5" width="12" height="3" rx="1.5" fill="#0a0a0a" opacity="0.2" filter="url(#wb)"/>
<rect x="178" y="968.6" width="44" height="2" rx="1" fill="#0a0a0a" opacity="0.15" filter="url(#wb)"/>
<rect x="211" y="966.9" width="15" height="5" rx="2.5" fill="#0a0a0a" opacity="0.95" filter="url(#wb)"/>
<rect x="179" y="986.9" width="47" height="2.6" rx="1.3" fill="#0a0a0a" opacity="0.4" filter="url(#wb)"/>
<rect x="208" y="985.8" width="18" height="4.5" rx="2.2" fill="#0a0a0a" opacity="0.7" filter="url(#wb)"/>
<rect x="240" y="965.5" width="52" height="11" rx="5.5" fill="#0a0a0a" opacity="1" filter="url(#wb)"/>
<rect x="243" y="966.5" width="46" height="9" rx="4.5" fill="#0a0a0a" opacity="1" filter="url(#wb)"/>
<rect x="303" y="967.5" width="52" height="9.5" rx="4.8" fill="#0a0a0a" opacity="1" filter="url(#wb)"/>
<rect x="306" y="968.5" width="46" height="7.5" rx="3.8" fill="#0a0a0a" opacity="1" filter="url(#wb)"/>
<rect x="365" y="968.3" width="50" height="9" rx="4.5" fill="#0a0a0a" opacity="1" filter="url(#wb)"/>
<rect x="368" y="969.3" width="44" height="7" rx="3.5" fill="#0a0a0a" opacity="1" filter="url(#wb)"/>
<rect x="426" y="967.5" width="51" height="9.5" rx="4.8" fill="#0a0a0a" opacity="1" filter="url(#wb)"/>
<rect x="429" y="968.5" width="45" height="7.5" rx="3.8" fill="#0a0a0a" opacity="1" filter="url(#wb)"/>
<rect x="486" y="964.4" width="51" height="10.5" rx="5.2" fill="#0a0a0a" opacity="1" filter="url(#wb)"/>
<rect x="489" y="965.4" width="45" height="8.5" rx="4.2" fill="#0a0a0a" opacity="1" filter="url(#wb)"/>
<path d="M175.6 947.4H544.4" stroke="#808080" stroke-width="0.7" opacity="0.7"/>
</g>
</g>
<g id="panel-d">
<path d="M769.8 552V697H962.5M769.8 552.8h-5.3M769.8 589h-5.3M769.8 625h-5.3M769.8 661h-5.3M769.8 697h-5.3M793.8 697v5.3M830 697v5.3M866 697v5.3M902.2 697v5.3M938.2 697v5.3" fill="none" stroke="#222" stroke-width="1.4"/>
<text x="763.1" y="556.1" font-size="9.5" font-weight="bold" stroke="#111" stroke-width="0.22" text-anchor="end" fill="#111">8</text>
<text x="763.1" y="592.4" font-size="9.5" font-weight="bold" stroke="#111" stroke-width="0.22" text-anchor="end" fill="#111">6</text>
<text x="763.1" y="628.4" font-size="9.5" font-weight="bold" stroke="#111" stroke-width="0.22" text-anchor="end" fill="#111">4</text>
<text x="763.1" y="664.4" font-size="9.5" font-weight="bold" stroke="#111" stroke-width="0.22" text-anchor="end" fill="#111">2</text>
<text x="763.1" y="700.4" font-size="9.5" font-weight="bold" stroke="#111" stroke-width="0.22" text-anchor="end" fill="#111">0</text>
<path d="M793.8 679.2V677.2M788.2 677.2h11.1" fill="none" stroke="#333333" stroke-width="0.9"/>
<rect x="782.6" y="679.9" width="22.3" height="17.1" fill="#000000" stroke="#000000" stroke-width="1.3"/>
<path d="M830 599V589.5M824.5 589.5h11.1" fill="none" stroke="#d9a468" stroke-width="0.9"/>
<rect x="818.9" y="599.6" width="22.3" height="97.3" fill="#e9a85f" stroke="#5a4326" stroke-width="1.3"/>
<path d="M866 675V667.8M860.5 667.8h11.1" fill="none" stroke="#8aa6cf" stroke-width="0.9"/>
<rect x="854.9" y="675.6" width="22.3" height="21.4" fill="#9fb8da" stroke="#31558f" stroke-width="1.3"/>
<path d="M902.2 601.8V595.5M896.7 595.5h11.1" fill="none" stroke="#e08c88" stroke-width="0.9"/>
<rect x="891.1" y="602.4" width="22.3" height="94.6" fill="#e98f8b" stroke="#c9363a" stroke-width="1.3"/>
<path d="M938.2 659.5V657.5M932.7 657.5h11.1" fill="none" stroke="#bcbcbc" stroke-width="0.9"/>
<rect x="927.1" y="660.1" width="22.3" height="36.9" fill="#c1c3c6" stroke="#8f8f8f" stroke-width="1.3"/>
<text x="793.8" y="672.5" font-size="9" font-weight="bold" stroke="#222" stroke-width="0.22" text-anchor="middle" fill="#222">*</text>
<text x="866" y="663.2" font-size="9" font-weight="bold" stroke="#222" stroke-width="0.22" text-anchor="middle" fill="#222">**</text>
<text x="902.2" y="589.2" font-size="9.8" font-weight="bold" stroke="#111" stroke-width="0.22" text-anchor="middle" fill="#111">ns</text>
<text x="938.2" y="652" font-size="9" font-weight="bold" stroke="#222" stroke-width="0.22" text-anchor="middle" fill="#222">*</text>
<path d="M769.75 697H962.5" stroke="#222" stroke-width="1.4"/>
<text transform="translate(741,624.4) rotate(-90)" font-size="9.6" font-weight="bold" stroke="#111" stroke-width="0.38" text-anchor="middle" fill="#111">Relative NOS2 mRNA expression in vivo</text>
<text transform="translate(753.8,625.8) rotate(-90)" font-size="10.1" font-weight="bold" stroke="#111" stroke-width="0.38" text-anchor="middle" fill="#111"><tspan font-weight="normal" stroke="none" fill="#333">（</tspan> flod to DSS group <tspan font-weight="normal" stroke="none" fill="#333">）</tspan></text>
<text transform="translate(796.8,710.5) rotate(-45)" font-size="8.9" font-weight="bold" stroke="#111" stroke-width="0.38" text-anchor="end" fill="#111">Normal</text>
<text transform="translate(833,710.5) rotate(-45)" font-size="8.9" font-weight="bold" stroke="#111" stroke-width="0.38" text-anchor="end" fill="#111">DSS</text>
<text transform="translate(869,710.5) rotate(-45)" font-size="8.9" font-weight="bold" stroke="#111" stroke-width="0.38" text-anchor="end" fill="#111">DSS+miR-31-5p antagomir</text>
<text transform="translate(905.2,710.5) rotate(-45)" font-size="8.9" font-weight="bold" stroke="#111" stroke-width="0.38" text-anchor="end" fill="#111">DSS+NC antagomir</text>
<text transform="translate(941.2,710.5) rotate(-45)" font-size="8.9" font-weight="bold" stroke="#111" stroke-width="0.38" text-anchor="end" fill="#111">DSS+Dexamethasone</text>
<path d="M776.2 821.8V968.2H962.5M776.2 822.5h-5.3M776.2 871.5h-5.3M776.2 920h-5.3M776.2 968.2h-5.3M799.4 968.2v5.3M834.4 968.2v5.3M869.2 968.2v5.3M904.2 968.2v5.3M939.2 968.2v5.3" fill="none" stroke="#222" stroke-width="1.4"/>
<text x="769.6" y="825.9" font-size="9.5" font-weight="bold" stroke="#111" stroke-width="0.22" text-anchor="end" fill="#111">1.5</text>
<text x="769.6" y="874.9" font-size="9.5" font-weight="bold" stroke="#111" stroke-width="0.22" text-anchor="end" fill="#111">1.0</text>
<text x="769.6" y="923.4" font-size="9.5" font-weight="bold" stroke="#111" stroke-width="0.22" text-anchor="end" fill="#111">0.5</text>
<text x="769.6" y="971.6" font-size="9.5" font-weight="bold" stroke="#111" stroke-width="0.22" text-anchor="end" fill="#111">0.0</text>
<path d="M799.4 865.8V855.8M794.1 855.8h10.6" fill="none" stroke="#333333" stroke-width="0.9"/>
<rect x="788.8" y="866.4" width="21.3" height="101.8" fill="#000000" stroke="#000000" stroke-width="1.3"/>
<path d="M834.4 949.2V947.5M829.1 947.5h10.6" fill="none" stroke="#d9a468" stroke-width="0.9"/>
<rect x="823.8" y="949.9" width="21.3" height="18.4" fill="#e9a85f" stroke="#5a4326" stroke-width="1.3"/>
<path d="M869.2 913.8V909.2M863.9 909.2h10.6" fill="none" stroke="#8aa6cf" stroke-width="0.9"/>
<rect x="858.6" y="914.4" width="21.3" height="53.9" fill="#9fb8da" stroke="#31558f" stroke-width="1.3"/>
<path d="M904.2 949.2V947.2M898.9 947.2h10.6" fill="none" stroke="#e08c88" stroke-width="0.9"/>
<rect x="893.6" y="949.9" width="21.3" height="18.4" fill="#e98f8b" stroke="#c9363a" stroke-width="1.3"/>
<path d="M939.2 938.2V935.2M933.9 935.2h10.6" fill="none" stroke="#bcbcbc" stroke-width="0.9"/>
<rect x="928.6" y="938.9" width="21.3" height="29.4" fill="#c1c3c6" stroke="#8f8f8f" stroke-width="1.3"/>
<text x="799.4" y="852.5" font-size="9" font-weight="bold" stroke="#222" stroke-width="0.22" text-anchor="middle" fill="#222">*</text>
<text x="869.2" y="905.2" font-size="9" font-weight="bold" stroke="#222" stroke-width="0.22" text-anchor="middle" fill="#222">*</text>
<text x="904.2" y="939.4" font-size="9.8" font-weight="bold" stroke="#111" stroke-width="0.22" text-anchor="middle" fill="#111">ns</text>
<text x="939.2" y="931" font-size="9" font-weight="bold" stroke="#222" stroke-width="0.22" text-anchor="middle" fill="#222">*</text>
<path d="M776.25 968.25H962.5" stroke="#222" stroke-width="1.4"/>
<text transform="translate(741,895.4) rotate(-90)" font-size="9.6" font-weight="bold" stroke="#111" stroke-width="0.38" text-anchor="middle" fill="#111">Relative Arg1 mRNA expression in vivo</text>
<text transform="translate(753.8,896.7) rotate(-90)" font-size="10.1" font-weight="bold" stroke="#111" stroke-width="0.38" text-anchor="middle" fill="#111"><tspan font-weight="normal" stroke="none" fill="#333">（</tspan> flod to DSS group <tspan font-weight="normal" stroke="none" fill="#333">）</tspan></text>
<text transform="translate(802.4,982.5) rotate(-45)" font-size="8.9" font-weight="bold" stroke="#111" stroke-width="0.38" text-anchor="end" fill="#111">Normal</text>
<text transform="translate(837.4,982.5) rotate(-45)" font-size="8.9" font-weight="bold" stroke="#111" stroke-width="0.38" text-anchor="end" fill="#111">DSS</text>
<text transform="translate(872.2,982.5) rotate(-45)" font-size="8.9" font-weight="bold" stroke="#111" stroke-width="0.38" text-anchor="end" fill="#111">DSS+miR-31-5p antagomir</text>
<text transform="translate(907.2,982.5) rotate(-45)" font-size="8.9" font-weight="bold" stroke="#111" stroke-width="0.38" text-anchor="end" fill="#111">DSS+NC antagomir</text>
<text transform="translate(942.2,982.5) rotate(-45)" font-size="8.9" font-weight="bold" stroke="#111" stroke-width="0.38" text-anchor="end" fill="#111">DSS+Dexamethasone</text>
</g>
<g id="panel-e">
<path d="M69.2 1144.4V1282.8H255.2M69.2 1145h-5.6M69.2 1172.5h-5.6M69.2 1200h-5.6M69.2 1227.5h-5.6M69.2 1255h-5.6M69.2 1282.8h-5.6M92.4 1282.8v5.6M127.2 1282.8v5.6M162 1282.8v5.6M196.9 1282.8v5.6M231.6 1282.8v5.6" fill="none" stroke="#222" stroke-width="1.2"/>
<text x="61.4" y="1148.5" font-size="10" font-weight="bold" stroke="#111" stroke-width="0.22" text-anchor="end" fill="#111">1.0</text>
<text x="61.4" y="1176" font-size="10" font-weight="bold" stroke="#111" stroke-width="0.22" text-anchor="end" fill="#111">0.8</text>
<text x="61.4" y="1203.5" font-size="10" font-weight="bold" stroke="#111" stroke-width="0.22" text-anchor="end" fill="#111">0.6</text>
<text x="61.4" y="1231" font-size="10" font-weight="bold" stroke="#111" stroke-width="0.22" text-anchor="end" fill="#111">0.4</text>
<text x="61.4" y="1258.5" font-size="10" font-weight="bold" stroke="#111" stroke-width="0.22" text-anchor="end" fill="#111">0.2</text>
<text x="61.4" y="1286.3" font-size="10" font-weight="bold" stroke="#111" stroke-width="0.22" text-anchor="end" fill="#111">0.0</text>
<path d="M92.4 1272.5V1271.5M87.1 1271.5h10.5" fill="none" stroke="#333333" stroke-width="0.9"/>
<rect x="81.9" y="1273.2" width="21.1" height="9.6" fill="#000000" stroke="#000000" stroke-width="1.3"/>
<path d="M127.2 1181.5V1173.5M122 1173.5h10.5" fill="none" stroke="#d9a468" stroke-width="0.9"/>
<rect x="116.7" y="1182.2" width="21.1" height="100.6" fill="#e9a85f" stroke="#5a4326" stroke-width="1.3"/>
<path d="M162 1265.8V1263.8M156.7 1263.8h10.5" fill="none" stroke="#8aa6cf" stroke-width="0.9"/>
<rect x="151.5" y="1266.4" width="21.1" height="16.4" fill="#9fb8da" stroke="#31558f" stroke-width="1.3"/>
<path d="M196.9 1187.5V1176.8M191.6 1176.8h10.5" fill="none" stroke="#e08c88" stroke-width="0.9"/>
<rect x="186.4" y="1188.2" width="21.1" height="94.6" fill="#e98f8b" stroke="#c9363a" stroke-width="1.3"/>
<path d="M231.6 1250V1247.5M226.3 1247.5h10.5" fill="none" stroke="#bcbcbc" stroke-width="0.9"/>
<rect x="221.1" y="1250.7" width="21.1" height="32.1" fill="#c1c3c6" stroke="#8f8f8f" stroke-width="1.3"/>
<text x="92.4" y="1267" font-size="10" font-weight="bold" stroke="#222" stroke-width="0.22" text-anchor="middle" fill="#222">**</text>
<text x="162" y="1258.8" font-size="10" font-weight="bold" stroke="#222" stroke-width="0.22" text-anchor="middle" fill="#222">**</text>
<text x="196.9" y="1169.5" font-size="12.2" text-anchor="middle" fill="#111" stroke="#111" stroke-width="0.3">ns</text>
<text x="231.6" y="1241.8" font-size="10" font-weight="bold" stroke="#222" stroke-width="0.22" text-anchor="middle" fill="#222">*</text>
<path d="M69.2 1282.8H255.2" stroke="#222" stroke-width="1.3"/>
<text transform="translate(24.6,1213) rotate(-90)" font-size="11.3" font-weight="bold" stroke="#111" stroke-width="0.38" text-anchor="middle" fill="#111">Relative protein levels</text>
<text transform="translate(40.2,1213.3) rotate(-90)" font-size="13.2" font-weight="bold" stroke="#111" stroke-width="0.38" text-anchor="middle" fill="#111"><tspan font-weight="normal" stroke="none" fill="#333">（</tspan>NOX2/β-actin<tspan font-weight="normal" stroke="none" fill="#333">）</tspan></text>
<text transform="translate(96,1298.2) rotate(-45)" font-size="10.5" font-weight="bold" stroke="#111" stroke-width="0.38" text-anchor="end" fill="#111">Normal</text>
<text transform="translate(130.8,1298.2) rotate(-45)" font-size="10.5" font-weight="bold" stroke="#111" stroke-width="0.38" text-anchor="end" fill="#111">DSS</text>
<text transform="translate(165.6,1298.2) rotate(-45)" font-size="10.5" font-weight="bold" stroke="#111" stroke-width="0.38" text-anchor="end" fill="#111">DSS+miR-31-5p antagomir</text>
<text transform="translate(200.5,1298.2) rotate(-45)" font-size="10.5" font-weight="bold" stroke="#111" stroke-width="0.38" text-anchor="end" fill="#111">DSS+NC antagomir</text>
<text transform="translate(235.2,1298.2) rotate(-45)" font-size="10.5" font-weight="bold" stroke="#111" stroke-width="0.38" text-anchor="end" fill="#111">DSS+Dexamethasone</text>
<path d="M332 1144.4V1282.8H518M332 1145h-5.6M332 1179.2h-5.6M332 1213.8h-5.6M332 1248.2h-5.6M332 1282.8h-5.6M355 1282.8v5.6M389.9 1282.8v5.6M424.5 1282.8v5.6M459.2 1282.8v5.6M493.9 1282.8v5.6" fill="none" stroke="#222" stroke-width="1.2"/>
<text x="324.2" y="1148.5" font-size="10" font-weight="bold" stroke="#111" stroke-width="0.22" text-anchor="end" fill="#111">0.8</text>
<text x="324.2" y="1182.8" font-size="10" font-weight="bold" stroke="#111" stroke-width="0.22" text-anchor="end" fill="#111">0.6</text>
<text x="324.2" y="1217.3" font-size="10" font-weight="bold" stroke="#111" stroke-width="0.22" text-anchor="end" fill="#111">0.4</text>
<text x="324.2" y="1251.8" font-size="10" font-weight="bold" stroke="#111" stroke-width="0.22" text-anchor="end" fill="#111">0.2</text>
<text x="324.2" y="1286.3" font-size="10" font-weight="bold" stroke="#111" stroke-width="0.22" text-anchor="end" fill="#111">0.0</text>
<path d="M355 1179.5V1172M349.7 1172h10.5" fill="none" stroke="#333333" stroke-width="0.9"/>
<rect x="344.4" y="1180.2" width="21.1" height="102.6" fill="#000000" stroke="#000000" stroke-width="1.3"/>
<path d="M389.9 1277V1274.5M384.6 1274.5h10.5" fill="none" stroke="#d9a468" stroke-width="0.9"/>
<rect x="379.3" y="1277.7" width="21.1" height="5.1" fill="#e9a85f" stroke="#5a4326" stroke-width="1.3"/>
<path d="M424.5 1238.2V1233.2M419.2 1233.2h10.5" fill="none" stroke="#8aa6cf" stroke-width="0.9"/>
<rect x="413.9" y="1238.9" width="21.1" height="43.9" fill="#9fb8da" stroke="#31558f" stroke-width="1.3"/>
<path d="M459.2 1277.5V1274.5M454 1274.5h10.5" fill="none" stroke="#e08c88" stroke-width="0.9"/>
<rect x="448.7" y="1278.2" width="21.1" height="4.6" fill="#e98f8b" stroke="#c9363a" stroke-width="1.3"/>
<path d="M493.9 1269.5V1267M488.6 1267h10.5" fill="none" stroke="#bcbcbc" stroke-width="0.9"/>
<rect x="483.3" y="1270.2" width="21.1" height="12.6" fill="#c1c3c6" stroke="#8f8f8f" stroke-width="1.3"/>
<text x="355" y="1168" font-size="10" font-weight="bold" stroke="#222" stroke-width="0.22" text-anchor="middle" fill="#222">**</text>
<text x="424.5" y="1228" font-size="10" font-weight="bold" stroke="#222" stroke-width="0.22" text-anchor="middle" fill="#222">**</text>
<text x="459.2" y="1265.8" font-size="12.2" text-anchor="middle" fill="#111" stroke="#111" stroke-width="0.3">ns</text>
<text x="493.9" y="1258.3" font-size="12.2" text-anchor="middle" fill="#111" stroke="#111" stroke-width="0.3">ns</text>
<path d="M332 1282.8H518" stroke="#222" stroke-width="1.3"/>
<text transform="translate(287,1213) rotate(-90)" font-size="11.3" font-weight="bold" stroke="#111" stroke-width="0.38" text-anchor="middle" fill="#111">Relative protein levels</text>
<text transform="translate(302.2,1214) rotate(-90)" font-size="12.4" font-weight="bold" stroke="#111" stroke-width="0.38" text-anchor="middle" fill="#111"><tspan font-weight="normal" stroke="none" fill="#333">（</tspan>HADHB/β-actin<tspan font-weight="normal" stroke="none" fill="#333">）</tspan></text>
<text transform="translate(358.6,1298.2) rotate(-45)" font-size="10.5" font-weight="bold" stroke="#111" stroke-width="0.38" text-anchor="end" fill="#111">Normal</text>
<text transform="translate(393.5,1298.2) rotate(-45)" font-size="10.5" font-weight="bold" stroke="#111" stroke-width="0.38" text-anchor="end" fill="#111">DSS</text>
<text transform="translate(428.1,1298.2) rotate(-45)" font-size="10.5" font-weight="bold" stroke="#111" stroke-width="0.38" text-anchor="end" fill="#111">DSS+miR-31-5p antagomir</text>
<text transform="translate(462.9,1298.2) rotate(-45)" font-size="10.5" font-weight="bold" stroke="#111" stroke-width="0.38" text-anchor="end" fill="#111">DSS+NC antagomir</text>
<text transform="translate(497.5,1298.2) rotate(-45)" font-size="10.5" font-weight="bold" stroke="#111" stroke-width="0.38" text-anchor="end" fill="#111">DSS+Dexamethasone</text>
<path d="M573.8 1144.4V1282.8H759.8M573.8 1145h-5.6M573.8 1179.2h-5.6M573.8 1213.8h-5.6M573.8 1248.2h-5.6M573.8 1282.8h-5.6M596.2 1282.8v5.6M631.1 1282.8v5.6M665.8 1282.8v5.6M700.6 1282.8v5.6M735.4 1282.8v5.6" fill="none" stroke="#222" stroke-width="1.2"/>
<text x="565.9" y="1148.5" font-size="10" font-weight="bold" stroke="#111" stroke-width="0.22" text-anchor="end" fill="#111">0.4</text>
<text x="565.9" y="1182.8" font-size="10" font-weight="bold" stroke="#111" stroke-width="0.22" text-anchor="end" fill="#111">0.3</text>
<text x="565.9" y="1217.3" font-size="10" font-weight="bold" stroke="#111" stroke-width="0.22" text-anchor="end" fill="#111">0.2</text>
<text x="565.9" y="1251.8" font-size="10" font-weight="bold" stroke="#111" stroke-width="0.22" text-anchor="end" fill="#111">0.1</text>
<text x="565.9" y="1286.3" font-size="10" font-weight="bold" stroke="#111" stroke-width="0.22" text-anchor="end" fill="#111">0.0</text>
<path d="M596.2 1268.2V1264.2M591 1264.2h10.5" fill="none" stroke="#333333" stroke-width="0.9"/>
<rect x="585.7" y="1268.9" width="21.1" height="13.8" fill="#000000" stroke="#000000" stroke-width="1.3"/>
<path d="M631.1 1183.2V1168.8M625.8 1168.8h10.5" fill="none" stroke="#d9a468" stroke-width="0.9"/>
<rect x="620.5" y="1183.9" width="21.1" height="98.8" fill="#e9a85f" stroke="#5a4326" stroke-width="1.3"/>
<path d="M665.8 1261.2V1255.8M660.5 1255.8h10.5" fill="none" stroke="#8aa6cf" stroke-width="0.9"/>
<rect x="655.2" y="1261.9" width="21.1" height="20.9" fill="#9fb8da" stroke="#31558f" stroke-width="1.3"/>
<path d="M700.6 1178.8V1163.5M695.3 1163.5h10.5" fill="none" stroke="#e08c88" stroke-width="0.9"/>
<rect x="690" y="1179.4" width="21.1" height="103.3" fill="#e98f8b" stroke="#c9363a" stroke-width="1.3"/>
<path d="M735.4 1250.2V1248.8M730.1 1248.8h10.5" fill="none" stroke="#bcbcbc" stroke-width="0.9"/>
<rect x="724.8" y="1250.9" width="21.1" height="31.9" fill="#c1c3c6" stroke="#8f8f8f" stroke-width="1.3"/>
<text x="596.2" y="1260.5" font-size="10" font-weight="bold" stroke="#222" stroke-width="0.22" text-anchor="middle" fill="#222">*</text>
<text x="665.8" y="1250" font-size="10" font-weight="bold" stroke="#222" stroke-width="0.22" text-anchor="middle" fill="#222">*</text>
<text x="700.6" y="1156.5" font-size="12.2" text-anchor="middle" fill="#111" stroke="#111" stroke-width="0.3">ns</text>
<text x="735.4" y="1238.3" font-size="12.2" text-anchor="middle" fill="#111" stroke="#111" stroke-width="0.3">ns</text>
<path d="M573.8 1282.8H759.8" stroke="#222" stroke-width="1.3"/>
<text transform="translate(529,1213) rotate(-90)" font-size="11.3" font-weight="bold" stroke="#111" stroke-width="0.38" text-anchor="middle" fill="#111">Relative protein levels</text>
<text transform="translate(545.2,1213.3) rotate(-90)" font-size="13.2" font-weight="bold" stroke="#111" stroke-width="0.38" text-anchor="middle" fill="#111"><tspan font-weight="normal" stroke="none" fill="#333">（</tspan>iNOS/β-actin<tspan font-weight="normal" stroke="none" fill="#333">）</tspan></text>
<text transform="translate(599.9,1298.2) rotate(-45)" font-size="10.5" font-weight="bold" stroke="#111" stroke-width="0.38" text-anchor="end" fill="#111">Normal</text>
<text transform="translate(634.7,1298.2) rotate(-45)" font-size="10.5" font-weight="bold" stroke="#111" stroke-width="0.38" text-anchor="end" fill="#111">DSS</text>
<text transform="translate(669.4,1298.2) rotate(-45)" font-size="10.5" font-weight="bold" stroke="#111" stroke-width="0.38" text-anchor="end" fill="#111">DSS+miR-31-5p antagomir</text>
<text transform="translate(704.2,1298.2) rotate(-45)" font-size="10.5" font-weight="bold" stroke="#111" stroke-width="0.38" text-anchor="end" fill="#111">DSS+NC antagomir</text>
<text transform="translate(739,1298.2) rotate(-45)" font-size="10.5" font-weight="bold" stroke="#111" stroke-width="0.38" text-anchor="end" fill="#111">DSS+Dexamethasone</text>
<path d="M828.8 1144.4V1282.8H1014.8M828.8 1145h-5.6M828.8 1190.5h-5.6M828.8 1236.8h-5.6M828.8 1282.8h-5.6M851.5 1282.8v5.6M886.2 1282.8v5.6M921.2 1282.8v5.6M955.9 1282.8v5.6M990.8 1282.8v5.6" fill="none" stroke="#222" stroke-width="1.2"/>
<text x="820.9" y="1148.5" font-size="10" font-weight="bold" stroke="#111" stroke-width="0.22" text-anchor="end" fill="#111">0.6</text>
<text x="820.9" y="1194" font-size="10" font-weight="bold" stroke="#111" stroke-width="0.22" text-anchor="end" fill="#111">0.4</text>
<text x="820.9" y="1240.3" font-size="10" font-weight="bold" stroke="#111" stroke-width="0.22" text-anchor="end" fill="#111">0.2</text>
<text x="820.9" y="1286.3" font-size="10" font-weight="bold" stroke="#111" stroke-width="0.22" text-anchor="end" fill="#111">0.0</text>
<path d="M851.5 1169.5V1166M846.2 1166h10.5" fill="none" stroke="#333333" stroke-width="0.9"/>
<rect x="840.9" y="1170.2" width="21.1" height="112.6" fill="#000000" stroke="#000000" stroke-width="1.3"/>
<path d="M886.2 1271.8V1269M881 1269h10.5" fill="none" stroke="#d9a468" stroke-width="0.9"/>
<rect x="875.7" y="1272.4" width="21.1" height="10.3" fill="#e9a85f" stroke="#5a4326" stroke-width="1.3"/>
<path d="M921.2 1225V1220.8M916 1220.8h10.5" fill="none" stroke="#8aa6cf" stroke-width="0.9"/>
<rect x="910.7" y="1225.7" width="21.1" height="57.1" fill="#9fb8da" stroke="#31558f" stroke-width="1.3"/>
<path d="M955.9 1271.8V1269.5M950.6 1269.5h10.5" fill="none" stroke="#e08c88" stroke-width="0.9"/>
<rect x="945.3" y="1272.4" width="21.1" height="10.3" fill="#e98f8b" stroke="#c9363a" stroke-width="1.3"/>
<path d="M990.8 1249.5V1248.3M985.5 1248.3h10.5" fill="none" stroke="#bcbcbc" stroke-width="0.9"/>
<rect x="980.2" y="1250.2" width="21.1" height="32.6" fill="#c1c3c6" stroke="#8f8f8f" stroke-width="1.3"/>
<text x="851.5" y="1162.5" font-size="10" font-weight="bold" stroke="#222" stroke-width="0.22" text-anchor="middle" fill="#222">****</text>
<text x="921.2" y="1216.8" font-size="10" font-weight="bold" stroke="#222" stroke-width="0.22" text-anchor="middle" fill="#222">**</text>
<text x="955.9" y="1261.3" font-size="12.2" text-anchor="middle" fill="#111" stroke="#111" stroke-width="0.3">ns</text>
<text x="990.8" y="1245.5" font-size="10" font-weight="bold" stroke="#222" stroke-width="0.22" text-anchor="middle" fill="#222">*</text>
<path d="M828.8 1282.8H1014.8" stroke="#222" stroke-width="1.3"/>
<text transform="translate(784,1213) rotate(-90)" font-size="11.3" font-weight="bold" stroke="#111" stroke-width="0.38" text-anchor="middle" fill="#111">Relative protein levels</text>
<text transform="translate(800.2,1213) rotate(-90)" font-size="13.2" font-weight="bold" stroke="#111" stroke-width="0.38" text-anchor="middle" fill="#111"><tspan font-weight="normal" stroke="none" fill="#333">（</tspan>Arg1/β-actin<tspan font-weight="normal" stroke="none" fill="#333">）</tspan></text>
<text transform="translate(855.1,1298.2) rotate(-45)" font-size="10.5" font-weight="bold" stroke="#111" stroke-width="0.38" text-anchor="end" fill="#111">Normal</text>
<text transform="translate(889.9,1298.2) rotate(-45)" font-size="10.5" font-weight="bold" stroke="#111" stroke-width="0.38" text-anchor="end" fill="#111">DSS</text>
<text transform="translate(924.9,1298.2) rotate(-45)" font-size="10.5" font-weight="bold" stroke="#111" stroke-width="0.38" text-anchor="end" fill="#111">DSS+miR-31-5p antagomir</text>
<text transform="translate(959.5,1298.2) rotate(-45)" font-size="10.5" font-weight="bold" stroke="#111" stroke-width="0.38" text-anchor="end" fill="#111">DSS+NC antagomir</text>
<text transform="translate(994.4,1298.2) rotate(-45)" font-size="10.5" font-weight="bold" stroke="#111" stroke-width="0.38" text-anchor="end" fill="#111">DSS+Dexamethasone</text>
</g>
</svg>
</body>
</html>
